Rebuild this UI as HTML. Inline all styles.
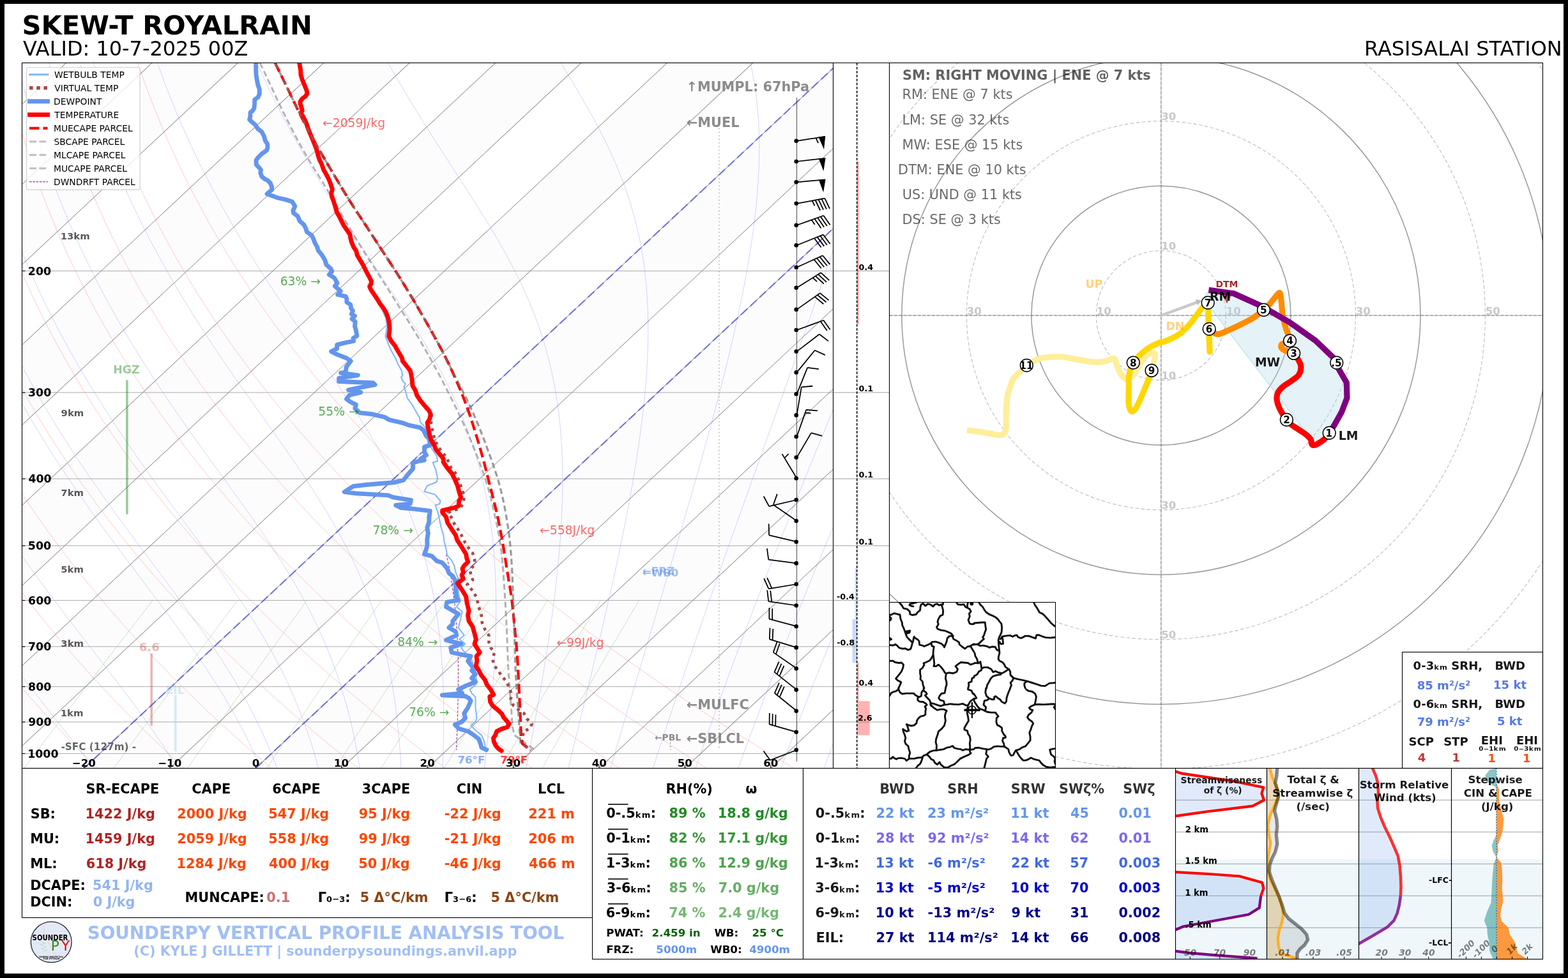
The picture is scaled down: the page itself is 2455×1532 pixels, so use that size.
<!DOCTYPE html>
<html><head><meta charset="utf-8"><title>SKEW-T ROYALRAIN</title>
<style>html,body{margin:0;padding:0;background:#fff;}svg{display:block;font-family:'DejaVu Sans','Liberation Sans',sans-serif;}</style></head>
<body><svg width="2455" height="1532" viewBox="0 0 2455 1532">
<rect x="0" y="0" width="2455" height="1532" fill="#fff"/>
<defs><clipPath id="skc"><rect x="34.5" y="98.5" width="1270.0" height="1105.0"/></clipPath></defs>
<g clip-path="url(#skc)">
<path d="M-943.7,1203.5 L238.1,98.5 L372.5,98.5 L-809.3,1203.5 Z" fill="#808080" stroke="none" stroke-width="1" fill-opacity="0.025"/>
<path d="M-674.9,1203.5 L506.9,98.5 L641.3,98.5 L-540.5,1203.5 Z" fill="#808080" stroke="none" stroke-width="1" fill-opacity="0.025"/>
<path d="M-406.1,1203.5 L775.7,98.5 L910.1,98.5 L-271.7,1203.5 Z" fill="#808080" stroke="none" stroke-width="1" fill-opacity="0.025"/>
<path d="M-137.3,1203.5 L1044.5,98.5 L1178.9,98.5 L-2.9,1203.5 Z" fill="#808080" stroke="none" stroke-width="1" fill-opacity="0.025"/>
<path d="M131.5,1203.5 L1313.3,98.5 L1447.7,98.5 L265.9,1203.5 Z" fill="#808080" stroke="none" stroke-width="1" fill-opacity="0.025"/>
<path d="M400.3,1203.5 L1582.1,98.5 L1716.5,98.5 L534.7,1203.5 Z" fill="#808080" stroke="none" stroke-width="1" fill-opacity="0.025"/>
<path d="M669.1,1203.5 L1850.9,98.5 L1985.3,98.5 L803.5,1203.5 Z" fill="#808080" stroke="none" stroke-width="1" fill-opacity="0.025"/>
<path d="M937.9,1203.5 L2119.7,98.5 L2254.1,98.5 L1072.3,1203.5 Z" fill="#808080" stroke="none" stroke-width="1" fill-opacity="0.025"/>
<path d="M239.0,940.5 L225.7,957.8 L212.8,974.5 L200.3,990.6 L188.3,1006.1 L176.7,1021.2 L165.5,1035.8 L154.6,1050.0 L144.0,1063.7 L133.8,1077.1 L123.9,1090.1 L114.2,1102.7 L104.8,1115.0 L95.6,1127.0 L86.7,1138.7 L78.0,1150.1 L69.5,1161.3 L61.3,1172.1 L53.2,1182.8 L45.3,1193.2 L37.6,1203.4" fill="none" stroke="#008000" stroke-width="0.6" stroke-opacity="0.35"/>
<path d="M371.8,940.5 L358.9,957.8 L346.4,974.5 L334.5,990.6 L322.9,1006.1 L311.7,1021.2 L300.9,1035.8 L290.5,1050.0 L280.3,1063.7 L270.5,1077.1 L260.9,1090.1 L251.6,1102.7 L242.6,1115.0 L233.8,1127.0 L225.2,1138.7 L216.9,1150.1 L208.7,1161.3 L200.8,1172.1 L193.0,1182.8 L185.5,1193.2 L178.1,1203.4" fill="none" stroke="#008000" stroke-width="0.6" stroke-opacity="0.35"/>
<path d="M480.6,940.5 L468.1,957.8 L456.1,974.5 L444.5,990.6 L433.4,1006.1 L422.6,1021.2 L412.1,1035.8 L402.0,1050.0 L392.2,1063.7 L382.7,1077.1 L373.5,1090.1 L364.5,1102.7 L355.8,1115.0 L347.3,1127.0 L339.0,1138.7 L331.0,1150.1 L323.1,1161.3 L315.5,1172.1 L308.0,1182.8 L300.7,1193.2 L293.5,1203.4" fill="none" stroke="#008000" stroke-width="0.6" stroke-opacity="0.35"/>
<path d="M597.4,940.5 L585.4,957.8 L573.9,974.5 L562.7,990.6 L552.0,1006.1 L541.6,1021.2 L531.6,1035.8 L521.9,1050.0 L512.4,1063.7 L503.3,1077.1 L494.4,1090.1 L485.8,1102.7 L477.5,1115.0 L469.3,1127.0 L461.4,1138.7 L453.7,1150.1 L446.1,1161.3 L438.8,1172.1 L431.6,1182.8 L424.6,1193.2 L417.8,1203.4" fill="none" stroke="#008000" stroke-width="0.6" stroke-opacity="0.35"/>
<path d="M698.1,940.5 L686.5,957.8 L675.3,974.5 L664.6,990.6 L654.2,1006.1 L644.2,1021.2 L634.5,1035.8 L625.2,1050.0 L616.1,1063.7 L607.3,1077.1 L598.7,1090.1 L590.5,1102.7 L582.4,1115.0 L574.6,1127.0 L566.9,1138.7 L559.5,1150.1 L552.3,1161.3 L545.2,1172.1 L538.3,1182.8 L531.6,1193.2 L525.0,1203.4" fill="none" stroke="#008000" stroke-width="0.6" stroke-opacity="0.35"/>
<path d="M765.2,940.5 L753.9,957.8 L743.1,974.5 L732.6,990.6 L722.5,1006.1 L712.7,1021.2 L703.3,1035.8 L694.2,1050.0 L685.3,1063.7 L676.8,1077.1 L668.5,1090.1 L660.4,1102.7 L652.5,1115.0 L644.9,1127.0 L637.5,1138.7 L630.3,1150.1 L623.2,1161.3 L616.4,1172.1 L609.7,1182.8 L603.1,1193.2 L596.8,1203.4" fill="none" stroke="#008000" stroke-width="0.6" stroke-opacity="0.35"/>
<path d="M857.4,940.5 L846.5,957.8 L836.0,974.5 L825.9,990.6 L816.2,1006.1 L806.8,1021.2 L797.7,1035.8 L788.9,1050.0 L780.4,1063.7 L772.2,1077.1 L764.2,1090.1 L756.4,1102.7 L748.9,1115.0 L741.6,1127.0 L734.4,1138.7 L727.5,1150.1 L720.7,1161.3 L714.1,1172.1 L707.7,1182.8 L701.5,1193.2 L695.3,1203.4" fill="none" stroke="#008000" stroke-width="0.6" stroke-opacity="0.35"/>
<path d="M940.2,940.5 L929.6,957.8 L919.5,974.5 L909.8,990.6 L900.4,1006.1 L891.3,1021.2 L882.5,1035.8 L874.1,1050.0 L865.9,1063.7 L857.9,1077.1 L850.2,1090.1 L842.8,1102.7 L835.5,1115.0 L828.4,1127.0 L821.6,1138.7 L814.9,1150.1 L808.4,1161.3 L802.1,1172.1 L795.9,1182.8 L789.9,1193.2 L784.0,1203.4" fill="none" stroke="#008000" stroke-width="0.6" stroke-opacity="0.35"/>
<path d="M1000.6,940.5 L990.3,957.8 L980.5,974.5 L971.0,990.6 L961.8,1006.1 L953.0,1021.2 L944.5,1035.8 L936.2,1050.0 L928.3,1063.7 L920.5,1077.1 L913.1,1090.1 L905.8,1102.7 L898.7,1115.0 L891.9,1127.0 L885.2,1138.7 L878.8,1150.1 L872.4,1161.3 L866.3,1172.1 L860.3,1182.8 L854.5,1193.2 L848.8,1203.4" fill="none" stroke="#008000" stroke-width="0.6" stroke-opacity="0.35"/>
<path d="M-480.2,98.8 L-482.5,126.4 L-484.3,154.0 L-485.7,181.6 L-486.5,209.3 L-486.9,236.9 L-486.8,264.5 L-486.2,292.1 L-485.1,319.7 L-483.5,347.3 L-481.3,374.9 L-478.6,402.6 L-475.3,430.2 L-471.5,457.8 L-467.2,485.4 L-462.2,513.0 L-456.7,540.6 L-450.6,568.2 L-443.8,595.9 L-436.5,623.5 L-428.5,651.1 L-419.9,678.7 L-410.7,706.3 L-400.8,733.9 L-390.2,761.5 L-379.0,789.1 L-367.0,816.8 L-354.4,844.4 L-341.0,872.0 L-326.9,899.6 L-312.1,927.2 L-296.6,954.8 L-280.2,982.4 L-263.1,1010.1 L-245.2,1037.7 L-226.5,1065.3 L-207.0,1092.9 L-186.6,1120.5 L-165.4,1148.1 L-143.4,1175.7 L-120.4,1203.4" fill="none" stroke="#ff0000" stroke-width="0.7" stroke-opacity="0.3"/>
<path d="M-410.6,98.8 L-411.7,126.4 L-412.3,154.0 L-412.5,181.6 L-412.1,209.3 L-411.2,236.9 L-409.8,264.5 L-407.9,292.1 L-405.5,319.7 L-402.5,347.3 L-398.9,374.9 L-394.8,402.6 L-390.2,430.2 L-384.9,457.8 L-379.1,485.4 L-372.7,513.0 L-365.6,540.6 L-357.9,568.2 L-349.6,595.9 L-340.7,623.5 L-331.1,651.1 L-320.9,678.7 L-310.0,706.3 L-298.3,733.9 L-286.0,761.5 L-273.0,789.1 L-259.3,816.8 L-244.8,844.4 L-229.6,872.0 L-213.6,899.6 L-196.9,927.2 L-179.4,954.8 L-161.1,982.4 L-141.9,1010.1 L-122.0,1037.7 L-101.2,1065.3 L-79.5,1092.9 L-57.0,1120.5 L-33.6,1148.1 L-9.3,1175.7 L15.9,1203.4" fill="none" stroke="#ff0000" stroke-width="0.7" stroke-opacity="0.3"/>
<path d="M-341.0,98.8 L-340.9,126.4 L-340.3,154.0 L-339.2,181.6 L-337.6,209.3 L-335.5,236.9 L-332.8,264.5 L-329.6,292.1 L-325.8,319.7 L-321.5,347.3 L-316.6,374.9 L-311.1,402.6 L-305.0,430.2 L-298.3,457.8 L-291.0,485.4 L-283.1,513.0 L-274.5,540.6 L-265.3,568.2 L-255.5,595.9 L-244.9,623.5 L-233.7,651.1 L-221.8,678.7 L-209.2,706.3 L-195.9,733.9 L-181.9,761.5 L-167.1,789.1 L-151.6,816.8 L-135.3,844.4 L-118.2,872.0 L-100.4,899.6 L-81.7,927.2 L-62.2,954.8 L-41.9,982.4 L-20.8,1010.1 L1.2,1037.7 L24.1,1065.3 L47.9,1092.9 L72.6,1120.5 L98.2,1148.1 L124.7,1175.7 L152.2,1203.4" fill="none" stroke="#ff0000" stroke-width="0.7" stroke-opacity="0.3"/>
<path d="M-271.4,98.8 L-270.1,126.4 L-268.3,154.0 L-266.0,181.6 L-263.2,209.3 L-259.8,236.9 L-255.8,264.5 L-251.3,292.1 L-246.2,319.7 L-240.5,347.3 L-234.2,374.9 L-227.4,402.6 L-219.9,430.2 L-211.7,457.8 L-203.0,485.4 L-193.5,513.0 L-183.5,540.6 L-172.7,568.2 L-161.3,595.9 L-149.2,623.5 L-136.3,651.1 L-122.8,678.7 L-108.5,706.3 L-93.5,733.9 L-77.7,761.5 L-61.2,789.1 L-43.8,816.8 L-25.7,844.4 L-6.8,872.0 L12.9,899.6 L33.5,927.2 L55.0,954.8 L77.2,982.4 L100.4,1010.1 L124.5,1037.7 L149.4,1065.3 L175.3,1092.9 L202.2,1120.5 L229.9,1148.1 L258.7,1175.7 L288.4,1203.4" fill="none" stroke="#ff0000" stroke-width="0.7" stroke-opacity="0.3"/>
<path d="M-201.8,98.8 L-199.3,126.4 L-196.4,154.0 L-192.8,181.6 L-188.7,209.3 L-184.1,236.9 L-178.8,264.5 L-173.0,292.1 L-166.6,319.7 L-159.6,347.3 L-151.9,374.9 L-143.6,402.6 L-134.7,430.2 L-125.1,457.8 L-114.9,485.4 L-104.0,513.0 L-92.4,540.6 L-80.1,568.2 L-67.1,595.9 L-53.4,623.5 L-38.9,651.1 L-23.7,678.7 L-7.8,706.3 L9.0,733.9 L26.5,761.5 L44.8,789.1 L63.9,816.8 L83.8,844.4 L104.6,872.0 L126.2,899.6 L148.7,927.2 L172.1,954.8 L196.4,982.4 L221.6,1010.1 L247.7,1037.7 L274.7,1065.3 L302.8,1092.9 L331.7,1120.5 L361.7,1148.1 L392.7,1175.7 L424.7,1203.4" fill="none" stroke="#ff0000" stroke-width="0.7" stroke-opacity="0.3"/>
<path d="M-132.1,98.8 L-128.5,126.4 L-124.4,154.0 L-119.6,181.6 L-114.3,209.3 L-108.4,236.9 L-101.8,264.5 L-94.7,292.1 L-87.0,319.7 L-78.6,347.3 L-69.6,374.9 L-59.9,402.6 L-49.5,430.2 L-38.5,457.8 L-26.8,485.4 L-14.4,513.0 L-1.3,540.6 L12.5,568.2 L27.1,595.9 L42.4,623.5 L58.5,651.1 L75.3,678.7 L93.0,706.3 L111.4,733.9 L130.6,761.5 L150.7,789.1 L171.6,816.8 L193.4,844.4 L216.0,872.0 L239.5,899.6 L264.0,927.2 L289.3,954.8 L315.5,982.4 L342.7,1010.1 L370.9,1037.7 L400.1,1065.3 L430.2,1092.9 L461.3,1120.5 L493.5,1148.1 L526.7,1175.7 L561.0,1203.4" fill="none" stroke="#ff0000" stroke-width="0.7" stroke-opacity="0.3"/>
<path d="M-62.5,98.8 L-57.7,126.4 L-52.4,154.0 L-46.4,181.6 L-39.8,209.3 L-32.7,236.9 L-24.8,264.5 L-16.4,292.1 L-7.3,319.7 L2.4,347.3 L12.8,374.9 L23.9,402.6 L35.6,430.2 L48.1,457.8 L61.2,485.4 L75.1,513.0 L89.8,540.6 L105.1,568.2 L121.3,595.9 L138.2,623.5 L155.9,651.1 L174.4,678.7 L193.7,706.3 L213.8,733.9 L234.8,761.5 L256.7,789.1 L279.4,816.8 L302.9,844.4 L327.4,872.0 L352.8,899.6 L379.2,927.2 L406.5,954.8 L434.7,982.4 L463.9,1010.1 L494.1,1037.7 L525.4,1065.3 L557.6,1092.9 L590.9,1120.5 L625.3,1148.1 L660.7,1175.7 L697.3,1203.4" fill="none" stroke="#ff0000" stroke-width="0.7" stroke-opacity="0.3"/>
<path d="M7.1,98.8 L13.1,126.4 L19.6,154.0 L26.8,181.6 L34.6,209.3 L43.1,236.9 L52.1,264.5 L61.9,292.1 L72.3,319.7 L83.4,347.3 L95.1,374.9 L107.6,402.6 L120.8,430.2 L134.7,457.8 L149.3,485.4 L164.7,513.0 L180.8,540.6 L197.8,568.2 L215.5,595.9 L234.0,623.5 L253.3,651.1 L273.4,678.7 L294.4,706.3 L316.3,733.9 L339.0,761.5 L362.6,789.1 L387.1,816.8 L412.5,844.4 L438.8,872.0 L466.1,899.6 L494.4,927.2 L523.6,954.8 L553.9,982.4 L585.1,1010.1 L617.4,1037.7 L650.7,1065.3 L685.1,1092.9 L720.5,1120.5 L757.1,1148.1 L794.8,1175.7 L833.6,1203.4" fill="none" stroke="#ff0000" stroke-width="0.7" stroke-opacity="0.3"/>
<path d="M76.7,98.8 L83.8,126.4 L91.6,154.0 L100.0,181.6 L109.1,209.3 L118.8,236.9 L129.1,264.5 L140.2,292.1 L151.9,319.7 L164.3,347.3 L177.5,374.9 L191.3,402.6 L205.9,430.2 L221.3,457.8 L237.4,485.4 L254.3,513.0 L271.9,540.6 L290.4,568.2 L309.7,595.9 L329.8,623.5 L350.7,651.1 L372.5,678.7 L395.2,706.3 L418.7,733.9 L443.2,761.5 L468.5,789.1 L494.8,816.8 L522.1,844.4 L550.3,872.0 L579.4,899.6 L609.6,927.2 L640.8,954.8 L673.0,982.4 L706.3,1010.1 L740.6,1037.7 L776.0,1065.3 L812.5,1092.9 L850.1,1120.5 L888.9,1148.1 L928.8,1175.7 L969.9,1203.4" fill="none" stroke="#ff0000" stroke-width="0.7" stroke-opacity="0.3"/>
<path d="M146.3,98.8 L154.6,126.4 L163.6,154.0 L173.2,181.6 L183.5,209.3 L194.5,236.9 L206.1,264.5 L218.5,292.1 L231.5,319.7 L245.3,347.3 L259.8,374.9 L275.1,402.6 L291.1,430.2 L307.9,457.8 L325.4,485.4 L343.8,513.0 L363.0,540.6 L383.0,568.2 L403.8,595.9 L425.5,623.5 L448.1,651.1 L471.5,678.7 L495.9,706.3 L521.1,733.9 L547.3,761.5 L574.5,789.1 L602.5,816.8 L631.6,844.4 L661.7,872.0 L692.7,899.6 L724.8,927.2 L758.0,954.8 L792.2,982.4 L827.4,1010.1 L863.8,1037.7 L901.3,1065.3 L939.9,1092.9 L979.7,1120.5 L1020.7,1148.1 L1062.8,1175.7 L1106.2,1203.4" fill="none" stroke="#ff0000" stroke-width="0.7" stroke-opacity="0.3"/>
<path d="M215.9,98.8 L225.4,126.4 L235.6,154.0 L246.4,181.6 L258.0,209.3 L270.2,236.9 L283.1,264.5 L296.8,292.1 L311.2,319.7 L326.3,347.3 L342.2,374.9 L358.8,402.6 L376.2,430.2 L394.5,457.8 L413.5,485.4 L433.4,513.0 L454.1,540.6 L475.6,568.2 L498.0,595.9 L521.3,623.5 L545.5,651.1 L570.6,678.7 L596.6,706.3 L623.6,733.9 L651.5,761.5 L680.4,789.1 L710.3,816.8 L741.2,844.4 L773.1,872.0 L806.0,899.6 L840.0,927.2 L875.1,954.8 L911.3,982.4 L948.6,1010.1 L987.0,1037.7 L1026.6,1065.3 L1067.4,1092.9 L1109.3,1120.5 L1152.4,1148.1 L1196.8,1175.7 L1242.4,1203.4" fill="none" stroke="#ff0000" stroke-width="0.7" stroke-opacity="0.3"/>
<path d="M-478.6,98.8 L-482.0,143.6 L-484.1,184.4 L-485.0,222.0 L-485.1,256.9 L-484.5,289.3 L-483.2,319.6 L-481.5,348.1 L-479.4,374.9 L-476.9,400.3 L-474.1,424.4 L-471.0,447.3 L-467.8,469.2 L-464.3,490.1 L-460.7,510.1 L-456.9,529.2 L-453.0,547.7 L-449.1,565.4 L-445.0,582.5 L-440.8,598.9 L-436.6,614.9 L-432.3,630.3 L-428.0,645.2 L-423.6,659.6 L-419.2,673.7 L-414.8,687.3 L-410.3,700.5 L-405.8,713.4 L-401.3,725.9 L-396.8,738.1 L-392.3,750.0 L-387.8,761.6 L-383.2,772.9 L-378.7,784.0 L-374.1,794.8 L-369.6,805.3 L-365.0,815.7 L-360.5,825.8 L-355.9,835.7 L-351.4,845.3 L-346.9,854.8 L-342.3,864.1 L-337.8,873.3 L-333.3,882.2 L-328.8,891.0 L-324.4,899.6 L-319.9,908.1 L-315.4,916.4 L-311.0,924.6 L-306.5,932.6 L-302.1,940.5 L-297.7,948.2 L-293.3,955.9 L-289.0,963.4 L-284.6,970.8 L-280.3,978.1 L-275.9,985.3 L-271.6,992.3 L-267.3,999.3 L-263.0,1006.1 L-258.8,1012.9 L-254.5,1019.6 L-250.3,1026.1 L-246.1,1032.6 L-241.9,1039.0 L-237.7,1045.3 L-233.6,1051.5 L-229.4,1057.7 L-225.3,1063.7 L-221.2,1069.7 L-217.1,1075.6 L-213.0,1081.5 L-209.0,1087.2 L-205.0,1092.9 L-201.0,1098.5 L-197.0,1104.1 L-193.0,1109.6 L-189.0,1115.0 L-185.1,1120.4 L-181.2,1125.7 L-177.3,1130.9 L-173.4,1136.1 L-169.6,1141.3 L-165.8,1146.3 L-161.9,1151.4 L-158.2,1156.3 L-154.4,1161.3 L-150.6,1166.1 L-146.9,1170.9 L-143.2,1175.7 L-139.5,1180.4 L-135.9,1185.1 L-132.2,1189.7 L-128.6,1194.3 L-125.0,1198.9 L-121.4,1203.4" fill="none" stroke="#0000ff" stroke-width="0.7" stroke-opacity="0.25"/>
<path d="M-406.1,98.8 L-407.5,143.6 L-407.7,184.4 L-406.9,222.0 L-405.3,256.9 L-403.0,289.3 L-400.3,319.6 L-397.1,348.1 L-393.6,374.9 L-389.7,400.3 L-385.7,424.4 L-381.4,447.3 L-376.9,469.2 L-372.3,490.1 L-367.5,510.1 L-362.7,529.2 L-357.8,547.7 L-352.7,565.4 L-347.7,582.5 L-342.5,598.9 L-337.4,614.9 L-332.1,630.3 L-326.9,645.2 L-321.6,659.6 L-316.4,673.7 L-311.1,687.3 L-305.8,700.5 L-300.5,713.4 L-295.2,725.9 L-289.8,738.1 L-284.5,750.0 L-279.2,761.6 L-274.0,772.9 L-268.7,784.0 L-263.4,794.8 L-258.1,805.3 L-252.9,815.7 L-247.7,825.8 L-242.5,835.7 L-237.3,845.3 L-232.1,854.8 L-226.9,864.1 L-221.8,873.3 L-216.6,882.2 L-211.5,891.0 L-206.5,899.6 L-201.4,908.1 L-196.4,916.4 L-191.3,924.6 L-186.4,932.6 L-181.4,940.5 L-176.4,948.2 L-171.5,955.9 L-166.6,963.4 L-161.7,970.8 L-156.9,978.1 L-152.1,985.3 L-147.3,992.3 L-142.5,999.3 L-137.8,1006.1 L-133.0,1012.9 L-128.4,1019.6 L-123.7,1026.1 L-119.1,1032.6 L-114.4,1039.0 L-109.9,1045.3 L-105.3,1051.5 L-100.8,1057.7 L-96.3,1063.7 L-91.8,1069.7 L-87.4,1075.6 L-83.0,1081.5 L-78.6,1087.2 L-74.2,1092.9 L-69.9,1098.5 L-65.6,1104.1 L-61.4,1109.6 L-57.1,1115.0 L-52.9,1120.4 L-48.8,1125.7 L-44.7,1130.9 L-40.5,1136.1 L-36.5,1141.3 L-32.4,1146.3 L-28.4,1151.4 L-24.5,1156.3 L-20.5,1161.3 L-16.6,1166.1 L-12.8,1170.9 L-8.9,1175.7 L-5.1,1180.4 L-1.3,1185.1 L2.4,1189.7 L6.1,1194.3 L9.8,1198.9 L13.4,1203.4" fill="none" stroke="#0000ff" stroke-width="0.7" stroke-opacity="0.25"/>
<path d="M-329.4,98.8 L-328.7,143.6 L-326.9,184.4 L-324.3,222.0 L-320.9,256.9 L-317.0,289.3 L-312.6,319.6 L-307.9,348.1 L-302.9,374.9 L-297.7,400.3 L-292.2,424.4 L-286.6,447.3 L-280.9,469.2 L-275.1,490.1 L-269.1,510.1 L-263.1,529.2 L-257.1,547.7 L-251.0,565.4 L-244.8,582.5 L-238.7,598.9 L-232.5,614.9 L-226.3,630.3 L-220.1,645.2 L-213.9,659.6 L-207.7,673.7 L-201.5,687.3 L-195.3,700.5 L-189.1,713.4 L-183.0,725.9 L-176.8,738.1 L-170.7,750.0 L-164.6,761.6 L-158.5,772.9 L-152.5,784.0 L-146.5,794.8 L-140.5,805.3 L-134.5,815.7 L-128.6,825.8 L-122.7,835.7 L-116.8,845.3 L-111.0,854.8 L-105.1,864.1 L-99.4,873.3 L-93.6,882.2 L-87.9,891.0 L-82.2,899.6 L-76.6,908.1 L-71.0,916.4 L-65.4,924.6 L-59.9,932.6 L-54.4,940.5 L-48.9,948.2 L-43.5,955.9 L-38.1,963.4 L-32.8,970.8 L-27.5,978.1 L-22.2,985.3 L-17.0,992.3 L-11.8,999.3 L-6.7,1006.1 L-1.6,1012.9 L3.4,1019.6 L8.4,1026.1 L13.4,1032.6 L18.3,1039.0 L23.2,1045.3 L28.0,1051.5 L32.8,1057.7 L37.5,1063.7 L42.2,1069.7 L46.8,1075.6 L51.4,1081.5 L56.0,1087.2 L60.5,1092.9 L64.9,1098.5 L69.3,1104.1 L73.7,1109.6 L78.0,1115.0 L82.2,1120.4 L86.4,1125.7 L90.6,1130.9 L94.7,1136.1 L98.7,1141.3 L102.7,1146.3 L106.6,1151.4 L110.5,1156.3 L114.4,1161.3 L118.2,1166.1 L121.9,1170.9 L125.6,1175.7 L129.3,1180.4 L132.9,1185.1 L136.4,1189.7 L139.9,1194.3 L143.4,1198.9 L146.8,1203.4" fill="none" stroke="#0000ff" stroke-width="0.7" stroke-opacity="0.25"/>
<path d="M-244.1,98.8 L-241.1,143.6 L-237.0,184.4 L-232.3,222.0 L-227.0,256.9 L-221.2,289.3 L-215.1,319.6 L-208.6,348.1 L-202.0,374.9 L-195.2,400.3 L-188.2,424.4 L-181.2,447.3 L-174.0,469.2 L-166.8,490.1 L-159.6,510.1 L-152.3,529.2 L-145.0,547.7 L-137.7,565.4 L-130.3,582.5 L-123.0,598.9 L-115.7,614.9 L-108.4,630.3 L-101.2,645.2 L-93.9,659.6 L-86.7,673.7 L-79.5,687.3 L-72.4,700.5 L-65.2,713.4 L-58.2,725.9 L-51.1,738.1 L-44.1,750.0 L-37.2,761.6 L-30.3,772.9 L-23.4,784.0 L-16.6,794.8 L-9.8,805.3 L-3.1,815.7 L3.6,825.8 L10.2,835.7 L16.7,845.3 L23.3,854.8 L29.7,864.1 L36.1,873.3 L42.5,882.2 L48.7,891.0 L55.0,899.6 L61.1,908.1 L67.2,916.4 L73.3,924.6 L79.2,932.6 L85.2,940.5 L91.0,948.2 L96.8,955.9 L102.5,963.4 L108.2,970.8 L113.7,978.1 L119.3,985.3 L124.7,992.3 L130.1,999.3 L135.4,1006.1 L140.6,1012.9 L145.8,1019.6 L150.8,1026.1 L155.9,1032.6 L160.8,1039.0 L165.7,1045.3 L170.4,1051.5 L175.2,1057.7 L179.8,1063.7 L184.4,1069.7 L188.9,1075.6 L193.3,1081.5 L197.6,1087.2 L201.9,1092.9 L206.1,1098.5 L210.2,1104.1 L214.3,1109.6 L218.2,1115.0 L222.1,1120.4 L226.0,1125.7 L229.7,1130.9 L233.4,1136.1 L237.1,1141.3 L240.6,1146.3 L244.1,1151.4 L247.5,1156.3 L250.9,1161.3 L254.2,1166.1 L257.4,1170.9 L260.6,1175.7 L263.7,1180.4 L266.7,1185.1 L269.7,1189.7 L272.6,1194.3 L275.5,1198.9 L278.3,1203.4" fill="none" stroke="#0000ff" stroke-width="0.7" stroke-opacity="0.25"/>
<path d="M-141.4,98.8 L-135.6,143.6 L-128.9,184.4 L-121.6,222.0 L-113.9,256.9 L-105.9,289.3 L-97.6,319.6 L-89.2,348.1 L-80.6,374.9 L-71.9,400.3 L-63.1,424.4 L-54.3,447.3 L-45.4,469.2 L-36.6,490.1 L-27.7,510.1 L-18.9,529.2 L-10.1,547.7 L-1.4,565.4 L7.4,582.5 L16.1,598.9 L24.7,614.9 L33.3,630.3 L41.8,645.2 L50.2,659.6 L58.6,673.7 L67.0,687.3 L75.2,700.5 L83.4,713.4 L91.5,725.9 L99.5,738.1 L107.5,750.0 L115.3,761.6 L123.1,772.9 L130.8,784.0 L138.4,794.8 L145.9,805.3 L153.4,815.7 L160.7,825.8 L167.9,835.7 L175.1,845.3 L182.1,854.8 L189.0,864.1 L195.8,873.3 L202.5,882.2 L209.1,891.0 L215.6,899.6 L222.0,908.1 L228.3,916.4 L234.5,924.6 L240.5,932.6 L246.4,940.5 L252.3,948.2 L257.9,955.9 L263.5,963.4 L269.0,970.8 L274.3,978.1 L279.6,985.3 L284.7,992.3 L289.7,999.3 L294.6,1006.1 L299.4,1012.9 L304.0,1019.6 L308.6,1026.1 L313.0,1032.6 L317.4,1039.0 L321.6,1045.3 L325.7,1051.5 L329.7,1057.7 L333.6,1063.7 L337.5,1069.7 L341.2,1075.6 L344.8,1081.5 L348.3,1087.2 L351.8,1092.9 L355.1,1098.5 L358.4,1104.1 L361.6,1109.6 L364.6,1115.0 L367.7,1120.4 L370.6,1125.7 L373.4,1130.9 L376.2,1136.1 L378.9,1141.3 L381.5,1146.3 L384.1,1151.4 L386.6,1156.3 L389.0,1161.3 L391.4,1166.1 L393.7,1170.9 L395.9,1175.7 L398.1,1180.4 L400.2,1185.1 L402.3,1189.7 L404.3,1194.3 L406.2,1198.9 L408.1,1203.4" fill="none" stroke="#0000ff" stroke-width="0.7" stroke-opacity="0.25"/>
<path d="M-117.6,98.8 L-111.1,143.6 L-103.8,184.4 L-95.9,222.0 L-87.7,256.9 L-79.1,289.3 L-70.4,319.6 L-61.4,348.1 L-52.4,374.9 L-43.2,400.3 L-34.0,424.4 L-24.8,447.3 L-15.6,469.2 L-6.3,490.1 L2.9,510.1 L12.0,529.2 L21.2,547.7 L30.3,565.4 L39.3,582.5 L48.3,598.9 L57.2,614.9 L66.1,630.3 L74.9,645.2 L83.6,659.6 L92.3,673.7 L100.9,687.3 L109.3,700.5 L117.7,713.4 L126.1,725.9 L134.3,738.1 L142.4,750.0 L150.5,761.6 L158.4,772.9 L166.3,784.0 L174.0,794.8 L181.6,805.3 L189.2,815.7 L196.6,825.8 L203.9,835.7 L211.1,845.3 L218.1,854.8 L225.1,864.1 L231.9,873.3 L238.6,882.2 L245.2,891.0 L251.7,899.6 L258.0,908.1 L264.2,916.4 L270.3,924.6 L276.3,932.6 L282.1,940.5 L287.8,948.2 L293.3,955.9 L298.8,963.4 L304.1,970.8 L309.3,978.1 L314.3,985.3 L319.3,992.3 L324.1,999.3 L328.8,1006.1 L333.3,1012.9 L337.8,1019.6 L342.1,1026.1 L346.3,1032.6 L350.4,1039.0 L354.4,1045.3 L358.3,1051.5 L362.1,1057.7 L365.8,1063.7 L369.3,1069.7 L372.8,1075.6 L376.2,1081.5 L379.5,1087.2 L382.7,1092.9 L385.8,1098.5 L388.8,1104.1 L391.7,1109.6 L394.5,1115.0 L397.3,1120.4 L400.0,1125.7 L402.6,1130.9 L405.1,1136.1 L407.6,1141.3 L410.0,1146.3 L412.3,1151.4 L414.6,1156.3 L416.8,1161.3 L418.9,1166.1 L421.0,1170.9 L423.0,1175.7 L425.0,1180.4 L426.9,1185.1 L428.7,1189.7 L430.5,1194.3 L432.3,1198.9 L434.0,1203.4" fill="none" stroke="#0000ff" stroke-width="0.7" stroke-opacity="0.25"/>
<path d="M-51.1,98.8 L-42.7,143.6 L-33.7,184.4 L-24.3,222.0 L-14.5,256.9 L-4.5,289.3 L5.7,319.6 L15.9,348.1 L26.3,374.9 L36.6,400.3 L47.0,424.4 L57.3,447.3 L67.7,469.2 L77.9,490.1 L88.2,510.1 L98.3,529.2 L108.4,547.7 L118.4,565.4 L128.3,582.5 L138.1,598.9 L147.9,614.9 L157.5,630.3 L167.0,645.2 L176.4,659.6 L185.7,673.7 L194.9,687.3 L204.0,700.5 L212.9,713.4 L221.7,725.9 L230.4,738.1 L238.9,750.0 L247.3,761.6 L255.6,772.9 L263.6,784.0 L271.6,794.8 L279.4,805.3 L287.0,815.7 L294.5,825.8 L301.8,835.7 L308.9,845.3 L315.8,854.8 L322.6,864.1 L329.3,873.3 L335.7,882.2 L342.0,891.0 L348.1,899.6 L354.1,908.1 L359.9,916.4 L365.5,924.6 L371.0,932.6 L376.3,940.5 L381.4,948.2 L386.4,955.9 L391.2,963.4 L395.9,970.8 L400.4,978.1 L404.8,985.3 L409.0,992.3 L413.1,999.3 L417.1,1006.1 L421.0,1012.9 L424.7,1019.6 L428.3,1026.1 L431.7,1032.6 L435.1,1039.0 L438.4,1045.3 L441.5,1051.5 L444.5,1057.7 L447.5,1063.7 L450.3,1069.7 L453.0,1075.6 L455.7,1081.5 L458.2,1087.2 L460.7,1092.9 L463.1,1098.5 L465.4,1104.1 L467.6,1109.6 L469.8,1115.0 L471.9,1120.4 L473.9,1125.7 L475.8,1130.9 L477.7,1136.1 L479.6,1141.3 L481.3,1146.3 L483.0,1151.4 L484.7,1156.3 L486.3,1161.3 L487.8,1166.1 L489.3,1170.9 L490.8,1175.7 L492.2,1180.4 L493.5,1185.1 L494.8,1189.7 L496.1,1194.3 L497.3,1198.9 L498.5,1203.4" fill="none" stroke="#0000ff" stroke-width="0.7" stroke-opacity="0.25"/>
<path d="M28.1,98.8 L38.7,143.6 L49.7,184.4 L61.1,222.0 L72.7,256.9 L84.5,289.3 L96.3,319.6 L108.1,348.1 L120.0,374.9 L131.8,400.3 L143.5,424.4 L155.2,447.3 L166.8,469.2 L178.3,490.1 L189.7,510.1 L200.9,529.2 L212.1,547.7 L223.1,565.4 L234.0,582.5 L244.7,598.9 L255.2,614.9 L265.6,630.3 L275.8,645.2 L285.9,659.6 L295.8,673.7 L305.4,687.3 L314.9,700.5 L324.2,713.4 L333.2,725.9 L342.1,738.1 L350.7,750.0 L359.1,761.6 L367.3,772.9 L375.3,784.0 L383.0,794.8 L390.5,805.3 L397.7,815.7 L404.8,825.8 L411.6,835.7 L418.1,845.3 L424.5,854.8 L430.6,864.1 L436.5,873.3 L442.2,882.2 L447.6,891.0 L452.9,899.6 L458.0,908.1 L462.8,916.4 L467.5,924.6 L472.0,932.6 L476.3,940.5 L480.5,948.2 L484.5,955.9 L488.3,963.4 L492.0,970.8 L495.5,978.1 L498.9,985.3 L502.1,992.3 L505.2,999.3 L508.2,1006.1 L511.0,1012.9 L513.8,1019.6 L516.4,1026.1 L519.0,1032.6 L521.4,1039.0 L523.7,1045.3 L525.9,1051.5 L528.1,1057.7 L530.1,1063.7 L532.1,1069.7 L534.0,1075.6 L535.8,1081.5 L537.5,1087.2 L539.2,1092.9 L540.8,1098.5 L542.4,1104.1 L543.8,1109.6 L545.3,1115.0 L546.6,1120.4 L547.9,1125.7 L549.2,1130.9 L550.4,1136.1 L551.6,1141.3 L552.7,1146.3 L553.8,1151.4 L554.8,1156.3 L555.8,1161.3 L556.7,1166.1 L557.6,1170.9 L558.5,1175.7 L559.4,1180.4 L560.2,1185.1 L561.0,1189.7 L561.7,1194.3 L562.4,1198.9 L563.1,1203.4" fill="none" stroke="#0000ff" stroke-width="0.7" stroke-opacity="0.25"/>
<path d="M125.0,98.8 L138.2,143.6 L151.8,184.4 L165.5,222.0 L179.3,256.9 L193.2,289.3 L207.0,319.6 L220.8,348.1 L234.4,374.9 L248.0,400.3 L261.3,424.4 L274.6,447.3 L287.6,469.2 L300.5,490.1 L313.2,510.1 L325.6,529.2 L337.8,547.7 L349.8,565.4 L361.5,582.5 L373.0,598.9 L384.2,614.9 L395.0,630.3 L405.6,645.2 L415.9,659.6 L425.8,673.7 L435.5,687.3 L444.8,700.5 L453.7,713.4 L462.4,725.9 L470.7,738.1 L478.6,750.0 L486.3,761.6 L493.6,772.9 L500.5,784.0 L507.2,794.8 L513.6,805.3 L519.6,815.7 L525.4,825.8 L530.9,835.7 L536.2,845.3 L541.1,854.8 L545.9,864.1 L550.4,873.3 L554.6,882.2 L558.7,891.0 L562.5,899.6 L566.2,908.1 L569.6,916.4 L572.9,924.6 L576.0,932.6 L579.0,940.5 L581.8,948.2 L584.4,955.9 L587.0,963.4 L589.4,970.8 L591.6,978.1 L593.8,985.3 L595.8,992.3 L597.8,999.3 L599.6,1006.1 L601.4,1012.9 L603.0,1019.6 L604.6,1026.1 L606.1,1032.6 L607.5,1039.0 L608.8,1045.3 L610.1,1051.5 L611.3,1057.7 L612.4,1063.7 L613.5,1069.7 L614.6,1075.6 L615.5,1081.5 L616.5,1087.2 L617.3,1092.9 L618.2,1098.5 L618.9,1104.1 L619.7,1109.6 L620.4,1115.0 L621.0,1120.4 L621.7,1125.7 L622.3,1130.9 L622.8,1136.1 L623.3,1141.3 L623.8,1146.3 L624.3,1151.4 L624.7,1156.3 L625.2,1161.3 L625.5,1166.1 L625.9,1170.9 L626.2,1175.7 L626.6,1180.4 L626.9,1185.1 L627.1,1189.7 L627.4,1194.3 L627.6,1198.9 L627.9,1203.4" fill="none" stroke="#0000ff" stroke-width="0.7" stroke-opacity="0.25"/>
<path d="M246.4,98.8 L263.0,143.6 L279.6,184.4 L296.3,222.0 L312.9,256.9 L329.4,289.3 L345.6,319.6 L361.7,348.1 L377.4,374.9 L392.9,400.3 L408.1,424.4 L423.0,447.3 L437.5,469.2 L451.5,490.1 L465.2,510.1 L478.4,529.2 L491.2,547.7 L503.5,565.4 L515.3,582.5 L526.6,598.9 L537.3,614.9 L547.6,630.3 L557.3,645.2 L566.5,659.6 L575.2,673.7 L583.4,687.3 L591.1,700.5 L598.3,713.4 L605.2,725.9 L611.5,738.1 L617.5,750.0 L623.1,761.6 L628.3,772.9 L633.2,784.0 L637.8,794.8 L642.0,805.3 L646.0,815.7 L649.7,825.8 L653.2,835.7 L656.4,845.3 L659.4,854.8 L662.2,864.1 L664.8,873.3 L667.2,882.2 L669.5,891.0 L671.6,899.6 L673.5,908.1 L675.3,916.4 L677.0,924.6 L678.6,932.6 L680.1,940.5 L681.4,948.2 L682.7,955.9 L683.8,963.4 L684.9,970.8 L685.9,978.1 L686.8,985.3 L687.7,992.3 L688.5,999.3 L689.2,1006.1 L689.9,1012.9 L690.5,1019.6 L691.0,1026.1 L691.5,1032.6 L692.0,1039.0 L692.4,1045.3 L692.8,1051.5 L693.1,1057.7 L693.4,1063.7 L693.6,1069.7 L693.9,1075.6 L694.1,1081.5 L694.2,1087.2 L694.4,1092.9 L694.5,1098.5 L694.6,1104.1 L694.7,1109.6 L694.7,1115.0 L694.7,1120.4 L694.7,1125.7 L694.7,1130.9 L694.7,1136.1 L694.6,1141.3 L694.6,1146.3 L694.5,1151.4 L694.4,1156.3 L694.3,1161.3 L694.2,1166.1 L694.1,1170.9 L693.9,1175.7 L693.8,1180.4 L693.6,1185.1 L693.4,1189.7 L693.2,1194.3 L693.1,1198.9 L692.9,1203.4" fill="none" stroke="#0000ff" stroke-width="0.7" stroke-opacity="0.25"/>
<path d="M402.4,98.8 L423.2,143.6 L443.8,184.4 L464.1,222.0 L484.0,256.9 L503.5,289.3 L522.4,319.6 L540.7,348.1 L558.4,374.9 L575.4,400.3 L591.6,424.4 L607.0,447.3 L621.5,469.2 L635.2,490.1 L648.0,510.1 L659.9,529.2 L670.9,547.7 L681.1,565.4 L690.5,582.5 L699.0,598.9 L706.9,614.9 L714.1,630.3 L720.6,645.2 L726.5,659.6 L731.9,673.7 L736.8,687.3 L741.3,700.5 L745.3,713.4 L749.0,725.9 L752.2,738.1 L755.2,750.0 L757.9,761.6 L760.3,772.9 L762.5,784.0 L764.4,794.8 L766.1,805.3 L767.7,815.7 L769.1,825.8 L770.3,835.7 L771.4,845.3 L772.3,854.8 L773.2,864.1 L773.9,873.3 L774.5,882.2 L775.0,891.0 L775.5,899.6 L775.8,908.1 L776.1,916.4 L776.3,924.6 L776.5,932.6 L776.6,940.5 L776.7,948.2 L776.7,955.9 L776.6,963.4 L776.5,970.8 L776.4,978.1 L776.2,985.3 L776.1,992.3 L775.8,999.3 L775.6,1006.1 L775.3,1012.9 L775.0,1019.6 L774.7,1026.1 L774.3,1032.6 L774.0,1039.0 L773.6,1045.3 L773.2,1051.5 L772.8,1057.7 L772.3,1063.7 L771.9,1069.7 L771.4,1075.6 L771.0,1081.5 L770.5,1087.2 L770.0,1092.9 L769.5,1098.5 L769.0,1104.1 L768.5,1109.6 L768.0,1115.0 L767.5,1120.4 L767.0,1125.7 L766.4,1130.9 L765.9,1136.1 L765.4,1141.3 L764.8,1146.3 L764.3,1151.4 L763.7,1156.3 L763.2,1161.3 L762.6,1166.1 L762.1,1170.9 L761.5,1175.7 L761.0,1180.4 L760.4,1185.1 L759.8,1189.7 L759.3,1194.3 L758.7,1198.9 L758.2,1203.4" fill="none" stroke="#0000ff" stroke-width="0.7" stroke-opacity="0.25"/>
<path d="M607.6,98.8 L633.6,143.6 L658.5,184.4 L682.3,222.0 L704.8,256.9 L725.8,289.3 L745.2,319.6 L762.9,348.1 L779.0,374.9 L793.3,400.3 L806.0,424.4 L817.3,447.3 L827.1,469.2 L835.6,490.1 L843.1,510.1 L849.5,529.2 L855.0,547.7 L859.7,565.4 L863.8,582.5 L867.2,598.9 L870.1,614.9 L872.5,630.3 L874.6,645.2 L876.2,659.6 L877.6,673.7 L878.7,687.3 L879.5,700.5 L880.1,713.4 L880.5,725.9 L880.7,738.1 L880.8,750.0 L880.8,761.6 L880.6,772.9 L880.4,784.0 L880.0,794.8 L879.6,805.3 L879.1,815.7 L878.5,825.8 L877.9,835.7 L877.2,845.3 L876.4,854.8 L875.7,864.1 L874.8,873.3 L874.0,882.2 L873.1,891.0 L872.2,899.6 L871.3,908.1 L870.4,916.4 L869.4,924.6 L868.5,932.6 L867.5,940.5 L866.5,948.2 L865.5,955.9 L864.5,963.4 L863.5,970.8 L862.5,978.1 L861.4,985.3 L860.4,992.3 L859.4,999.3 L858.4,1006.1 L857.3,1012.9 L856.3,1019.6 L855.3,1026.1 L854.2,1032.6 L853.2,1039.0 L852.2,1045.3 L851.2,1051.5 L850.2,1057.7 L849.2,1063.7 L848.1,1069.7 L847.1,1075.6 L846.1,1081.5 L845.1,1087.2 L844.2,1092.9 L843.2,1098.5 L842.2,1104.1 L841.2,1109.6 L840.2,1115.0 L839.3,1120.4 L838.3,1125.7 L837.4,1130.9 L836.4,1136.1 L835.5,1141.3 L834.5,1146.3 L833.6,1151.4 L832.7,1156.3 L831.8,1161.3 L830.9,1166.1 L830.0,1170.9 L829.1,1175.7 L828.2,1180.4 L827.3,1185.1 L826.4,1189.7 L825.5,1194.3 L824.6,1198.9 L823.8,1203.4" fill="none" stroke="#0000ff" stroke-width="0.7" stroke-opacity="0.25"/>
<path d="M878.3,98.8 L905.4,143.6 L928.7,184.4 L948.3,222.0 L964.3,256.9 L977.2,289.3 L987.4,319.6 L995.4,348.1 L1001.5,374.9 L1006.2,400.3 L1009.5,424.4 L1011.9,447.3 L1013.5,469.2 L1014.4,490.1 L1014.8,510.1 L1014.7,529.2 L1014.2,547.7 L1013.5,565.4 L1012.5,582.5 L1011.3,598.9 L1009.9,614.9 L1008.4,630.3 L1006.8,645.2 L1005.0,659.6 L1003.2,673.7 L1001.4,687.3 L999.5,700.5 L997.5,713.4 L995.6,725.9 L993.6,738.1 L991.6,750.0 L989.6,761.6 L987.5,772.9 L985.5,784.0 L983.5,794.8 L981.5,805.3 L979.5,815.7 L977.5,825.8 L975.5,835.7 L973.5,845.3 L971.6,854.8 L969.6,864.1 L967.7,873.3 L965.8,882.2 L963.9,891.0 L962.0,899.6 L960.2,908.1 L958.3,916.4 L956.5,924.6 L954.7,932.6 L952.9,940.5 L951.2,948.2 L949.4,955.9 L947.7,963.4 L946.0,970.8 L944.3,978.1 L942.6,985.3 L941.0,992.3 L939.3,999.3 L937.7,1006.1 L936.1,1012.9 L934.5,1019.6 L933.0,1026.1 L931.4,1032.6 L929.9,1039.0 L928.4,1045.3 L926.9,1051.5 L925.4,1057.7 L923.9,1063.7 L922.5,1069.7 L921.1,1075.6 L919.6,1081.5 L918.2,1087.2 L916.9,1092.9 L915.5,1098.5 L914.1,1104.1 L912.8,1109.6 L911.5,1115.0 L910.1,1120.4 L908.8,1125.7 L907.5,1130.9 L906.3,1136.1 L905.0,1141.3 L903.8,1146.3 L902.5,1151.4 L901.3,1156.3 L900.1,1161.3 L898.9,1166.1 L897.7,1170.9 L896.5,1175.7 L895.4,1180.4 L894.2,1185.1 L893.1,1189.7 L891.9,1194.3 L890.8,1198.9 L889.7,1203.4" fill="none" stroke="#0000ff" stroke-width="0.7" stroke-opacity="0.25"/>
<path d="M1175.4,98.8 L1183.3,143.6 L1187.4,184.4 L1188.9,222.0 L1188.5,256.9 L1186.8,289.3 L1184.3,319.6 L1181.1,348.1 L1177.4,374.9 L1173.5,400.3 L1169.4,424.4 L1165.1,447.3 L1160.8,469.2 L1156.4,490.1 L1152.0,510.1 L1147.7,529.2 L1143.4,547.7 L1139.1,565.4 L1134.9,582.5 L1130.7,598.9 L1126.6,614.9 L1122.6,630.3 L1118.7,645.2 L1114.8,659.6 L1111.0,673.7 L1107.3,687.3 L1103.6,700.5 L1100.0,713.4 L1096.5,725.9 L1093.1,738.1 L1089.7,750.0 L1086.4,761.6 L1083.1,772.9 L1079.9,784.0 L1076.8,794.8 L1073.7,805.3 L1070.7,815.7 L1067.8,825.8 L1064.9,835.7 L1062.0,845.3 L1059.2,854.8 L1056.5,864.1 L1053.8,873.3 L1051.1,882.2 L1048.5,891.0 L1045.9,899.6 L1043.4,908.1 L1040.9,916.4 L1038.5,924.6 L1036.1,932.6 L1033.8,940.5 L1031.4,948.2 L1029.1,955.9 L1026.9,963.4 L1024.7,970.8 L1022.5,978.1 L1020.4,985.3 L1018.3,992.3 L1016.2,999.3 L1014.1,1006.1 L1012.1,1012.9 L1010.1,1019.6 L1008.2,1026.1 L1006.2,1032.6 L1004.3,1039.0 L1002.4,1045.3 L1000.6,1051.5 L998.8,1057.7 L997.0,1063.7 L995.2,1069.7 L993.4,1075.6 L991.7,1081.5 L990.0,1087.2 L988.3,1092.9 L986.6,1098.5 L985.0,1104.1 L983.4,1109.6 L981.7,1115.0 L980.2,1120.4 L978.6,1125.7 L977.1,1130.9 L975.5,1136.1 L974.0,1141.3 L972.5,1146.3 L971.1,1151.4 L969.6,1156.3 L968.2,1161.3 L966.7,1166.1 L965.3,1170.9 L963.9,1175.7 L962.6,1180.4 L961.2,1185.1 L959.9,1189.7 L958.5,1194.3 L957.2,1198.9 L955.9,1203.4" fill="none" stroke="#0000ff" stroke-width="0.7" stroke-opacity="0.25"/>
<path d="M1389.8,98.8 L1379.1,143.6 L1368.4,184.4 L1357.8,222.0 L1347.5,256.9 L1337.6,289.3 L1328.1,319.6 L1318.9,348.1 L1310.1,374.9 L1301.6,400.3 L1293.4,424.4 L1285.6,447.3 L1278.1,469.2 L1270.8,490.1 L1263.8,510.1 L1257.1,529.2 L1250.6,547.7 L1244.3,565.4 L1238.3,582.5 L1232.4,598.9 L1226.7,614.9 L1221.2,630.3 L1215.9,645.2 L1210.7,659.6 L1205.7,673.7 L1200.8,687.3 L1196.1,700.5 L1191.5,713.4 L1187.0,725.9 L1182.6,738.1 L1178.3,750.0 L1174.2,761.6 L1170.1,772.9 L1166.2,784.0 L1162.3,794.8 L1158.6,805.3 L1154.9,815.7 L1151.3,825.8 L1147.8,835.7 L1144.3,845.3 L1141.0,854.8 L1137.7,864.1 L1134.5,873.3 L1131.3,882.2 L1128.2,891.0 L1125.2,899.6 L1122.2,908.1 L1119.3,916.4 L1116.4,924.6 L1113.6,932.6 L1110.8,940.5 L1108.1,948.2 L1105.5,955.9 L1102.9,963.4 L1100.3,970.8 L1097.8,978.1 L1095.3,985.3 L1092.9,992.3 L1090.5,999.3 L1088.1,1006.1 L1085.8,1012.9 L1083.5,1019.6 L1081.3,1026.1 L1079.0,1032.6 L1076.9,1039.0 L1074.7,1045.3 L1072.6,1051.5 L1070.5,1057.7 L1068.5,1063.7 L1066.5,1069.7 L1064.5,1075.6 L1062.5,1081.5 L1060.6,1087.2 L1058.7,1092.9 L1056.8,1098.5 L1054.9,1104.1 L1053.1,1109.6 L1051.3,1115.0 L1049.5,1120.4 L1047.7,1125.7 L1046.0,1130.9 L1044.3,1136.1 L1042.6,1141.3 L1040.9,1146.3 L1039.3,1151.4 L1037.6,1156.3 L1036.0,1161.3 L1034.4,1166.1 L1032.9,1170.9 L1031.3,1175.7 L1029.8,1180.4 L1028.2,1185.1 L1026.7,1189.7 L1025.3,1194.3 L1023.8,1198.9 L1022.4,1203.4" fill="none" stroke="#0000ff" stroke-width="0.7" stroke-opacity="0.25"/>
<path d="M1532.9,98.8 L1514.3,143.6 L1497.2,184.4 L1481.4,222.0 L1466.6,256.9 L1452.9,289.3 L1440.0,319.6 L1427.9,348.1 L1416.5,374.9 L1405.7,400.3 L1395.5,424.4 L1385.8,447.3 L1376.5,469.2 L1367.7,490.1 L1359.3,510.1 L1351.2,529.2 L1343.5,547.7 L1336.1,565.4 L1328.9,582.5 L1322.1,598.9 L1315.5,614.9 L1309.1,630.3 L1302.9,645.2 L1296.9,659.6 L1291.2,673.7 L1285.6,687.3 L1280.2,700.5 L1274.9,713.4 L1269.8,725.9 L1264.9,738.1 L1260.1,750.0 L1255.4,761.6 L1250.8,772.9 L1246.4,784.0 L1242.1,794.8 L1237.9,805.3 L1233.8,815.7 L1229.8,825.8 L1225.8,835.7 L1222.0,845.3 L1218.3,854.8 L1214.6,864.1 L1211.0,873.3 L1207.6,882.2 L1204.1,891.0 L1200.8,899.6 L1197.5,908.1 L1194.3,916.4 L1191.1,924.6 L1188.0,932.6 L1185.0,940.5 L1182.0,948.2 L1179.1,955.9 L1176.3,963.4 L1173.5,970.8 L1170.7,978.1 L1168.0,985.3 L1165.3,992.3 L1162.7,999.3 L1160.1,1006.1 L1157.6,1012.9 L1155.1,1019.6 L1152.7,1026.1 L1150.3,1032.6 L1147.9,1039.0 L1145.6,1045.3 L1143.3,1051.5 L1141.0,1057.7 L1138.8,1063.7 L1136.6,1069.7 L1134.4,1075.6 L1132.3,1081.5 L1130.2,1087.2 L1128.1,1092.9 L1126.1,1098.5 L1124.1,1104.1 L1122.1,1109.6 L1120.1,1115.0 L1118.2,1120.4 L1116.3,1125.7 L1114.4,1130.9 L1112.6,1136.1 L1110.8,1141.3 L1109.0,1146.3 L1107.2,1151.4 L1105.4,1156.3 L1103.7,1161.3 L1102.0,1166.1 L1100.3,1170.9 L1098.6,1175.7 L1097.0,1180.4 L1095.3,1185.1 L1093.7,1189.7 L1092.1,1194.3 L1090.6,1198.9 L1089.0,1203.4" fill="none" stroke="#0000ff" stroke-width="0.7" stroke-opacity="0.25"/>
<path d="M1641.0,98.8 L1619.0,143.6 L1599.0,184.4 L1580.7,222.0 L1563.8,256.9 L1548.2,289.3 L1533.7,319.6 L1520.1,348.1 L1507.3,374.9 L1495.3,400.3 L1484.0,424.4 L1473.2,447.3 L1463.1,469.2 L1453.4,490.1 L1444.1,510.1 L1435.3,529.2 L1426.9,547.7 L1418.8,565.4 L1411.0,582.5 L1403.6,598.9 L1396.4,614.9 L1389.5,630.3 L1382.8,645.2 L1376.4,659.6 L1370.2,673.7 L1364.2,687.3 L1358.4,700.5 L1352.7,713.4 L1347.3,725.9 L1342.0,738.1 L1336.8,750.0 L1331.8,761.6 L1326.9,772.9 L1322.2,784.0 L1317.6,794.8 L1313.1,805.3 L1308.7,815.7 L1304.4,825.8 L1300.2,835.7 L1296.2,845.3 L1292.2,854.8 L1288.3,864.1 L1284.5,873.3 L1280.8,882.2 L1277.2,891.0 L1273.6,899.6 L1270.1,908.1 L1266.7,916.4 L1263.4,924.6 L1260.1,932.6 L1256.9,940.5 L1253.8,948.2 L1250.7,955.9 L1247.6,963.4 L1244.7,970.8 L1241.8,978.1 L1238.9,985.3 L1236.1,992.3 L1233.3,999.3 L1230.6,1006.1 L1227.9,1012.9 L1225.3,1019.6 L1222.7,1026.1 L1220.2,1032.6 L1217.7,1039.0 L1215.2,1045.3 L1212.8,1051.5 L1210.4,1057.7 L1208.1,1063.7 L1205.8,1069.7 L1203.5,1075.6 L1201.3,1081.5 L1199.1,1087.2 L1196.9,1092.9 L1194.7,1098.5 L1192.6,1104.1 L1190.5,1109.6 L1188.5,1115.0 L1186.5,1120.4 L1184.5,1125.7 L1182.5,1130.9 L1180.6,1136.1 L1178.6,1141.3 L1176.8,1146.3 L1174.9,1151.4 L1173.0,1156.3 L1171.2,1161.3 L1169.4,1166.1 L1167.6,1170.9 L1165.9,1175.7 L1164.2,1180.4 L1162.5,1185.1 L1160.8,1189.7 L1159.1,1194.3 L1157.4,1198.9 L1155.8,1203.4" fill="none" stroke="#0000ff" stroke-width="0.7" stroke-opacity="0.25"/>
<path d="M1730.6,98.8 L1707.0,143.6 L1685.6,184.4 L1666.1,222.0 L1648.1,256.9 L1631.5,289.3 L1616.1,319.6 L1601.7,348.1 L1588.3,374.9 L1575.6,400.3 L1563.7,424.4 L1552.4,447.3 L1541.7,469.2 L1531.5,490.1 L1521.8,510.1 L1512.6,529.2 L1503.8,547.7 L1495.3,565.4 L1487.2,582.5 L1479.4,598.9 L1471.9,614.9 L1464.7,630.3 L1457.8,645.2 L1451.1,659.6 L1444.6,673.7 L1438.3,687.3 L1432.3,700.5 L1426.4,713.4 L1420.7,725.9 L1415.2,738.1 L1409.8,750.0 L1404.6,761.6 L1399.6,772.9 L1394.6,784.0 L1389.8,794.8 L1385.2,805.3 L1380.6,815.7 L1376.2,825.8 L1371.9,835.7 L1367.7,845.3 L1363.5,854.8 L1359.5,864.1 L1355.6,873.3 L1351.7,882.2 L1348.0,891.0 L1344.3,899.6 L1340.7,908.1 L1337.2,916.4 L1333.7,924.6 L1330.3,932.6 L1327.0,940.5 L1323.8,948.2 L1320.6,955.9 L1317.4,963.4 L1314.4,970.8 L1311.4,978.1 L1308.4,985.3 L1305.5,992.3 L1302.6,999.3 L1299.8,1006.1 L1297.1,1012.9 L1294.4,1019.6 L1291.7,1026.1 L1289.1,1032.6 L1286.5,1039.0 L1284.0,1045.3 L1281.5,1051.5 L1279.0,1057.7 L1276.6,1063.7 L1274.2,1069.7 L1271.9,1075.6 L1269.6,1081.5 L1267.3,1087.2 L1265.1,1092.9 L1262.9,1098.5 L1260.7,1104.1 L1258.5,1109.6 L1256.4,1115.0 L1254.3,1120.4 L1252.3,1125.7 L1250.2,1130.9 L1248.2,1136.1 L1246.3,1141.3 L1244.3,1146.3 L1242.4,1151.4 L1240.5,1156.3 L1238.6,1161.3 L1236.8,1166.1 L1234.9,1170.9 L1233.1,1175.7 L1231.4,1180.4 L1229.6,1185.1 L1227.9,1189.7 L1226.1,1194.3 L1224.5,1198.9 L1222.8,1203.4" fill="none" stroke="#0000ff" stroke-width="0.7" stroke-opacity="0.25"/>
<path d="M1809.2,98.8 L1784.8,143.6 L1762.8,184.4 L1742.6,222.0 L1724.2,256.9 L1707.1,289.3 L1691.3,319.6 L1676.5,348.1 L1662.7,374.9 L1649.7,400.3 L1637.4,424.4 L1625.8,447.3 L1614.9,469.2 L1604.5,490.1 L1594.5,510.1 L1585.1,529.2 L1576.0,547.7 L1567.4,565.4 L1559.1,582.5 L1551.1,598.9 L1543.5,614.9 L1536.1,630.3 L1529.0,645.2 L1522.2,659.6 L1515.5,673.7 L1509.2,687.3 L1503.0,700.5 L1497.0,713.4 L1491.2,725.9 L1485.5,738.1 L1480.1,750.0 L1474.8,761.6 L1469.6,772.9 L1464.6,784.0 L1459.7,794.8 L1455.0,805.3 L1450.3,815.7 L1445.8,825.8 L1441.4,835.7 L1437.1,845.3 L1432.9,854.8 L1428.8,864.1 L1424.8,873.3 L1420.9,882.2 L1417.1,891.0 L1413.3,899.6 L1409.7,908.1 L1406.1,916.4 L1402.5,924.6 L1399.1,932.6 L1395.7,940.5 L1392.4,948.2 L1389.2,955.9 L1386.0,963.4 L1382.9,970.8 L1379.8,978.1 L1376.8,985.3 L1373.8,992.3 L1370.9,999.3 L1368.1,1006.1 L1365.3,1012.9 L1362.5,1019.6 L1359.8,1026.1 L1357.2,1032.6 L1354.6,1039.0 L1352.0,1045.3 L1349.4,1051.5 L1346.9,1057.7 L1344.5,1063.7 L1342.1,1069.7 L1339.7,1075.6 L1337.3,1081.5 L1335.0,1087.2 L1332.8,1092.9 L1330.5,1098.5 L1328.3,1104.1 L1326.1,1109.6 L1324.0,1115.0 L1321.9,1120.4 L1319.8,1125.7 L1317.7,1130.9 L1315.7,1136.1 L1313.7,1141.3 L1311.7,1146.3 L1309.8,1151.4 L1307.8,1156.3 L1305.9,1161.3 L1304.1,1166.1 L1302.2,1170.9 L1300.4,1175.7 L1298.6,1180.4 L1296.8,1185.1 L1295.0,1189.7 L1293.3,1194.3 L1291.6,1198.9 L1289.9,1203.4" fill="none" stroke="#0000ff" stroke-width="0.7" stroke-opacity="0.25"/>
<path d="M1880.7,98.8 L1856.0,143.6 L1833.7,184.4 L1813.3,222.0 L1794.6,256.9 L1777.3,289.3 L1761.3,319.6 L1746.4,348.1 L1732.4,374.9 L1719.3,400.3 L1706.9,424.4 L1695.2,447.3 L1684.2,469.2 L1673.6,490.1 L1663.6,510.1 L1654.1,529.2 L1645.0,547.7 L1636.2,565.4 L1627.9,582.5 L1619.8,598.9 L1612.1,614.9 L1604.7,630.3 L1597.5,645.2 L1590.6,659.6 L1584.0,673.7 L1577.5,687.3 L1571.3,700.5 L1565.3,713.4 L1559.4,725.9 L1553.7,738.1 L1548.2,750.0 L1542.9,761.6 L1537.7,772.9 L1532.6,784.0 L1527.7,794.8 L1522.9,805.3 L1518.3,815.7 L1513.7,825.8 L1509.3,835.7 L1505.0,845.3 L1500.8,854.8 L1496.6,864.1 L1492.6,873.3 L1488.7,882.2 L1484.8,891.0 L1481.0,899.6 L1477.4,908.1 L1473.7,916.4 L1470.2,924.6 L1466.7,932.6 L1463.4,940.5 L1460.0,948.2 L1456.8,955.9 L1453.6,963.4 L1450.4,970.8 L1447.3,978.1 L1444.3,985.3 L1441.4,992.3 L1438.4,999.3 L1435.6,1006.1 L1432.8,1012.9 L1430.0,1019.6 L1427.3,1026.1 L1424.6,1032.6 L1422.0,1039.0 L1419.4,1045.3 L1416.8,1051.5 L1414.3,1057.7 L1411.9,1063.7 L1409.4,1069.7 L1407.0,1075.6 L1404.7,1081.5 L1402.4,1087.2 L1400.1,1092.9 L1397.8,1098.5 L1395.6,1104.1 L1393.4,1109.6 L1391.3,1115.0 L1389.2,1120.4 L1387.1,1125.7 L1385.0,1130.9 L1382.9,1136.1 L1380.9,1141.3 L1379.0,1146.3 L1377.0,1151.4 L1375.1,1156.3 L1373.2,1161.3 L1371.3,1166.1 L1369.4,1170.9 L1367.6,1175.7 L1365.8,1180.4 L1364.0,1185.1 L1362.2,1189.7 L1360.5,1194.3 L1358.7,1198.9 L1357.0,1203.4" fill="none" stroke="#0000ff" stroke-width="0.7" stroke-opacity="0.25"/>
<path d="M1947.4,98.8 L1922.6,143.6 L1900.2,184.4 L1879.8,222.0 L1861.1,256.9 L1843.8,289.3 L1827.8,319.6 L1812.8,348.1 L1798.8,374.9 L1785.7,400.3 L1773.3,424.4 L1761.6,447.3 L1750.6,469.2 L1740.0,490.1 L1730.0,510.1 L1720.5,529.2 L1711.4,547.7 L1702.7,565.4 L1694.3,582.5 L1686.3,598.9 L1678.6,614.9 L1671.1,630.3 L1664.0,645.2 L1657.1,659.6 L1650.4,673.7 L1644.0,687.3 L1637.8,700.5 L1631.8,713.4 L1625.9,725.9 L1620.3,738.1 L1614.8,750.0 L1609.4,761.6 L1604.2,772.9 L1599.2,784.0 L1594.3,794.8 L1589.5,805.3 L1584.9,815.7 L1580.3,825.8 L1575.9,835.7 L1571.6,845.3 L1567.4,854.8 L1563.3,864.1 L1559.3,873.3 L1555.3,882.2 L1551.5,891.0 L1547.7,899.6 L1544.1,908.1 L1540.5,916.4 L1536.9,924.6 L1533.5,932.6 L1530.1,940.5 L1526.8,948.2 L1523.5,955.9 L1520.4,963.4 L1517.2,970.8 L1514.2,978.1 L1511.2,985.3 L1508.2,992.3 L1505.3,999.3 L1502.4,1006.1 L1499.6,1012.9 L1496.9,1019.6 L1494.2,1026.1 L1491.5,1032.6 L1488.9,1039.0 L1486.3,1045.3 L1483.8,1051.5 L1481.3,1057.7 L1478.8,1063.7 L1476.4,1069.7 L1474.0,1075.6 L1471.7,1081.5 L1469.4,1087.2 L1467.1,1092.9 L1464.9,1098.5 L1462.7,1104.1 L1460.5,1109.6 L1458.3,1115.0 L1456.2,1120.4 L1454.1,1125.7 L1452.1,1130.9 L1450.1,1136.1 L1448.1,1141.3 L1446.1,1146.3 L1444.1,1151.4 L1442.2,1156.3 L1440.3,1161.3 L1438.4,1166.1 L1436.6,1170.9 L1434.8,1175.7 L1433.0,1180.4 L1431.2,1185.1 L1429.4,1189.7 L1427.7,1194.3 L1426.0,1198.9 L1424.3,1203.4" fill="none" stroke="#0000ff" stroke-width="0.7" stroke-opacity="0.25"/>
<path d="M2010.6,98.8 L1985.9,143.6 L1963.6,184.4 L1943.3,222.0 L1924.7,256.9 L1907.5,289.3 L1891.5,319.6 L1876.7,348.1 L1862.8,374.9 L1849.7,400.3 L1837.4,424.4 L1825.8,447.3 L1814.8,469.2 L1804.3,490.1 L1794.4,510.1 L1784.9,529.2 L1775.9,547.7 L1767.2,565.4 L1758.9,582.5 L1751.0,598.9 L1743.3,614.9 L1735.9,630.3 L1728.8,645.2 L1722.0,659.6 L1715.4,673.7 L1709.0,687.3 L1702.8,700.5 L1696.9,713.4 L1691.1,725.9 L1685.5,738.1 L1680.0,750.0 L1674.7,761.6 L1669.6,772.9 L1664.6,784.0 L1659.7,794.8 L1655.0,805.3 L1650.4,815.7 L1645.9,825.8 L1641.5,835.7 L1637.3,845.3 L1633.1,854.8 L1629.0,864.1 L1625.0,873.3 L1621.1,882.2 L1617.3,891.0 L1613.6,899.6 L1610.0,908.1 L1606.4,916.4 L1602.9,924.6 L1599.5,932.6 L1596.2,940.5 L1592.9,948.2 L1589.7,955.9 L1586.5,963.4 L1583.4,970.8 L1580.4,978.1 L1577.4,985.3 L1574.5,992.3 L1571.6,999.3 L1568.8,1006.1 L1566.0,1012.9 L1563.3,1019.6 L1560.6,1026.1 L1558.0,1032.6 L1555.4,1039.0 L1552.8,1045.3 L1550.3,1051.5 L1547.9,1057.7 L1545.5,1063.7 L1543.1,1069.7 L1540.7,1075.6 L1538.4,1081.5 L1536.1,1087.2 L1533.9,1092.9 L1531.7,1098.5 L1529.5,1104.1 L1527.3,1109.6 L1525.2,1115.0 L1523.1,1120.4 L1521.1,1125.7 L1519.0,1130.9 L1517.0,1136.1 L1515.1,1141.3 L1513.1,1146.3 L1511.2,1151.4 L1509.3,1156.3 L1507.4,1161.3 L1505.6,1166.1 L1503.7,1170.9 L1501.9,1175.7 L1500.2,1180.4 L1498.4,1185.1 L1496.7,1189.7 L1495.0,1194.3 L1493.3,1198.9 L1491.6,1203.4" fill="none" stroke="#0000ff" stroke-width="0.7" stroke-opacity="0.25"/>
<path d="M2071.1,98.8 L2046.7,143.6 L2024.6,184.4 L2004.5,222.0 L1986.1,256.9 L1969.1,289.3 L1953.3,319.6 L1938.6,348.1 L1924.8,374.9 L1911.9,400.3 L1899.7,424.4 L1888.2,447.3 L1877.4,469.2 L1867.0,490.1 L1857.2,510.1 L1847.8,529.2 L1838.9,547.7 L1830.3,565.4 L1822.1,582.5 L1814.3,598.9 L1806.7,614.9 L1799.4,630.3 L1792.4,645.2 L1785.7,659.6 L1779.2,673.7 L1772.9,687.3 L1766.8,700.5 L1760.9,713.4 L1755.2,725.9 L1749.6,738.1 L1744.3,750.0 L1739.1,761.6 L1734.0,772.9 L1729.1,784.0 L1724.3,794.8 L1719.6,805.3 L1715.1,815.7 L1710.6,825.8 L1706.3,835.7 L1702.1,845.3 L1698.0,854.8 L1694.0,864.1 L1690.1,873.3 L1686.2,882.2 L1682.5,891.0 L1678.8,899.6 L1675.3,908.1 L1671.8,916.4 L1668.3,924.6 L1665.0,932.6 L1661.7,940.5 L1658.4,948.2 L1655.3,955.9 L1652.2,963.4 L1649.1,970.8 L1646.1,978.1 L1643.2,985.3 L1640.3,992.3 L1637.5,999.3 L1634.7,1006.1 L1632.0,1012.9 L1629.3,1019.6 L1626.7,1026.1 L1624.1,1032.6 L1621.6,1039.0 L1619.1,1045.3 L1616.6,1051.5 L1614.2,1057.7 L1611.8,1063.7 L1609.5,1069.7 L1607.2,1075.6 L1604.9,1081.5 L1602.6,1087.2 L1600.4,1092.9 L1598.3,1098.5 L1596.1,1104.1 L1594.0,1109.6 L1591.9,1115.0 L1589.9,1120.4 L1587.9,1125.7 L1585.9,1130.9 L1583.9,1136.1 L1582.0,1141.3 L1580.1,1146.3 L1578.2,1151.4 L1576.3,1156.3 L1574.5,1161.3 L1572.7,1166.1 L1570.9,1170.9 L1569.1,1175.7 L1567.4,1180.4 L1565.6,1185.1 L1563.9,1189.7 L1562.3,1194.3 L1560.6,1198.9 L1559.0,1203.4" fill="none" stroke="#0000ff" stroke-width="0.7" stroke-opacity="0.25"/>
<path d="M2129.7,98.8 L2105.6,143.6 L2083.8,184.4 L2064.0,222.0 L2045.8,256.9 L2029.0,289.3 L2013.4,319.6 L1998.9,348.1 L1985.3,374.9 L1972.6,400.3 L1960.6,424.4 L1949.3,447.3 L1938.6,469.2 L1928.4,490.1 L1918.7,510.1 L1909.5,529.2 L1900.7,547.7 L1892.3,565.4 L1884.2,582.5 L1876.5,598.9 L1869.1,614.9 L1861.9,630.3 L1855.0,645.2 L1848.4,659.6 L1842.0,673.7 L1835.8,687.3 L1829.8,700.5 L1824.0,713.4 L1818.4,725.9 L1813.0,738.1 L1807.7,750.0 L1802.6,761.6 L1797.6,772.9 L1792.8,784.0 L1788.1,794.8 L1783.5,805.3 L1779.0,815.7 L1774.7,825.8 L1770.5,835.7 L1766.3,845.3 L1762.3,854.8 L1758.4,864.1 L1754.5,873.3 L1750.8,882.2 L1747.1,891.0 L1743.5,899.6 L1740.0,908.1 L1736.6,916.4 L1733.2,924.6 L1729.9,932.6 L1726.7,940.5 L1723.5,948.2 L1720.5,955.9 L1717.4,963.4 L1714.4,970.8 L1711.5,978.1 L1708.6,985.3 L1705.8,992.3 L1703.1,999.3 L1700.4,1006.1 L1697.7,1012.9 L1695.1,1019.6 L1692.5,1026.1 L1690.0,1032.6 L1687.5,1039.0 L1685.0,1045.3 L1682.6,1051.5 L1680.3,1057.7 L1677.9,1063.7 L1675.6,1069.7 L1673.4,1075.6 L1671.2,1081.5 L1669.0,1087.2 L1666.8,1092.9 L1664.7,1098.5 L1662.6,1104.1 L1660.6,1109.6 L1658.5,1115.0 L1656.5,1120.4 L1654.6,1125.7 L1652.6,1130.9 L1650.7,1136.1 L1648.8,1141.3 L1646.9,1146.3 L1645.1,1151.4 L1643.3,1156.3 L1641.5,1161.3 L1639.7,1166.1 L1638.0,1170.9 L1636.3,1175.7 L1634.6,1180.4 L1632.9,1185.1 L1631.2,1189.7 L1629.6,1194.3 L1628.0,1198.9 L1626.4,1203.4" fill="none" stroke="#0000ff" stroke-width="0.7" stroke-opacity="0.25"/>
<path d="M2186.8,98.8 L2163.0,143.6 L2141.6,184.4 L2122.0,222.0 L2104.1,256.9 L2087.6,289.3 L2072.3,319.6 L2058.0,348.1 L2044.7,374.9 L2032.2,400.3 L2020.4,424.4 L2009.3,447.3 L1998.8,469.2 L1988.8,490.1 L1979.3,510.1 L1970.2,529.2 L1961.6,547.7 L1953.3,565.4 L1945.4,582.5 L1937.9,598.9 L1930.6,614.9 L1923.6,630.3 L1916.8,645.2 L1910.3,659.6 L1904.0,673.7 L1898.0,687.3 L1892.1,700.5 L1886.5,713.4 L1881.0,725.9 L1875.6,738.1 L1870.5,750.0 L1865.5,761.6 L1860.6,772.9 L1855.9,784.0 L1851.3,794.8 L1846.8,805.3 L1842.5,815.7 L1838.2,825.8 L1834.1,835.7 L1830.0,845.3 L1826.1,854.8 L1822.3,864.1 L1818.5,873.3 L1814.9,882.2 L1811.3,891.0 L1807.8,899.6 L1804.4,908.1 L1801.0,916.4 L1797.7,924.6 L1794.5,932.6 L1791.4,940.5 L1788.3,948.2 L1785.3,955.9 L1782.3,963.4 L1779.4,970.8 L1776.6,978.1 L1773.8,985.3 L1771.0,992.3 L1768.3,999.3 L1765.7,1006.1 L1763.1,1012.9 L1760.6,1019.6 L1758.0,1026.1 L1755.6,1032.6 L1753.2,1039.0 L1750.8,1045.3 L1748.4,1051.5 L1746.1,1057.7 L1743.9,1063.7 L1741.7,1069.7 L1739.5,1075.6 L1737.3,1081.5 L1735.2,1087.2 L1733.1,1092.9 L1731.0,1098.5 L1729.0,1104.1 L1727.0,1109.6 L1725.0,1115.0 L1723.1,1120.4 L1721.2,1125.7 L1719.3,1130.9 L1717.4,1136.1 L1715.6,1141.3 L1713.8,1146.3 L1712.0,1151.4 L1710.2,1156.3 L1708.5,1161.3 L1706.8,1166.1 L1705.1,1170.9 L1703.4,1175.7 L1701.8,1180.4 L1700.1,1185.1 L1698.5,1189.7 L1696.9,1194.3 L1695.4,1198.9 L1693.8,1203.4" fill="none" stroke="#0000ff" stroke-width="0.7" stroke-opacity="0.25"/>
<path d="M2242.6,98.8 L2219.2,143.6 L2198.2,184.4 L2179.0,222.0 L2161.4,256.9 L2145.2,289.3 L2130.1,319.6 L2116.2,348.1 L2103.1,374.9 L2090.8,400.3 L2079.3,424.4 L2068.4,447.3 L2058.1,469.2 L2048.3,490.1 L2039.0,510.1 L2030.2,529.2 L2021.7,547.7 L2013.6,565.4 L2005.9,582.5 L1998.5,598.9 L1991.4,614.9 L1984.5,630.3 L1977.9,645.2 L1971.6,659.6 L1965.5,673.7 L1959.5,687.3 L1953.8,700.5 L1948.3,713.4 L1942.9,725.9 L1937.7,738.1 L1932.7,750.0 L1927.8,761.6 L1923.1,772.9 L1918.5,784.0 L1914.0,794.8 L1909.7,805.3 L1905.4,815.7 L1901.3,825.8 L1897.2,835.7 L1893.3,845.3 L1889.5,854.8 L1885.8,864.1 L1882.1,873.3 L1878.5,882.2 L1875.1,891.0 L1871.7,899.6 L1868.3,908.1 L1865.1,916.4 L1861.9,924.6 L1858.8,932.6 L1855.7,940.5 L1852.7,948.2 L1849.8,955.9 L1846.9,963.4 L1844.1,970.8 L1841.3,978.1 L1838.6,985.3 L1836.0,992.3 L1833.4,999.3 L1830.8,1006.1 L1828.3,1012.9 L1825.8,1019.6 L1823.4,1026.1 L1821.0,1032.6 L1818.7,1039.0 L1816.4,1045.3 L1814.1,1051.5 L1811.9,1057.7 L1809.7,1063.7 L1807.5,1069.7 L1805.4,1075.6 L1803.3,1081.5 L1801.2,1087.2 L1799.2,1092.9 L1797.2,1098.5 L1795.3,1104.1 L1793.3,1109.6 L1791.4,1115.0 L1789.5,1120.4 L1787.7,1125.7 L1785.9,1130.9 L1784.1,1136.1 L1782.3,1141.3 L1780.6,1146.3 L1778.8,1151.4 L1777.1,1156.3 L1775.4,1161.3 L1773.8,1166.1 L1772.2,1170.9 L1770.6,1175.7 L1769.0,1180.4 L1767.4,1185.1 L1765.8,1189.7 L1764.3,1194.3 L1762.8,1198.9 L1761.3,1203.4" fill="none" stroke="#0000ff" stroke-width="0.7" stroke-opacity="0.25"/>
<path d="M2297.4,98.8 L2274.5,143.6 L2253.8,184.4 L2235.0,222.0 L2217.8,256.9 L2201.9,289.3 L2187.2,319.6 L2173.5,348.1 L2160.7,374.9 L2148.7,400.3 L2137.4,424.4 L2126.8,447.3 L2116.7,469.2 L2107.1,490.1 L2098.1,510.1 L2089.4,529.2 L2081.2,547.7 L2073.3,565.4 L2065.8,582.5 L2058.5,598.9 L2051.6,614.9 L2044.9,630.3 L2038.5,645.2 L2032.3,659.6 L2026.3,673.7 L2020.6,687.3 L2015.0,700.5 L2009.6,713.4 L2004.4,725.9 L1999.4,738.1 L1994.5,750.0 L1989.7,761.6 L1985.1,772.9 L1980.7,784.0 L1976.3,794.8 L1972.1,805.3 L1968.0,815.7 L1964.0,825.8 L1960.0,835.7 L1956.2,845.3 L1952.5,854.8 L1948.9,864.1 L1945.4,873.3 L1941.9,882.2 L1938.5,891.0 L1935.2,899.6 L1932.0,908.1 L1928.9,916.4 L1925.8,924.6 L1922.8,932.6 L1919.8,940.5 L1916.9,948.2 L1914.1,955.9 L1911.3,963.4 L1908.6,970.8 L1905.9,978.1 L1903.3,985.3 L1900.7,992.3 L1898.2,999.3 L1895.7,1006.1 L1893.3,1012.9 L1890.9,1019.6 L1888.6,1026.1 L1886.3,1032.6 L1884.0,1039.0 L1881.8,1045.3 L1879.6,1051.5 L1877.4,1057.7 L1875.3,1063.7 L1873.2,1069.7 L1871.2,1075.6 L1869.2,1081.5 L1867.2,1087.2 L1865.3,1092.9 L1863.3,1098.5 L1861.4,1104.1 L1859.6,1109.6 L1857.7,1115.0 L1855.9,1120.4 L1854.2,1125.7 L1852.4,1130.9 L1850.7,1136.1 L1849.0,1141.3 L1847.3,1146.3 L1845.6,1151.4 L1844.0,1156.3 L1842.4,1161.3 L1840.8,1166.1 L1839.2,1170.9 L1837.7,1175.7 L1836.2,1180.4 L1834.7,1185.1 L1833.2,1189.7 L1831.7,1194.3 L1830.3,1198.9 L1828.8,1203.4" fill="none" stroke="#0000ff" stroke-width="0.7" stroke-opacity="0.25"/>
<path d="M2351.4,98.8 L2328.9,143.6 L2308.7,184.4 L2290.3,222.0 L2273.4,256.9 L2257.9,289.3 L2243.5,319.6 L2230.1,348.1 L2217.6,374.9 L2205.9,400.3 L2194.9,424.4 L2184.5,447.3 L2174.7,469.2 L2165.4,490.1 L2156.6,510.1 L2148.1,529.2 L2140.1,547.7 L2132.4,565.4 L2125.1,582.5 L2118.1,598.9 L2111.3,614.9 L2104.8,630.3 L2098.6,645.2 L2092.6,659.6 L2086.8,673.7 L2081.2,687.3 L2075.8,700.5 L2070.6,713.4 L2065.5,725.9 L2060.6,738.1 L2055.9,750.0 L2051.3,761.6 L2046.8,772.9 L2042.5,784.0 L2038.3,794.8 L2034.2,805.3 L2030.2,815.7 L2026.3,825.8 L2022.5,835.7 L2018.8,845.3 L2015.3,854.8 L2011.8,864.1 L2008.3,873.3 L2005.0,882.2 L2001.7,891.0 L1998.6,899.6 L1995.4,908.1 L1992.4,916.4 L1989.4,924.6 L1986.5,932.6 L1983.7,940.5 L1980.9,948.2 L1978.1,955.9 L1975.5,963.4 L1972.8,970.8 L1970.3,978.1 L1967.7,985.3 L1965.3,992.3 L1962.8,999.3 L1960.5,1006.1 L1958.1,1012.9 L1955.8,1019.6 L1953.6,1026.1 L1951.4,1032.6 L1949.2,1039.0 L1947.1,1045.3 L1945.0,1051.5 L1942.9,1057.7 L1940.9,1063.7 L1938.9,1069.7 L1936.9,1075.6 L1935.0,1081.5 L1933.1,1087.2 L1931.2,1092.9 L1929.4,1098.5 L1927.6,1104.1 L1925.8,1109.6 L1924.0,1115.0 L1922.3,1120.4 L1920.6,1125.7 L1918.9,1130.9 L1917.2,1136.1 L1915.6,1141.3 L1914.0,1146.3 L1912.4,1151.4 L1910.9,1156.3 L1909.3,1161.3 L1907.8,1166.1 L1906.3,1170.9 L1904.8,1175.7 L1903.4,1180.4 L1901.9,1185.1 L1900.5,1189.7 L1899.1,1194.3 L1897.7,1198.9 L1896.4,1203.4" fill="none" stroke="#0000ff" stroke-width="0.7" stroke-opacity="0.25"/>
<line x1="-1346.90" y1="1203.50" x2="-165.10" y2="98.50" stroke="#808080" stroke-width="1.05" stroke-opacity="0.75"/>
<line x1="-1212.50" y1="1203.50" x2="-30.70" y2="98.50" stroke="#808080" stroke-width="1.05" stroke-opacity="0.75"/>
<line x1="-1078.10" y1="1203.50" x2="103.70" y2="98.50" stroke="#808080" stroke-width="1.05" stroke-opacity="0.75"/>
<line x1="-943.70" y1="1203.50" x2="238.10" y2="98.50" stroke="#808080" stroke-width="1.05" stroke-opacity="0.75"/>
<line x1="-809.30" y1="1203.50" x2="372.50" y2="98.50" stroke="#808080" stroke-width="1.05" stroke-opacity="0.75"/>
<line x1="-674.90" y1="1203.50" x2="506.90" y2="98.50" stroke="#808080" stroke-width="1.05" stroke-opacity="0.75"/>
<line x1="-540.50" y1="1203.50" x2="641.30" y2="98.50" stroke="#808080" stroke-width="1.05" stroke-opacity="0.75"/>
<line x1="-406.10" y1="1203.50" x2="775.70" y2="98.50" stroke="#808080" stroke-width="1.05" stroke-opacity="0.75"/>
<line x1="-271.70" y1="1203.50" x2="910.10" y2="98.50" stroke="#808080" stroke-width="1.05" stroke-opacity="0.75"/>
<line x1="-137.30" y1="1203.50" x2="1044.50" y2="98.50" stroke="#808080" stroke-width="1.05" stroke-opacity="0.75"/>
<line x1="-2.90" y1="1203.50" x2="1178.90" y2="98.50" stroke="#808080" stroke-width="1.05" stroke-opacity="0.75"/>
<line x1="131.50" y1="1203.50" x2="1313.30" y2="98.50" stroke="#808080" stroke-width="1.05" stroke-opacity="0.75"/>
<line x1="265.90" y1="1203.50" x2="1447.70" y2="98.50" stroke="#808080" stroke-width="1.05" stroke-opacity="0.75"/>
<line x1="400.30" y1="1203.50" x2="1582.10" y2="98.50" stroke="#808080" stroke-width="1.05" stroke-opacity="0.75"/>
<line x1="534.70" y1="1203.50" x2="1716.50" y2="98.50" stroke="#808080" stroke-width="1.05" stroke-opacity="0.75"/>
<line x1="669.10" y1="1203.50" x2="1850.90" y2="98.50" stroke="#808080" stroke-width="1.05" stroke-opacity="0.75"/>
<line x1="803.50" y1="1203.50" x2="1985.30" y2="98.50" stroke="#808080" stroke-width="1.05" stroke-opacity="0.75"/>
<line x1="937.90" y1="1203.50" x2="2119.70" y2="98.50" stroke="#808080" stroke-width="1.05" stroke-opacity="0.75"/>
<line x1="1072.30" y1="1203.50" x2="2254.10" y2="98.50" stroke="#808080" stroke-width="1.05" stroke-opacity="0.75"/>
<line x1="1206.70" y1="1203.50" x2="2388.50" y2="98.50" stroke="#808080" stroke-width="1.05" stroke-opacity="0.75"/>
<line x1="1341.10" y1="1203.50" x2="2522.90" y2="98.50" stroke="#808080" stroke-width="1.05" stroke-opacity="0.75"/>
<line x1="34.50" y1="424.41" x2="1304.50" y2="424.41" stroke="#808080" stroke-width="1.0" stroke-opacity="0.65"/>
<line x1="34.50" y1="614.87" x2="1304.50" y2="614.87" stroke="#808080" stroke-width="1.0" stroke-opacity="0.65"/>
<line x1="34.50" y1="750.01" x2="1304.50" y2="750.01" stroke="#808080" stroke-width="1.0" stroke-opacity="0.65"/>
<line x1="34.50" y1="854.83" x2="1304.50" y2="854.83" stroke="#808080" stroke-width="1.0" stroke-opacity="0.65"/>
<line x1="34.50" y1="940.48" x2="1304.50" y2="940.48" stroke="#808080" stroke-width="1.0" stroke-opacity="0.65"/>
<line x1="34.50" y1="1012.89" x2="1304.50" y2="1012.89" stroke="#808080" stroke-width="1.0" stroke-opacity="0.65"/>
<line x1="34.50" y1="1075.62" x2="1304.50" y2="1075.62" stroke="#808080" stroke-width="1.0" stroke-opacity="0.65"/>
<line x1="34.50" y1="1130.95" x2="1304.50" y2="1130.95" stroke="#808080" stroke-width="1.0" stroke-opacity="0.65"/>
<line x1="34.50" y1="1180.44" x2="1304.50" y2="1180.44" stroke="#808080" stroke-width="1.0" stroke-opacity="0.65"/>
<line x1="400.30" y1="1203.50" x2="1582.10" y2="98.50" stroke="#0000ff" stroke-width="2.3" stroke-opacity="0.4" stroke-dasharray="14 6"/>
<line x1="131.50" y1="1203.50" x2="1313.30" y2="98.50" stroke="#0000ff" stroke-width="2.3" stroke-opacity="0.4" stroke-dasharray="14 6"/>
</g>
<g clip-path="url(#skc)" fill="none" stroke-linejoin="round">
<line x1="1125.90" y1="200.80" x2="1125.90" y2="1174.00" stroke="#a0a0a0" stroke-width="1.6" stroke-dasharray="1.6 4" stroke-opacity="0.8"/>
<line x1="1049.70" y1="1163.00" x2="1049.70" y2="1175.00" stroke="#808080" stroke-width="1.6" stroke-dasharray="1.6 4" stroke-opacity="0.9"/>
<path d="M698.6,868.2 L704.5,893.5 L711.8,944.6 L715.5,989.3 L717.4,1033.9 L717.4,1078.6 L716.4,1129.3 L715.2,1159.0 L714.5,1174.7" stroke="#800080" stroke-width="1" stroke-dasharray="4 2" stroke-opacity="0.85"/>
<path d="M592.0,471.1 L597.9,484.5 L603.9,497.9 L606.1,511.3 L603.5,526.8 L608.0,538.7 L612.4,549.1 L618.4,559.5 L622.9,569.9 L628.8,580.4 L630.3,587.8 L628.1,590.8 L630.3,596.7 L634.8,601.2 L632.5,605.7 L635.5,614.6 L637.7,623.5 L645.2,633.9 L651.1,644.3 L657.1,654.8 L657.8,660.7 L666.0,669.6 L669.0,678.6 L674.9,700.9 L683.9,714.3 L685.2,722.3 L677.7,724.6 L682.2,735.7 L685.2,749.1 L683.7,755.1 L668.8,761.0 L664.3,769.9 L680.7,774.4 L689.6,784.8 L688.2,789.3 L681.5,791.5 L685.2,801.2 L688.2,814.6 L691.1,828.0 L694.1,836.9 L695.6,848.8 L698.6,860.7 L700.1,869.6 L707.5,878.6 L711.2,886.0 L713.5,896.4 L716.4,903.9 L717.9,908.3 L717.7,929.8 L720.7,941.7 L714.8,950.6 L723.7,958.0 L720.7,971.4 L717.7,983.3 L726.7,995.2 L719.2,1001.2 L728.2,1008.6 L722.2,1014.6 L725.2,1019.0 L738.6,1033.9 L746.0,1063.7 L744.5,1072.6 L735.6,1080.1 L738.6,1086.0 L744.5,1092.0 L744.5,1108.3 L746.5,1124.8 L745.0,1129.3 L737.6,1136.7 L745.0,1144.2 L753.9,1151.6 L758.4,1162.0 L759.9,1171.0 L765.8,1173.9" stroke="#7db4ff" stroke-width="2.1" stroke-opacity="0.95"/>
<path d="M407.0,98.7 L410.9,106.7 L414.8,114.7 L418.6,122.7 L422.3,130.7 L426.0,138.7 L429.7,146.7 L433.4,154.7 L437.2,162.7 L441.1,170.7 L445.0,178.7 L449.0,186.7 L453.0,194.7 L457.1,202.7 L461.3,210.7 L465.6,218.7 L469.9,226.7 L474.4,234.7 L478.9,242.7 L483.7,250.7 L488.5,258.7 L493.4,266.7 L498.5,274.7 L503.5,282.7 L508.4,290.7 L513.3,298.7 L518.0,306.7 L522.7,314.7 L527.2,322.7 L531.8,330.7 L536.4,338.7 L541.1,346.7 L545.8,354.7 L550.6,362.7 L555.4,370.7 L560.3,378.7 L565.3,386.7 L570.3,394.7 L575.4,402.7 L580.6,410.7 L585.8,418.7 L591.0,426.7 L596.1,434.7 L601.2,442.7 L606.3,450.7 L611.3,458.7 L616.3,466.7 L621.3,474.7 L626.4,482.7 L631.4,490.7 L636.5,498.7 L641.5,506.7 L646.4,514.7 L651.3,522.7 L656.1,530.7 L660.7,538.7 L665.3,546.7 L669.9,554.7 L674.4,562.7 L678.8,570.7 L683.2,578.7 L687.5,586.7 L691.7,594.7 L695.8,602.7 L699.8,610.7 L703.9,618.7 L707.9,626.7 L711.9,634.7 L715.8,642.7 L719.6,650.7 L723.4,658.7 L727.0,666.7 L730.6,674.7 L734.1,682.7 L737.4,690.7 L740.7,698.7 L743.9,706.7 L747.0,714.7 L750.1,722.7 L753.1,730.7 L756.0,738.7 L758.7,746.7 L761.3,754.7 L763.8,762.7 L766.1,770.7 L768.2,778.7 L770.1,786.7 L771.9,794.7 L773.7,802.7 L775.4,810.7 L777.2,818.7 L778.9,826.7 L780.5,834.7 L782.0,842.7 L783.3,850.7 L784.4,858.7 L785.3,866.7 L786.2,874.7 L786.9,882.7 L787.5,890.7 L788.1,898.7 L788.7,906.7 L789.3,914.7 L789.8,922.7 L790.3,930.7 L790.8,938.7 L791.3,946.7 L791.8,954.7 L792.2,962.7 L792.7,970.7 L793.0,978.7 L793.4,986.7 L793.7,994.7 L794.0,1002.7 L794.3,1010.7 L794.6,1018.7 L794.9,1026.7 L795.3,1034.7 L795.6,1042.7 L796.1,1050.7 L796.6,1058.7 L797.2,1066.7 L797.7,1074.7 L798.4,1082.7 L799.0,1090.7 L799.6,1098.7 L800.2,1106.7 L800.8,1114.7 L801.3,1122.7 L801.9,1130.7 L802.4,1138.7 L805.3,1151.6 L837.3,1174.7" stroke="#808080" stroke-width="3.0" stroke-dasharray="9 5" stroke-opacity="0.6"/>
<path d="M675.7,648.8 L674.9,663.7 L677.9,678.6 L680.9,689.0 L685.4,699.4 L692.8,708.3 L699.5,717.3 L706.0,732.7 L714.9,743.2 L720.9,759.5 L726.8,777.4 L725.4,789.3 L719.4,796.7 L701.5,802.7 L707.5,811.6 L712.0,822.0 L719.4,832.4 L723.9,841.4 L728.3,850.3 L734.3,859.2 L740.2,866.7 L743.2,877.1 L741.7,886.0 L735.8,892.0 L737.3,900.9 L740.2,908.3 L731.3,915.8 L740.1,925.3 L746.8,937.2 L749.0,949.1 L753.5,962.5 L754.9,975.9 L759.4,986.3 L765.4,995.2 L765.4,1005.7 L768.3,1014.6 L774.3,1022.0 L771.3,1031.0 L772.8,1041.4 L778.8,1048.8 L784.7,1057.7 L792.1,1066.7 L798.1,1078.6 L801.1,1089.0 L799.6,1094.9 L804.0,1105.4 L811.5,1111.3 L820.4,1117.3 L825.4,1126.3 L832.8,1133.8 L829.8,1141.2 L819.4,1145.7 L818.7,1153.1 L816.4,1159.0 L819.4,1166.5 L828.3,1172.4 L831.3,1175.4" stroke="#a54b4b" stroke-width="4.6" stroke-dasharray="4.6 6.5"/>
<path d="M400.7,98.7 L400.7,109.9 L401.0,117.3 L402.5,126.2 L404.0,133.7 L406.2,139.6 L406.2,147.1 L404.0,152.3 L398.8,156.0 L398.5,162.7 L398.0,169.4 L395.1,173.9 L392.1,176.1 L391.8,182.8 L390.6,187.3 L395.1,191.7 L399.5,195.4 L404.0,202.1 L409.9,206.6 L413.7,214.0 L415.1,220.0 L418.9,226.0 L418.9,231.9 L417.4,235.6 L409.9,240.8 L404.0,246.8 L401.0,251.2 L401.3,257.9 L405.5,262.4 L408.5,266.1 L407.7,270.6 L409.9,276.5 L414.4,280.3 L418.9,282.5 L423.3,287.0 L425.6,292.9 L425.6,297.4 L421.1,301.1 L418.1,303.8 L424.8,306.3 L435.2,310.0 L447.1,312.6 L457.6,316.0 L461.8,323.1 L458.8,329.8 L459.5,333.5 L466.2,338.7 L469.2,346.1 L475.9,352.1 L478.9,358.0 L480.4,363.2 L487.8,368.5 L490.8,374.4 L493.0,380.4 L496.7,387.1 L498.2,392.3 L504.2,399.7 L508.6,407.1 L510.9,414.6 L517.6,420.5 L519.8,425.0 L515.3,430.2 L523.5,435.4 L526.5,440.6 L528.0,443.6 L524.3,448.1 L531.0,454.0 L533.2,456.2 L528.7,461.5 L541.4,464.4 L542.9,468.2 L542.9,473.4 L548.8,477.1 L549.6,483.0 L552.5,486.8 L550.3,492.0 L555.5,494.9 L551.0,499.4 L556.2,503.9 L555.5,511.3 L557.0,515.8 L558.9,526.0 L552.9,529.8 L553.7,534.2 L539.5,537.2 L527.6,540.2 L527.6,546.1 L518.7,550.6 L529.1,555.8 L542.5,561.0 L549.2,565.5 L542.5,574.4 L541.0,583.3 L533.6,584.1 L560.4,587.8 L530.6,592.3 L530.6,597.5 L584.2,599.7 L587.1,602.7 L563.3,607.1 L545.5,610.9 L564.8,614.6 L547.0,619.0 L542.5,625.0 L548.5,629.5 L557.4,633.9 L555.9,639.9 L563.3,646.6 L582.7,648.8 L602.0,653.3 L609.5,657.7 L631.8,662.9 L639.2,665.9 L657.1,669.6 L663.0,674.1 L667.5,683.0 L672.0,687.5 L673.5,697.2 L664.5,700.1 L664.5,708.3 L667.5,712.8 L658.6,718.8 L664.3,720.8 L655.4,722.3 L646.5,725.3 L646.5,734.2 L637.6,744.6 L631.6,752.1 L616.7,755.8 L597.4,757.3 L572.1,759.5 L552.7,761.8 L539.3,770.7 L557.2,772.9 L582.5,774.4 L607.8,775.9 L615.2,778.9 L628.6,781.1 L643.5,783.3 L642.0,789.3 L619.7,791.5 L627.1,795.2 L643.5,796.7 L673.3,800.4 L671.8,810.1 L671.8,817.6 L668.8,826.5 L670.3,835.4 L668.8,844.3 L668.8,854.8 L667.3,860.7 L664.3,868.2 L676.2,871.1 L683.7,878.6 L692.6,881.5 L700.1,890.5 L703.0,897.9 L709.0,902.4 L713.5,911.3 L713.3,925.3 L714.8,937.2 L717.7,940.2 L699.9,943.2 L698.4,950.6 L708.8,956.5 L717.7,961.8 L708.8,972.9 L708.8,977.4 L702.9,983.3 L713.3,989.3 L714.8,995.2 L698.4,1002.7 L722.2,1008.6 L705.8,1014.6 L707.3,1022.0 L720.7,1025.0 L737.1,1028.0 L732.6,1035.4 L737.1,1041.4 L743.0,1048.8 L738.6,1050.3 L744.5,1056.2 L738.6,1062.2 L744.5,1068.2 L729.6,1074.1 L717.7,1080.1 L723.7,1086.0 L692.4,1089.0 L728.2,1090.5 L734.1,1093.5 L737.1,1097.9 L732.6,1108.3 L726.7,1117.3 L728.6,1124.8 L722.7,1130.8 L712.3,1135.2 L718.2,1141.2 L733.1,1145.7 L742.0,1151.6 L749.5,1157.6 L752.4,1165.0 L753.9,1171.0 L761.4,1174.7" stroke="#6495ed" stroke-width="6.9" stroke-linecap="round"/>
<path d="M468.7,98.7 L470.7,109.9 L471.0,117.3 L473.2,124.8 L476.9,133.7 L479.9,141.1 L481.1,146.3 L478.4,150.8 L473.2,154.5 L470.2,159.0 L470.2,162.7 L472.4,169.4 L473.2,173.9 L471.0,176.8 L474.7,182.8 L479.1,191.7 L482.1,200.7 L485.1,208.1 L488.8,217.0 L492.5,226.0 L495.5,233.4 L497.7,242.3 L500.0,249.8 L503.7,257.2 L506.7,266.1 L511.1,273.6 L514.9,281.0 L517.8,288.5 L520.4,296.6 L518.6,303.3 L520.1,309.3 L522.3,315.2 L525.0,323.8 L527.2,332.0 L531.7,340.2 L535.4,347.6 L538.4,353.6 L543.6,361.0 L548.1,367.7 L548.8,372.9 L550.3,378.9 L553.3,386.3 L557.7,393.0 L559.2,399.7 L563.7,407.1 L568.2,414.6 L571.1,420.5 L574.9,428.0 L578.6,434.7 L581.5,440.6 L580.8,445.1 L578.6,448.8 L580.8,454.0 L585.3,460.7 L590.5,468.2 L594.9,475.6 L600.1,482.3 L604.6,489.7 L607.6,497.9 L609.5,506.8 L610.1,515.8 L608.7,526.8 L612.4,534.2 L618.4,541.7 L624.3,552.1 L629.6,561.0 L630.3,565.5 L636.2,572.9 L642.2,580.4 L643.7,586.3 L645.2,595.2 L645.9,604.2 L650.4,611.6 L652.6,619.0 L658.6,628.0 L666.0,636.9 L672.0,643.6 L674.2,648.8 L672.7,656.2 L669.0,662.2 L670.5,671.1 L672.7,681.5 L674.9,689.0 L679.4,696.4 L682.4,703.9 L688.3,711.3 L694.3,718.8 L694.1,723.8 L700.1,732.7 L707.5,741.7 L712.0,750.6 L716.4,761.0 L718.7,769.9 L721.6,778.9 L718.7,784.8 L717.9,792.3 L712.0,795.2 L701.5,797.5 L692.6,799.7 L692.6,802.7 L698.6,810.1 L700.8,819.0 L707.5,829.5 L713.5,838.4 L715.7,845.8 L722.4,856.2 L729.8,868.2 L730.6,874.1 L732.8,880.1 L726.8,886.0 L723.9,890.5 L725.4,896.4 L723.1,900.9 L725.4,906.8 L716.4,913.5 L722.2,922.3 L729.6,934.2 L731.1,944.6 L734.1,956.5 L732.6,964.0 L734.1,972.9 L740.1,981.8 L743.0,992.3 L745.3,1001.2 L743.0,1008.6 L747.5,1016.1 L751.2,1022.0 L746.0,1028.0 L746.8,1035.4 L745.3,1042.9 L750.5,1051.8 L753.5,1057.7 L759.4,1065.2 L762.4,1072.6 L768.3,1080.1 L772.8,1088.2 L766.8,1091.2 L767.6,1099.4 L771.3,1105.4 L780.2,1112.8 L786.2,1118.8 L788.2,1123.3 L797.1,1133.8 L794.1,1139.0 L785.2,1141.9 L777.7,1145.7 L775.5,1151.6 L772.5,1156.1 L773.3,1162.0 L776.2,1168.0 L780.7,1173.2 L785.2,1176.2" stroke="#ff0000" stroke-width="6.9" stroke-linecap="round"/>
<path d="M430.8,98.7 L434.7,106.7 L438.6,114.7 L442.5,122.7 L446.4,130.7 L450.3,138.7 L454.1,146.7 L458.0,154.7 L461.8,162.7 L465.7,170.7 L469.7,178.7 L473.7,186.7 L477.8,194.7 L482.0,202.7 L486.3,210.7 L490.7,218.7 L495.2,226.7 L499.8,234.7 L504.5,242.7 L509.2,250.7 L513.9,258.7 L518.6,266.7 L523.4,274.7 L528.1,282.7 L532.9,290.7 L537.7,298.7 L542.6,306.7 L547.6,314.7 L552.7,322.7 L557.9,330.7 L563.2,338.7 L568.5,346.7 L573.8,354.7 L579.0,362.7 L584.1,370.7 L589.3,378.7 L594.5,386.7 L599.7,394.7 L605.0,402.7 L610.3,410.7 L615.5,418.7 L620.6,426.7 L625.7,434.7 L630.7,442.7 L635.6,450.7 L640.5,458.7 L645.3,466.7 L650.1,474.7 L654.8,482.7 L659.4,490.7 L664.0,498.7 L668.6,506.7 L673.1,514.7 L677.6,522.7 L682.1,530.7 L686.5,538.7 L690.8,546.7 L695.0,554.7 L699.0,562.7 L702.9,570.7 L706.6,578.7 L710.3,586.7 L713.8,594.7 L717.3,602.7 L720.7,610.7 L724.0,618.7 L727.1,626.7 L730.1,634.7 L733.0,642.7 L735.8,650.7 L738.4,658.7 L740.9,666.7 L743.4,674.7 L745.9,682.7 L748.3,690.7 L750.7,698.7 L753.0,706.7 L755.2,714.7 L757.4,722.7 L759.5,730.7 L761.6,738.7 L763.6,746.7 L765.6,754.7 L767.6,762.7 L769.7,770.7 L771.7,778.7 L773.7,786.7 L775.7,794.7 L777.6,802.7 L779.4,810.7 L781.1,818.7 L782.7,826.7 L784.2,834.7 L785.7,842.7 L787.1,850.7 L788.4,858.7 L789.7,866.7 L791.0,874.7 L792.3,882.7 L793.5,890.7 L794.8,898.7 L796.1,906.7 L797.5,914.7 L798.8,922.7 L800.1,930.7 L801.2,938.7 L802.2,946.7 L803.0,954.7 L803.8,962.7 L804.6,970.7 L805.3,978.7 L806.1,986.7 L806.9,994.7 L807.7,1002.7 L808.5,1010.7 L809.1,1018.7 L809.8,1026.7 L810.3,1034.7 L810.8,1042.7 L811.2,1050.7 L811.6,1058.7 L812.0,1066.7 L812.4,1074.7 L812.8,1082.7 L813.2,1090.7 L813.6,1098.7 L814.0,1106.7 L814.3,1114.7 L814.7,1122.7 L815.0,1130.7 L815.3,1138.7 L815.7,1146.7 L815.7,1159.0 L817.9,1165.0 L825.4,1171.0 L831.3,1174.7" stroke="#ff0000" stroke-width="4.2" stroke-dasharray="15.4 6.7"/>
<path d="M430.8,98.7 L434.7,106.7 L438.6,114.7 L442.5,122.7 L446.4,130.7 L450.3,138.7 L454.1,146.7 L458.0,154.7 L461.8,162.7 L465.7,170.7 L469.7,178.7 L473.7,186.7 L477.8,194.7 L482.0,202.7 L486.3,210.7 L490.7,218.7 L495.2,226.7 L499.8,234.7 L504.5,242.7 L509.2,250.7 L513.9,258.7 L518.6,266.7 L523.4,274.7 L528.1,282.7 L532.9,290.7 L537.7,298.7 L542.6,306.7 L547.6,314.7 L552.7,322.7 L557.9,330.7 L563.2,338.7 L568.5,346.7 L573.8,354.7 L579.0,362.7 L584.1,370.7 L589.3,378.7 L594.5,386.7 L599.7,394.7 L605.0,402.7 L610.3,410.7 L615.5,418.7 L620.6,426.7 L625.7,434.7 L630.7,442.7 L635.6,450.7 L640.5,458.7 L645.3,466.7 L650.1,474.7 L654.8,482.7 L659.4,490.7 L664.0,498.7 L668.5,506.7 L673.0,514.7 L677.5,522.7 L681.9,530.7 L686.3,538.7 L690.6,546.7 L694.8,554.7 L698.9,562.7 L703.0,570.7 L707.1,578.7 L711.1,586.7 L715.2,594.7 L719.3,602.7 L723.4,610.7 L727.4,618.7 L731.4,626.7 L735.2,634.7 L738.9,642.7 L742.4,650.7 L745.8,658.7 L749.2,666.7 L752.4,674.7 L755.5,682.7 L758.6,690.7 L761.6,698.7 L764.5,706.7 L767.4,714.7 L770.3,722.7 L773.0,730.7 L775.7,738.7 L778.3,746.7 L780.7,754.7 L782.9,762.7 L784.9,770.7 L786.8,778.7 L788.5,786.7 L790.1,794.7 L791.6,802.7 L793.0,810.7 L794.3,818.7 L795.5,826.7 L796.7,834.7 L797.7,842.7 L798.6,850.7 L799.3,858.7 L800.0,866.7 L800.6,874.7 L801.1,882.7 L801.6,890.7 L802.0,898.7 L802.3,906.7 L802.5,914.7 L802.8,922.7 L803.1,930.7 L803.4,938.7 L803.7,946.7 L804.0,954.7 L804.3,962.7 L804.6,970.7 L804.9,978.7 L805.2,986.7 L805.5,994.7 L805.7,1002.7 L806.0,1010.7 L806.2,1018.7 L806.5,1026.7 L806.7,1034.7 L807.0,1042.7 L807.2,1050.7 L807.6,1058.7 L808.1,1066.7 L808.6,1074.7 L809.1,1082.7 L809.7,1090.7 L810.3,1098.7 L810.9,1106.7 L811.5,1114.7 L812.0,1122.7 L812.6,1130.7 L813.1,1138.7 L813.6,1146.7 L814.9,1163.5 L820.9,1168.0 L831.3,1174.7" stroke="#707070" stroke-width="3.2" stroke-dasharray="9 5" stroke-opacity="0.7"/>
</g>
<line x1="198.90" y1="595.40" x2="198.90" y2="805.50" stroke="#008000" stroke-width="3.6" stroke-opacity="0.4"/>
<text x="177.14" y="584.60" font-size="17.36" fill="#008000" font-weight="bold" fill-opacity="0.4">HGZ</text>
<line x1="237.20" y1="1023.50" x2="237.20" y2="1136.70" stroke="#b22222" stroke-width="3.6" stroke-opacity="0.32"/>
<text x="217.82" y="1019.70" font-size="18.06" fill="#b22222" font-weight="bold" fill-opacity="0.3">6.6</text>
<line x1="274.70" y1="1089.00" x2="274.70" y2="1176.90" stroke="#add8e6" stroke-width="3.6" stroke-opacity="0.5"/>
<text x="259.44" y="1086.70" font-size="17.36" fill="#add8e6" font-weight="bold" fill-opacity="0.5">EIL</text>
<text x="94.67" y="374.70" font-size="14.86" fill="#000" font-weight="bold" fill-opacity="0.66">13km</text>
<text x="95.56" y="652.10" font-size="14.86" fill="#000" font-weight="bold" fill-opacity="0.66">9km</text>
<text x="95.33" y="777.30" font-size="14.86" fill="#000" font-weight="bold" fill-opacity="0.66">7km</text>
<text x="95.19" y="896.90" font-size="14.86" fill="#000" font-weight="bold" fill-opacity="0.66">5km</text>
<text x="95.33" y="1012.50" font-size="14.86" fill="#000" font-weight="bold" fill-opacity="0.66">3km</text>
<text x="94.67" y="1122.20" font-size="14.86" fill="#000" font-weight="bold" fill-opacity="0.66">1km</text>
<text x="95.54" y="1175.40" font-size="15.28" fill="#000" font-weight="bold" fill-opacity="0.6">-SFC (127m) -</text>
<text x="438.68" y="446.60" font-size="18.75" fill="#008000" fill-opacity="0.65">63% →</text>
<text x="498.29" y="650.70" font-size="18.75" fill="#008000" fill-opacity="0.65">55% →</text>
<text x="583.50" y="837.00" font-size="18.75" fill="#008000" fill-opacity="0.65">78% →</text>
<text x="622.18" y="1011.90" font-size="18.75" fill="#008000" fill-opacity="0.65">84% →</text>
<text x="640.20" y="1121.60" font-size="18.75" fill="#008000" fill-opacity="0.65">76% →</text>
<text x="505.06" y="199.20" font-size="18.75" fill="#ff0000" fill-opacity="0.6">←2059J/kg</text>
<text x="845.06" y="837.40" font-size="18.75" fill="#ff0000" fill-opacity="0.6">←558J/kg</text>
<text x="871.26" y="1012.50" font-size="18.75" fill="#ff0000" fill-opacity="0.6">←99J/kg</text>
<text x="1074.54" y="142.60" font-size="20.83" fill="#808080" font-weight="bold" fill-opacity="0.9">↑MUMPL: 67hPa</text>
<text x="1074.86" y="198.70" font-size="20.83" fill="#808080" font-weight="bold" fill-opacity="0.9">←MUEL</text>
<text x="1074.86" y="1110.80" font-size="20.83" fill="#808080" font-weight="bold" fill-opacity="0.9">←MULFC</text>
<text x="1074.86" y="1163.80" font-size="20.83" fill="#808080" font-weight="bold" fill-opacity="0.9">←SBLCL</text>
<text x="1024.88" y="1160.30" font-size="13.89" fill="#808080" font-weight="bold" fill-opacity="0.9">←PBL</text>
<text x="1005.85" y="900.40" font-size="16.67" fill="#6495ed" font-weight="bold" fill-opacity="0.6">←FRZ</text>
<text x="1005.85" y="902.50" font-size="16.67" fill="#6495ed" font-weight="bold" fill-opacity="0.6">←WB0</text>
<text x="716.42" y="1195.50" font-size="16.67" fill="#6495ed" font-weight="bold" fill-opacity="0.75">76°F</text>
<text x="783.32" y="1195.50" font-size="16.67" fill="#ff0000" font-weight="bold" fill-opacity="0.75">79°F</text>
<line x1="34.50" y1="424.41" x2="39.40" y2="424.41" stroke="#000" stroke-width="1.1"/>
<text x="43.80" y="430.61" font-size="17.36" fill="#000" font-weight="bold">200</text>
<line x1="34.50" y1="614.87" x2="39.40" y2="614.87" stroke="#000" stroke-width="1.1"/>
<text x="43.97" y="621.07" font-size="17.36" fill="#000" font-weight="bold">300</text>
<line x1="34.50" y1="750.01" x2="39.40" y2="750.01" stroke="#000" stroke-width="1.1"/>
<text x="44.41" y="756.21" font-size="17.36" fill="#000" font-weight="bold">400</text>
<line x1="34.50" y1="854.83" x2="39.40" y2="854.83" stroke="#000" stroke-width="1.1"/>
<text x="43.80" y="861.03" font-size="17.36" fill="#000" font-weight="bold">500</text>
<line x1="34.50" y1="940.48" x2="39.40" y2="940.48" stroke="#000" stroke-width="1.1"/>
<text x="44.06" y="946.68" font-size="17.36" fill="#000" font-weight="bold">600</text>
<line x1="34.50" y1="1012.89" x2="39.40" y2="1012.89" stroke="#000" stroke-width="1.1"/>
<text x="43.97" y="1019.09" font-size="17.36" fill="#000" font-weight="bold">700</text>
<line x1="34.50" y1="1075.62" x2="39.40" y2="1075.62" stroke="#000" stroke-width="1.1"/>
<text x="44.06" y="1081.82" font-size="17.36" fill="#000" font-weight="bold">800</text>
<line x1="34.50" y1="1130.95" x2="39.40" y2="1130.95" stroke="#000" stroke-width="1.1"/>
<text x="44.23" y="1137.15" font-size="17.36" fill="#000" font-weight="bold">900</text>
<line x1="34.50" y1="1180.44" x2="39.40" y2="1180.44" stroke="#000" stroke-width="1.1"/>
<text x="43.19" y="1186.64" font-size="17.36" fill="#000" font-weight="bold">1000</text>
<line x1="131.50" y1="1203.50" x2="131.50" y2="1198.60" stroke="#000" stroke-width="1.1"/>
<text x="112.73" y="1200.60" font-size="16.67" fill="#000" font-weight="bold">−20</text>
<line x1="265.90" y1="1203.50" x2="265.90" y2="1198.60" stroke="#000" stroke-width="1.1"/>
<text x="247.13" y="1200.60" font-size="16.67" fill="#000" font-weight="bold">−10</text>
<line x1="400.30" y1="1203.50" x2="400.30" y2="1198.60" stroke="#000" stroke-width="1.1"/>
<text x="394.81" y="1200.60" font-size="16.67" fill="#000" font-weight="bold">0</text>
<line x1="534.70" y1="1203.50" x2="534.70" y2="1198.60" stroke="#000" stroke-width="1.1"/>
<text x="522.87" y="1200.60" font-size="16.67" fill="#000" font-weight="bold">10</text>
<line x1="669.10" y1="1203.50" x2="669.10" y2="1198.60" stroke="#000" stroke-width="1.1"/>
<text x="657.56" y="1200.60" font-size="16.67" fill="#000" font-weight="bold">20</text>
<line x1="803.50" y1="1203.50" x2="803.50" y2="1198.60" stroke="#000" stroke-width="1.1"/>
<text x="792.04" y="1200.60" font-size="16.67" fill="#000" font-weight="bold">30</text>
<line x1="937.90" y1="1203.50" x2="937.90" y2="1198.60" stroke="#000" stroke-width="1.1"/>
<text x="926.65" y="1200.60" font-size="16.67" fill="#000" font-weight="bold">40</text>
<line x1="1072.30" y1="1203.50" x2="1072.30" y2="1198.60" stroke="#000" stroke-width="1.1"/>
<text x="1060.76" y="1200.60" font-size="16.67" fill="#000" font-weight="bold">50</text>
<line x1="1206.70" y1="1203.50" x2="1206.70" y2="1198.60" stroke="#000" stroke-width="1.1"/>
<text x="1195.28" y="1200.60" font-size="16.67" fill="#000" font-weight="bold">60</text>
<rect x="41.5" y="105.6" width="177.6" height="191.6" rx="3" ry="3" fill="#fff" fill-opacity="0.8" stroke="#ccc" stroke-opacity="0.8" stroke-width="1.4"/>
<text x="84.88" y="121.80" font-size="13.89" fill="#000">WETBULB TEMP</text>
<line x1="45.10" y1="116.80" x2="76.30" y2="116.80" stroke="#7db4ff" stroke-width="3"/>
<text x="85.23" y="142.80" font-size="13.89" fill="#000">VIRTUAL TEMP</text>
<line x1="46.00" y1="137.80" x2="76.30" y2="137.80" stroke="#a54b4b" stroke-width="5.6" stroke-dasharray="5.6 5.6"/>
<text x="83.98" y="163.80" font-size="13.89" fill="#000">DEWPOINT</text>
<line x1="43.10" y1="158.80" x2="78.00" y2="158.80" stroke="#6495ed" stroke-width="7"/>
<text x="85.37" y="184.80" font-size="13.89" fill="#000">TEMPERATURE</text>
<line x1="43.10" y1="179.80" x2="78.00" y2="179.80" stroke="#ff0000" stroke-width="7"/>
<text x="83.98" y="205.80" font-size="13.89" fill="#000">MUECAPE PARCEL</text>
<line x1="46.00" y1="200.80" x2="74.50" y2="200.80" stroke="#ff0000" stroke-width="4.2" stroke-dasharray="15.5 6"/>
<text x="84.40" y="226.80" font-size="13.89" fill="#000">SBCAPE PARCEL</text>
<line x1="46.00" y1="221.80" x2="72.00" y2="221.80" stroke="#808080" stroke-width="3" stroke-dasharray="11 4.5" stroke-opacity="0.5"/>
<text x="83.98" y="247.80" font-size="13.89" fill="#000">MLCAPE PARCEL</text>
<line x1="46.00" y1="242.80" x2="72.00" y2="242.80" stroke="#808080" stroke-width="3" stroke-dasharray="11 4.5" stroke-opacity="0.5"/>
<text x="83.98" y="268.80" font-size="13.89" fill="#000">MUCAPE PARCEL</text>
<line x1="46.00" y1="263.80" x2="72.00" y2="263.80" stroke="#808080" stroke-width="3" stroke-dasharray="11 4.5" stroke-opacity="0.5"/>
<text x="83.98" y="289.80" font-size="13.89" fill="#000">DWNDRFT PARCEL</text>
<line x1="46.00" y1="284.80" x2="75.00" y2="284.80" stroke="#800080" stroke-width="1" stroke-dasharray="3.7 1.6"/>
<rect x="34.50" y="98.50" width="1270.00" height="1105.00" fill="none" stroke="#000" stroke-width="1.1"/>
<text x="34.38" y="53.80" font-size="41.67" fill="#000" font-weight="bold">SKEW-T ROYALRAIN</text>
<text x="36.04" y="86.80" font-size="31.94" fill="#000">VALID: 10-7-2025 00Z</text>
<text x="2136.04" y="86.80" font-size="31.94" fill="#000">RASISALAI STATION</text>
<line x1="1247.50" y1="152.90" x2="1247.50" y2="1192.90" stroke="#222" stroke-width="0.8"/>
<g clip-path="url(#skc)">
<path d="M1247.5,220.8 L1291.6,213.9 M1277.5,216.1 L1281.1,224.2" fill="none" stroke="#000" stroke-width="1.75" stroke-linecap="butt" stroke-linejoin="miter"/><path d="M1291.6,213.9 L1289.7,231.6 L1282.5,215.3 Z" fill="#000" stroke="#000" stroke-width="1.2" stroke-linejoin="miter"/>
<circle cx="1246.7" cy="220.8" r="3.3" fill="#000"/>
<path d="M1247.5,253.0 L1291.8,248.0" fill="none" stroke="#000" stroke-width="1.75" stroke-linecap="butt" stroke-linejoin="miter"/><path d="M1291.8,248.0 L1289.2,265.6 L1282.7,249.1 Z" fill="#000" stroke="#000" stroke-width="1.2" stroke-linejoin="miter"/>
<circle cx="1246.7" cy="253.0" r="3.3" fill="#000"/>
<path d="M1247.5,285.3 L1291.9,281.3" fill="none" stroke="#000" stroke-width="1.75" stroke-linecap="butt" stroke-linejoin="miter"/><path d="M1291.9,281.3 L1288.9,298.9 L1282.8,282.2 Z" fill="#000" stroke="#000" stroke-width="1.2" stroke-linejoin="miter"/>
<circle cx="1246.7" cy="285.3" r="3.3" fill="#000"/>
<path d="M1247.5,318.8 L1291.4,310.7 M1291.4,310.7 L1299.0,326.8 M1286.4,311.7 L1294.1,327.7 M1281.5,312.6 L1289.2,328.6 M1276.6,313.5 L1284.2,329.5 M1271.7,314.4 L1275.5,322.4" fill="none" stroke="#000" stroke-width="1.75" stroke-linecap="butt" stroke-linejoin="miter"/>
<circle cx="1246.7" cy="318.8" r="3.3" fill="#000"/>
<path d="M1247.5,352.7 L1289.5,337.7 M1289.5,337.7 L1299.6,352.3 M1284.8,339.4 L1294.9,354.0 M1280.1,341.0 L1290.2,355.7 M1275.4,342.7 L1285.5,357.4 M1270.7,344.4 L1275.7,351.7" fill="none" stroke="#000" stroke-width="1.75" stroke-linecap="butt" stroke-linejoin="miter"/>
<circle cx="1246.7" cy="352.7" r="3.3" fill="#000"/>
<path d="M1247.5,384.2 L1288.9,367.6 M1288.9,367.6 L1299.6,381.9 M1284.3,369.5 L1294.9,383.8 M1279.6,371.4 L1290.3,385.6 M1275.0,373.2 L1285.6,387.5" fill="none" stroke="#000" stroke-width="1.75" stroke-linecap="butt" stroke-linejoin="miter"/>
<circle cx="1246.7" cy="384.2" r="3.3" fill="#000"/>
<path d="M1247.5,418.7 L1288.1,400.3 M1288.1,400.3 L1299.4,414.1 M1283.6,402.4 L1294.9,416.2 M1279.0,404.5 L1290.3,418.2 M1274.5,406.5 L1285.7,420.3" fill="none" stroke="#000" stroke-width="1.75" stroke-linecap="butt" stroke-linejoin="miter"/>
<circle cx="1246.7" cy="418.7" r="3.3" fill="#000"/>
<path d="M1247.5,450.8 L1285.3,427.1 M1285.3,427.1 L1298.3,439.2 M1281.0,429.8 L1294.1,441.9 M1276.8,432.4 L1289.8,444.5 M1272.6,435.1 L1279.1,441.1" fill="none" stroke="#000" stroke-width="1.75" stroke-linecap="butt" stroke-linejoin="miter"/>
<circle cx="1246.7" cy="450.8" r="3.3" fill="#000"/>
<path d="M1247.5,484.9 L1283.9,459.1 M1283.9,459.1 L1297.6,470.4 M1279.8,462.0 L1293.5,473.3 M1275.7,464.9 L1289.4,476.2" fill="none" stroke="#000" stroke-width="1.75" stroke-linecap="butt" stroke-linejoin="miter"/>
<circle cx="1246.7" cy="484.9" r="3.3" fill="#000"/>
<path d="M1247.5,517.0 L1289.4,501.7 M1289.4,501.7 L1299.6,516.2 M1284.7,503.4 L1294.9,518.0" fill="none" stroke="#000" stroke-width="1.75" stroke-linecap="butt" stroke-linejoin="miter"/>
<circle cx="1246.7" cy="517.0" r="3.3" fill="#000"/>
<path d="M1247.5,550.6 L1282.9,523.5 M1282.9,523.5 L1297.0,534.4" fill="none" stroke="#000" stroke-width="1.75" stroke-linecap="butt" stroke-linejoin="miter"/>
<circle cx="1246.7" cy="550.6" r="3.3" fill="#000"/>
<path d="M1247.5,583.4 L1275.7,548.8 M1275.7,548.8 L1291.9,556.1" fill="none" stroke="#000" stroke-width="1.75" stroke-linecap="butt" stroke-linejoin="miter"/>
<circle cx="1246.7" cy="583.4" r="3.3" fill="#000"/>
<path d="M1247.5,617.3 L1264.2,575.9 M1264.2,575.9 L1281.9,578.1" fill="none" stroke="#000" stroke-width="1.75" stroke-linecap="butt" stroke-linejoin="miter"/>
<circle cx="1246.7" cy="617.3" r="3.3" fill="#000"/>
<path d="M1247.5,650.4 L1254.8,606.4 M1254.8,606.4 L1272.5,604.7" fill="none" stroke="#000" stroke-width="1.75" stroke-linecap="butt" stroke-linejoin="miter"/>
<circle cx="1246.7" cy="650.4" r="3.3" fill="#000"/>
<path d="M1247.5,684.0 L1262.3,641.9 M1262.3,641.9 L1280.1,643.3 M1260.7,646.6 L1269.5,647.3" fill="none" stroke="#000" stroke-width="1.75" stroke-linecap="butt" stroke-linejoin="miter"/>
<circle cx="1246.7" cy="684.0" r="3.3" fill="#000"/>
<path d="M1247.5,716.6 L1270.1,678.1 M1270.1,678.1 L1287.2,682.9" fill="none" stroke="#000" stroke-width="1.75" stroke-linecap="butt" stroke-linejoin="miter"/>
<circle cx="1246.7" cy="716.6" r="3.3" fill="#000"/>
<path d="M1247.5,749.3 L1224.5,711.1 M1228.3,717.5 L1234.5,711.1" fill="none" stroke="#000" stroke-width="1.75" stroke-linecap="butt" stroke-linejoin="miter"/>
<circle cx="1246.7" cy="749.3" r="3.3" fill="#000"/>
<path d="M1247.5,783.0 L1204.1,793.2 M1204.1,793.2 L1195.7,777.5" fill="none" stroke="#000" stroke-width="1.75" stroke-linecap="butt" stroke-linejoin="miter"/>
<circle cx="1246.7" cy="783.0" r="3.3" fill="#000"/>
<path d="M1247.5,816.0 L1210.8,790.7 M1210.8,790.7 L1216.8,773.9" fill="none" stroke="#000" stroke-width="1.75" stroke-linecap="butt" stroke-linejoin="miter"/>
<circle cx="1246.7" cy="816.0" r="3.3" fill="#000"/>
<path d="M1247.5,848.7 L1204.1,838.4 M1204.1,838.4 L1203.6,820.6" fill="none" stroke="#000" stroke-width="1.75" stroke-linecap="butt" stroke-linejoin="miter"/>
<circle cx="1246.7" cy="848.7" r="3.3" fill="#000"/>
<path d="M1247.5,882.4 L1203.3,876.7 M1203.3,876.7 L1200.9,859.1" fill="none" stroke="#000" stroke-width="1.75" stroke-linecap="butt" stroke-linejoin="miter"/>
<circle cx="1246.7" cy="882.4" r="3.3" fill="#000"/>
<path d="M1247.5,915.0 L1203.5,922.3 M1203.5,922.3 L1196.2,906.1 M1208.4,921.5 L1201.1,905.2" fill="none" stroke="#000" stroke-width="1.75" stroke-linecap="butt" stroke-linejoin="miter"/>
<circle cx="1246.7" cy="915.0" r="3.3" fill="#000"/>
<path d="M1247.5,948.5 L1203.3,942.2 M1203.3,942.2 L1201.2,924.5 M1208.3,942.9 L1206.2,925.2" fill="none" stroke="#000" stroke-width="1.75" stroke-linecap="butt" stroke-linejoin="miter"/>
<circle cx="1246.7" cy="948.5" r="3.3" fill="#000"/>
<path d="M1247.5,981.2 L1204.4,969.7 M1204.4,969.7 L1204.4,951.9 M1209.2,971.0 L1209.2,953.2" fill="none" stroke="#000" stroke-width="1.75" stroke-linecap="butt" stroke-linejoin="miter"/>
<circle cx="1246.7" cy="981.2" r="3.3" fill="#000"/>
<path d="M1247.5,1014.4 L1204.8,1001.4 M1204.8,1001.4 L1205.5,983.6 M1209.6,1002.8 L1210.3,985.0" fill="none" stroke="#000" stroke-width="1.75" stroke-linecap="butt" stroke-linejoin="miter"/>
<circle cx="1246.7" cy="1014.4" r="3.3" fill="#000"/>
<path d="M1247.5,1047.2 L1210.7,1021.9 M1210.7,1021.9 L1216.7,1005.2 M1214.9,1024.8 L1220.8,1008.0" fill="none" stroke="#000" stroke-width="1.75" stroke-linecap="butt" stroke-linejoin="miter"/>
<circle cx="1246.7" cy="1047.2" r="3.3" fill="#000"/>
<path d="M1247.5,1080.6 L1212.5,1052.9 M1212.5,1052.9 L1219.6,1036.6 M1216.5,1056.0 L1223.5,1039.7 M1220.4,1059.1 L1227.5,1042.8" fill="none" stroke="#000" stroke-width="1.75" stroke-linecap="butt" stroke-linejoin="miter"/>
<circle cx="1246.7" cy="1080.6" r="3.3" fill="#000"/>
<path d="M1247.5,1113.8 L1212.8,1085.8 M1212.8,1085.8 L1220.0,1069.5 M1216.7,1088.9 L1223.9,1072.7 M1220.6,1092.1 L1227.8,1075.8" fill="none" stroke="#000" stroke-width="1.75" stroke-linecap="butt" stroke-linejoin="miter"/>
<circle cx="1246.7" cy="1113.8" r="3.3" fill="#000"/>
<path d="M1247.5,1146.8 L1204.6,1134.7 M1204.6,1134.7 L1204.8,1116.9 M1209.4,1136.0 L1209.7,1118.2 M1214.2,1137.4 L1214.5,1119.6" fill="none" stroke="#000" stroke-width="1.75" stroke-linecap="butt" stroke-linejoin="miter"/>
<circle cx="1246.7" cy="1146.8" r="3.3" fill="#000"/>
<path d="M1247.5,1174.7 L1205.9,1190.8 M1205.9,1190.8 L1195.4,1176.4" fill="none" stroke="#000" stroke-width="1.75" stroke-linecap="butt" stroke-linejoin="miter"/>
<circle cx="1246.7" cy="1174.7" r="3.3" fill="#000"/>
</g>
<line x1="1304.50" y1="424.41" x2="1392.50" y2="424.41" stroke="#808080" stroke-width="1.0" stroke-opacity="0.75"/>
<line x1="1304.50" y1="614.87" x2="1392.50" y2="614.87" stroke="#808080" stroke-width="1.0" stroke-opacity="0.75"/>
<line x1="1304.50" y1="750.01" x2="1392.50" y2="750.01" stroke="#808080" stroke-width="1.0" stroke-opacity="0.75"/>
<line x1="1304.50" y1="854.83" x2="1392.50" y2="854.83" stroke="#808080" stroke-width="1.0" stroke-opacity="0.75"/>
<line x1="1304.50" y1="940.48" x2="1392.50" y2="940.48" stroke="#808080" stroke-width="1.0" stroke-opacity="0.75"/>
<line x1="1304.50" y1="1012.89" x2="1392.50" y2="1012.89" stroke="#808080" stroke-width="1.0" stroke-opacity="0.75"/>
<line x1="1304.50" y1="1075.62" x2="1392.50" y2="1075.62" stroke="#808080" stroke-width="1.0" stroke-opacity="0.75"/>
<line x1="1304.50" y1="1130.95" x2="1392.50" y2="1130.95" stroke="#808080" stroke-width="1.0" stroke-opacity="0.75"/>
<line x1="1304.50" y1="1180.44" x2="1392.50" y2="1180.44" stroke="#808080" stroke-width="1.0" stroke-opacity="0.75"/>
<rect x="1341.70" y="253.10" width="3.10" height="255.00" fill="#ff0000" stroke="none" stroke-width="1" fill-opacity="0.33" stroke="#808080" stroke-opacity="0.4" stroke-width="0.8"/>
<rect x="1341.70" y="671.60" width="0.80" height="218.40" fill="#ff0000" stroke="none" stroke-width="1" fill-opacity="0.25"/>
<rect x="1338.60" y="890.10" width="3.10" height="79.90" fill="#6495ed" stroke="none" stroke-width="1" fill-opacity="0.35" stroke="#808080" stroke-opacity="0.3" stroke-width="0.8"/>
<rect x="1334.50" y="970.00" width="7.20" height="68.30" fill="#6495ed" stroke="none" stroke-width="1" fill-opacity="0.35" stroke="#808080" stroke-opacity="0.3" stroke-width="0.8"/>
<rect x="1341.70" y="1038.30" width="3.10" height="60.00" fill="#ff0000" stroke="none" stroke-width="1" fill-opacity="0.3" stroke="#808080" stroke-opacity="0.3" stroke-width="0.8"/>
<rect x="1341.70" y="1098.30" width="20.00" height="53.30" fill="#ff0000" stroke="none" stroke-width="1" fill-opacity="0.3" stroke="#808080" stroke-opacity="0.35" stroke-width="0.8"/>
<line x1="1341.70" y1="98.50" x2="1341.70" y2="1203.50" stroke="#000" stroke-width="1.5" stroke-dasharray="4 2.2"/>
<text x="1344.62" y="422.61" font-size="12.78" fill="#000" font-weight="bold">0.4</text>
<text x="1344.62" y="613.07" font-size="12.78" fill="#000" font-weight="bold">0.1</text>
<text x="1344.62" y="748.21" font-size="12.78" fill="#000" font-weight="bold">0.1</text>
<text x="1344.62" y="853.03" font-size="12.78" fill="#000" font-weight="bold">0.1</text>
<text x="1344.62" y="1073.82" font-size="12.78" fill="#000" font-weight="bold">0.4</text>
<text x="1342.94" y="1129.15" font-size="12.78" fill="#000" font-weight="bold">2.6</text>
<text x="1310.05" y="938.98" font-size="12.78" fill="#000" font-weight="bold">-0.4</text>
<text x="1310.24" y="1011.39" font-size="12.78" fill="#000" font-weight="bold">-0.8</text>
<line x1="1304.50" y1="98.50" x2="1392.50" y2="98.50" stroke="#000" stroke-width="1.1"/>
<line x1="1304.50" y1="1203.50" x2="1392.50" y2="1203.50" stroke="#000" stroke-width="1.1"/>
<defs><clipPath id="hoc"><rect x="1392.5" y="98.5" width="1023.0" height="1105.0"/></clipPath></defs>
<g clip-path="url(#hoc)" fill="none">
<circle cx="1817.9" cy="494.2" r="101.5" stroke="#808080" stroke-opacity="0.5" stroke-width="1.15" stroke-dasharray="5.6 3.4"/>
<circle cx="1817.9" cy="494.2" r="203.0" stroke="#808080" stroke-opacity="0.8" stroke-width="1.5"/>
<circle cx="1817.9" cy="494.2" r="304.5" stroke="#808080" stroke-opacity="0.5" stroke-width="1.15" stroke-dasharray="5.6 3.4"/>
<circle cx="1817.9" cy="494.2" r="406.0" stroke="#808080" stroke-opacity="0.8" stroke-width="1.5"/>
<circle cx="1817.9" cy="494.2" r="507.5" stroke="#808080" stroke-opacity="0.5" stroke-width="1.15" stroke-dasharray="5.6 3.4"/>
<circle cx="1817.9" cy="494.2" r="609.0" stroke="#808080" stroke-opacity="0.8" stroke-width="1.5"/>
<circle cx="1817.9" cy="494.2" r="710.5" stroke="#808080" stroke-opacity="0.5" stroke-width="1.15" stroke-dasharray="5.6 3.4"/>
<circle cx="1817.9" cy="494.2" r="812.0" stroke="#808080" stroke-opacity="0.8" stroke-width="1.5"/>
<circle cx="1817.9" cy="494.2" r="913.5" stroke="#808080" stroke-opacity="0.5" stroke-width="1.15" stroke-dasharray="5.6 3.4"/>
<circle cx="1817.9" cy="494.2" r="1015.0" stroke="#808080" stroke-opacity="0.8" stroke-width="1.5"/>
<circle cx="1817.9" cy="494.2" r="1116.5" stroke="#808080" stroke-opacity="0.5" stroke-width="1.15" stroke-dasharray="5.6 3.4"/>
<circle cx="1817.9" cy="494.2" r="1218.0" stroke="#808080" stroke-opacity="0.8" stroke-width="1.5"/>
<circle cx="1817.9" cy="494.2" r="1319.5" stroke="#808080" stroke-opacity="0.5" stroke-width="1.15" stroke-dasharray="5.6 3.4"/>
<line x1="1392.50" y1="494.20" x2="2415.50" y2="494.20" stroke="#808080" stroke-width="1.7" stroke-opacity="0.3"/>
<line x1="1392.50" y1="494.20" x2="2415.50" y2="494.20" stroke="#606060" stroke-width="1.4" stroke-dasharray="5.14 2.22" stroke-opacity="0.5"/>
<line x1="1817.90" y1="98.50" x2="1817.90" y2="1203.50" stroke="#808080" stroke-width="1.7" stroke-opacity="0.3"/>
<line x1="1817.90" y1="98.50" x2="1817.90" y2="1203.50" stroke="#606060" stroke-width="1.4" stroke-dasharray="5.14 2.22" stroke-opacity="0.5"/>
<text x="1919.7" y="492.6" font-size="16.67" fill="#808080" font-weight="bold" fill-opacity="0.43">10</text>
<text x="1716.7" y="492.6" font-size="16.67" fill="#808080" font-weight="bold" fill-opacity="0.43">10</text>
<text x="1818.2" y="594.1" font-size="16.67" fill="#808080" font-weight="bold" fill-opacity="0.43">10</text>
<text x="1818.2" y="391.1" font-size="16.67" fill="#808080" font-weight="bold" fill-opacity="0.43">10</text>
<text x="2122.7" y="492.6" font-size="16.67" fill="#808080" font-weight="bold" fill-opacity="0.43">30</text>
<text x="1513.7" y="492.6" font-size="16.67" fill="#808080" font-weight="bold" fill-opacity="0.43">30</text>
<text x="1818.2" y="797.1" font-size="16.67" fill="#808080" font-weight="bold" fill-opacity="0.43">30</text>
<text x="1818.2" y="188.1" font-size="16.67" fill="#808080" font-weight="bold" fill-opacity="0.43">30</text>
<text x="2325.7" y="492.6" font-size="16.67" fill="#808080" font-weight="bold" fill-opacity="0.43">50</text>
<text x="1310.7" y="492.6" font-size="16.67" fill="#808080" font-weight="bold" fill-opacity="0.43">50</text>
<text x="1818.2" y="1000.1" font-size="16.67" fill="#808080" font-weight="bold" fill-opacity="0.43">50</text>
<text x="1818.2" y="-14.9" font-size="16.67" fill="#808080" font-weight="bold" fill-opacity="0.43">50</text>
<path d="M1884.0,468.0 L1892.5,454.4 L1931.6,459.7 L1975.2,479.5 L2018.9,504.7 L2059.9,533.8 L2090.3,562.9 L2087.9,562.5 L2098.4,582.3 L2108.4,599.5 L2109.0,623.3 L2100.4,645.8 L2089.2,665.7 L2081.2,678.2 L2073.3,688.2 L2062.7,695.4 L2056.1,697.4 L2053.5,694.8 L2052.1,688.2 L2046.8,680.2 Z" fill="#add8e6" fill-opacity="0.32" stroke="#add8e6" stroke-opacity="0.6" stroke-width="1.6" stroke-linejoin="round"/>
<path d="M1817.9,494.2 L1875.3,473.1" stroke="#c9c9c9" stroke-width="4.4"/>
<path d="M1881.3,470.9 l-9.5,-2.2 l3.5,9.5 Z" fill="#bdbdbd" stroke="none"/>
<path d="M1803.1,580.3 C1803.9,577.2 1807.2,566.1 1808.0,561.7 C1808.8,557.4 1809.1,555.4 1808.0,554.0 C1807.0,552.6 1804.4,552.3 1801.7,553.3 C1799.0,554.4 1795.1,556.6 1791.9,560.3 C1788.6,564.1 1784.9,571.3 1782.0,575.8 C1779.2,580.2 1777.8,584.0 1775.0,587.0 C1772.2,590.0 1768.2,593.8 1765.2,594.0 C1762.2,594.2 1759.4,591.4 1756.8,588.4 C1754.2,585.4 1751.6,580.0 1749.8,575.8 C1747.9,571.6 1747.0,565.5 1745.6,563.1 C1744.2,560.8 1743.5,561.4 1741.4,561.7 C1739.2,562.1 1736.4,564.3 1732.9,565.2 C1729.4,566.2 1725.2,567.2 1720.3,567.4 C1715.4,567.5 1709.8,566.8 1703.5,566.0 C1697.2,565.1 1689.4,563.6 1682.4,562.4 C1675.4,561.3 1669.6,559.3 1661.4,558.9 C1653.2,558.6 1640.3,559.3 1633.3,560.3 C1626.3,561.4 1623.6,563.3 1619.3,565.2 C1614.9,567.2 1610.9,569.6 1607.3,572.3 C1603.8,575.0 1601.6,578.0 1598.2,581.4 C1594.8,584.8 1589.8,588.4 1587.0,592.6 C1584.2,596.8 1582.9,602.4 1581.4,606.6 C1579.9,610.9 1578.8,613.2 1577.9,617.9 C1576.9,622.5 1576.2,628.6 1575.8,634.7 C1575.3,640.8 1575.2,648.3 1575.1,654.4 C1575.0,660.4 1575.7,667.0 1575.1,671.2 C1574.5,675.4 1573.6,677.9 1571.6,679.6 C1569.6,681.4 1566.9,681.8 1563.1,681.7 C1559.4,681.6 1554.5,679.8 1549.1,678.9 C1543.7,678.0 1536.7,676.9 1530.9,676.1 C1525.0,675.3 1516.8,674.3 1514.0,674.0" fill="none" stroke="#ffee99" stroke-width="9.2" stroke-linejoin="round" stroke-linecap="butt"/>
<path d="M1893.2,515.3 C1893.2,518.1 1893.3,526.5 1893.5,532.4 C1893.6,538.4 1894.2,551.0 1894.1,551.0 C1894.1,551.0 1893.6,541.0 1893.2,532.4 C1892.8,523.8 1892.2,509.1 1891.9,499.4 C1891.5,489.7 1893.0,476.9 1891.2,474.2 C1889.4,471.6 1884.9,479.3 1881.3,483.5 C1877.6,487.7 1873.6,494.1 1869.4,499.4 C1865.2,504.7 1860.6,510.8 1856.1,515.3 C1851.7,519.7 1848.4,522.5 1842.9,525.8 C1837.4,529.1 1827.6,533.3 1823.1,535.1 C1818.5,536.9 1820.5,534.4 1815.7,536.5 C1811.0,538.6 1801.6,542.4 1794.7,547.7 C1787.8,553.0 1778.8,561.5 1774.3,568.1 C1769.9,574.6 1769.2,580.6 1768.0,587.0 C1766.8,593.4 1767.5,600.6 1767.3,606.6 C1767.1,612.7 1766.9,618.3 1767.0,623.5 C1767.1,628.6 1767.1,634.0 1768.0,637.5 C1768.9,641.0 1770.6,644.1 1772.2,644.5 C1773.9,645.0 1775.7,643.4 1777.8,640.3 C1779.9,637.3 1782.3,631.9 1784.9,626.3 C1787.4,620.7 1790.7,612.7 1793.3,606.6 C1795.8,600.6 1798.7,594.2 1800.3,589.8 C1801.9,585.4 1802.6,581.9 1803.1,580.3" fill="none" stroke="#ffd700" stroke-width="9.2" stroke-linejoin="round" stroke-linecap="round"/>
<path d="M2025.5,553.6 C2022.6,552.5 2011.4,549.4 2008.3,547.0 C2005.2,544.6 2005.1,541.3 2007.0,539.1 C2008.8,536.9 2018.4,537.7 2019.5,533.8 C2020.6,529.8 2015.4,521.9 2013.6,515.3 C2011.7,508.6 2009.5,501.1 2008.3,494.1 C2007.1,487.0 2007.0,478.6 2006.3,472.9 C2005.6,467.2 2005.3,461.7 2004.3,459.7 C2003.3,457.7 2003.0,458.4 2000.3,461.0 C1997.7,463.7 1992.1,471.5 1988.4,475.6 C1984.8,479.6 1982.9,481.7 1978.5,485.5 C1974.1,489.2 1968.0,494.2 1962.0,498.1 C1955.9,501.9 1948.8,505.3 1942.1,508.6 C1935.5,511.9 1927.8,515.5 1922.3,517.9 C1916.8,520.3 1912.4,522.4 1909.1,523.2 C1905.8,524.0 1905.1,523.8 1902.4,522.5 C1899.8,521.2 1894.7,516.5 1893.2,515.3" fill="none" stroke="#ff8c00" stroke-width="9.2" stroke-linejoin="round" stroke-linecap="round"/>
<path d="M2081.2,678.2 C2079.9,679.9 2076.4,685.3 2073.3,688.2 C2070.2,691.0 2065.6,693.9 2062.7,695.4 C2059.9,697.0 2057.6,697.5 2056.1,697.4 C2054.6,697.3 2054.1,696.3 2053.5,694.8 C2052.8,693.2 2053.7,690.6 2052.1,688.2 C2050.6,685.7 2047.5,682.9 2044.2,680.2 C2040.9,677.6 2036.0,674.8 2032.3,672.3 C2028.5,669.8 2024.7,667.5 2021.7,665.0 C2018.7,662.5 2017.1,660.9 2014.4,657.5 C2011.8,654.1 2008.1,648.7 2005.8,644.5 C2003.5,640.4 2001.7,636.4 2000.5,632.6 C1999.4,628.9 1998.8,625.1 1999.0,622.0 C1999.1,618.9 1999.4,617.0 2001.2,614.1 C2003.0,611.2 2006.4,607.7 2009.8,604.8 C2013.2,602.0 2017.7,599.9 2021.7,596.9 C2025.7,593.9 2031.1,590.6 2033.6,587.0 C2036.2,583.3 2036.9,578.7 2036.9,575.1 C2036.9,571.4 2035.5,568.8 2033.6,565.1 C2031.7,561.5 2027.0,555.2 2025.7,553.2" fill="none" stroke="#ff0000" stroke-width="9.2" stroke-linejoin="round" stroke-linecap="round"/>
<path d="M1892.5,454.4 L1931.6,459.7 L1975.2,479.5 L2018.9,504.7 L2059.9,533.8 L2090.3,562.9 L2087.9,562.5 L2098.4,582.3 L2108.4,599.5 L2109.0,623.3 L2100.4,645.8 L2089.2,665.7 L2081.2,678.2" fill="none" stroke="#800080" stroke-width="9.2" stroke-linejoin="round" stroke-linecap="butt"/>
<path d="M1914.6,463.2 L1927.4,463.2 L1921,475.6 Z" fill="#a52a2a" fill-opacity="0.8"/>
<text x="1903.55" y="449.80" font-size="13.89" fill="#a52a2a" font-weight="bold">DTM</text>
<text x="1699.44" y="450.80" font-size="17.36" fill="#ffa500" font-weight="bold" fill-opacity="0.5">UP</text>
<text x="1825.44" y="516.80" font-size="17.36" fill="#ffa500" font-weight="bold" fill-opacity="0.5">DN</text>
<circle cx="2092.8" cy="568.2" r="9.9" fill="#fff" stroke="#000" stroke-width="1.5"/>
<text x="2084.32" y="573.80" font-size="15.28" fill="#000" font-weight="bold">.5</text>
<circle cx="2081.2" cy="678.2" r="9.9" fill="#fff" stroke="#000" stroke-width="1.5"/>
<text x="2075.55" y="683.80" font-size="15.28" fill="#000" font-weight="bold">1</text>
<circle cx="2014.4" cy="657.5" r="9.9" fill="#fff" stroke="#000" stroke-width="1.5"/>
<text x="2009.17" y="663.10" font-size="15.28" fill="#000" font-weight="bold">2</text>
<circle cx="2025.6" cy="553.4" r="9.9" fill="#fff" stroke="#000" stroke-width="1.5"/>
<text x="2020.37" y="559.00" font-size="15.28" fill="#000" font-weight="bold">3</text>
<circle cx="2019.5" cy="533.8" r="9.9" fill="#fff" stroke="#000" stroke-width="1.5"/>
<text x="2014.23" y="539.40" font-size="15.28" fill="#000" font-weight="bold">4</text>
<circle cx="1978.5" cy="485.5" r="9.9" fill="#fff" stroke="#000" stroke-width="1.5"/>
<text x="1973.11" y="491.10" font-size="15.28" fill="#000" font-weight="bold">5</text>
<circle cx="1893.2" cy="515.3" r="9.9" fill="#fff" stroke="#000" stroke-width="1.5"/>
<text x="1887.81" y="520.90" font-size="15.28" fill="#000" font-weight="bold">6</text>
<circle cx="1891.2" cy="474.2" r="9.9" fill="#fff" stroke="#000" stroke-width="1.5"/>
<text x="1885.97" y="479.80" font-size="15.28" fill="#000" font-weight="bold">7</text>
<circle cx="1774.3" cy="568.1" r="9.9" fill="#fff" stroke="#000" stroke-width="1.5"/>
<text x="1768.99" y="573.70" font-size="15.28" fill="#000" font-weight="bold">8</text>
<circle cx="1803.1" cy="580.4" r="9.9" fill="#fff" stroke="#000" stroke-width="1.5"/>
<text x="1797.87" y="586.00" font-size="15.28" fill="#000" font-weight="bold">9</text>
<circle cx="1607.3" cy="572.3" r="9.9" fill="#fff" stroke="#000" stroke-width="1.5"/>
<text x="1596.33" y="577.90" font-size="15.28" fill="#000" font-weight="bold">11</text>
<text x="1894.11" y="470.90" font-size="18.75" fill="#000" font-weight="bold" fill-opacity="0.9">RM</text>
<text x="1964.91" y="574.40" font-size="18.75" fill="#000" font-weight="bold" fill-opacity="0.9">MW</text>
<text x="2095.71" y="688.80" font-size="18.75" fill="#000" font-weight="bold" fill-opacity="0.9">LM</text>
</g>
<text x="1413.04" y="125.10" font-size="20.83" fill="#000" font-weight="bold" fill-opacity="0.62">SM: RIGHT MOVING | ENE @ 7 kts</text>
<text x="1412.52" y="154.80" font-size="20.83" fill="#000" fill-opacity="0.6">RM: ENE @ 7 kts</text>
<text x="1412.52" y="195.00" font-size="20.83" fill="#000" fill-opacity="0.6">LM: SE @ 32 kts</text>
<text x="1412.52" y="233.70" font-size="20.83" fill="#000" fill-opacity="0.6">MW: ESE @ 15 kts</text>
<text x="1406.12" y="272.70" font-size="20.83" fill="#000" fill-opacity="0.6">DTM: ENE @ 10 kts</text>
<text x="1412.73" y="312.00" font-size="20.83" fill="#000" fill-opacity="0.6">US: UND @ 11 kts</text>
<text x="1412.52" y="350.70" font-size="20.83" fill="#000" fill-opacity="0.6">DS: SE @ 3 kts</text>
<rect x="2195.50" y="1021.50" width="220.00" height="182.00" fill="#fff" stroke="#000" stroke-width="1.1"/>
<text x="2212.59" y="1048.80" font-size="18.06" fill="#000" font-weight="bold" fill-opacity="0.92">0-3ₖₘ SRH,</text>
<text x="2340.38" y="1048.80" font-size="18.06" fill="#000" font-weight="bold" fill-opacity="0.92">BWD</text>
<text x="2212.59" y="1109.10" font-size="18.06" fill="#000" font-weight="bold" fill-opacity="0.92">0-6ₖₘ SRH,</text>
<text x="2340.38" y="1109.10" font-size="18.06" fill="#000" font-weight="bold" fill-opacity="0.92">BWD</text>
<text x="2218.72" y="1080.00" font-size="18.06" fill="#4169e1" font-weight="bold" fill-opacity="0.9">85 m²/s²</text>
<text x="2338.01" y="1078.80" font-size="18.06" fill="#4169e1" font-weight="bold" fill-opacity="0.9">15 kt</text>
<text x="2218.63" y="1137.00" font-size="18.06" fill="#4169e1" font-weight="bold" fill-opacity="0.9">79 m²/s²</text>
<text x="2343.95" y="1135.80" font-size="18.06" fill="#4169e1" font-weight="bold" fill-opacity="0.9">5 kt</text>
<text x="2205.44" y="1168.20" font-size="18.06" fill="#000" font-weight="bold" fill-opacity="0.92">SCP</text>
<text x="2260.14" y="1168.20" font-size="18.06" fill="#000" font-weight="bold" fill-opacity="0.92">STP</text>
<text x="2318.78" y="1166.10" font-size="18.06" fill="#000" font-weight="bold" fill-opacity="0.92">EHI</text>
<text x="2373.88" y="1166.10" font-size="18.06" fill="#000" font-weight="bold" fill-opacity="0.92">EHI</text>
<text x="2315.18" y="1176.20" font-size="16.67" fill="#000" font-weight="bold" fill-opacity="0.92">₀₋₁ₖₘ</text>
<text x="2370.28" y="1176.20" font-size="16.67" fill="#000" font-weight="bold" fill-opacity="0.92">₀₋₃ₖₘ</text>
<text x="2219.67" y="1192.90" font-size="18.06" fill="#b22222" font-weight="bold" fill-opacity="0.9">4</text>
<text x="2273.62" y="1192.90" font-size="18.06" fill="#b22222" font-weight="bold" fill-opacity="0.9">1</text>
<text x="2329.22" y="1193.90" font-size="18.06" fill="#ff4500" font-weight="bold" fill-opacity="0.95">1</text>
<text x="2384.12" y="1193.90" font-size="18.06" fill="#ff4500" font-weight="bold" fill-opacity="0.95">1</text>
<rect x="1392.50" y="98.50" width="1023.00" height="1105.00" fill="none" stroke="#000" stroke-width="1.1"/>
<rect x="1392.50" y="943.50" width="260.00" height="260.00" fill="#fff" stroke="none" stroke-width="1"/>
<clipPath id="mpc"><rect x="1392.5" y="943.5" width="260.0" height="260.0"/></clipPath>
<g clip-path="url(#mpc)" fill="none" stroke="#111" stroke-width="2.9" stroke-linejoin="round" stroke-linecap="round">
<path d="M1408.1,943.7 L1411.9,948.2 L1414.6,952.8 L1420.2,954.2 L1424.4,957.9 L1424.8,962.1 L1428.5,963.5 L1434.1,962.5 L1436.9,958.8 L1440.6,956.1 L1441.0,951.0 L1442.4,946.8 L1445.2,945.4 L1448.9,949.1 L1452.6,945.9 L1456.3,946.8 L1460.9,950.0 L1463.7,946.8 L1467.4,945.9 L1470.2,948.2 L1473.9,946.8 L1476.2,947.3 L1476.7,943.7"/>
<path d="M1435.0,943.7 L1429.4,945.2 L1424.8,945.9 L1423.9,947.7 L1426.7,949.3 L1429.9,949.9"/>
<path d="M1473.9,947.3 L1475.3,951.0 L1476.7,956.5 L1476.2,963.0 L1472.0,964.9 L1469.3,969.5 L1467.9,974.1 L1469.3,977.8 L1466.5,982.4 L1467.9,985.2 L1473.0,987.1 L1479.4,988.0 L1485.0,990.3 L1489.6,992.6 L1492.4,996.3 L1491.5,997.3"/>
<path d="M1491.5,997.3 L1492.9,1001.0 L1498.0,1003.7 L1501.7,1006.5 L1502.1,1009.3 L1506.3,1013.0 L1510.9,1016.2 L1514.6,1013.0 L1519.3,1012.1 L1525.0,1021.3"/>
<path d="M1519.3,1012.1 L1523.9,1009.3 L1525.0,1008.8"/>
<path d="M1491.5,997.3 L1489.6,995.9 L1485.9,996.8 L1483.1,1000.0 L1482.2,1004.7 L1480.4,1009.3 L1478.5,1013.9 L1477.1,1011.1 L1473.9,1008.4 L1468.3,1006.1 L1464.6,1005.1 L1459.1,1005.6 L1458.1,1007.4"/>
<path d="M1458.1,1007.4 L1452.6,1010.2 L1447.0,1012.5 L1444.3,1011.1 L1439.6,1010.2 L1439.2,1004.7 L1436.9,1001.9 L1432.2,999.1 L1431.3,997.3 L1430.4,1000.0 L1429.4,1005.6 L1428.5,1006.5"/>
<path d="M1428.5,1006.5 L1423.9,1001.9 L1420.2,998.2 L1418.3,993.6 L1416.5,988.0 L1414.6,983.4 L1412.8,979.7 L1412.3,975.0 L1410.0,969.5 L1409.1,963.0 L1403.5,961.6 L1399.8,960.7 L1395.2,963.0 L1392.6,963.5"/>
<path d="M1392.6,965.8 L1395.2,968.6 L1394.3,971.3 L1392.6,972.3"/>
<path d="M1392.6,999.1 L1395.6,1001.4 L1392.6,1002.8"/>
<path d="M1428.5,1006.5 L1427.6,1011.1 L1425.7,1016.7 L1422.0,1018.1 L1417.4,1015.8 L1412.8,1016.2 L1408.1,1014.9 L1404.4,1011.1 L1402.1,1009.3 L1398.0,1011.1 L1392.6,1010.2"/>
<path d="M1458.1,1007.4 L1459.1,1012.1 L1462.3,1013.0 L1461.4,1018.6 L1460.9,1026.0 L1461.4,1026.9"/>
<path d="M1460.5,1026.9 L1458.1,1031.5 L1455.4,1034.8 L1449.8,1037.5 L1446.1,1038.9 L1447.0,1041.7 L1444.3,1046.3 L1440.6,1049.1 L1440.6,1054.7 L1441.5,1059.3 L1441.0,1063.9 L1444.3,1067.6 L1445.2,1073.2 L1447.0,1078.0"/>
<path d="M1461.4,1026.9 L1462.3,1034.3 L1462.8,1039.9 L1461.9,1043.6 L1465.6,1043.6 L1469.3,1041.2 L1473.0,1044.5 L1476.7,1049.1 L1479.4,1053.7 L1481.3,1055.1"/>
<path d="M1481.3,1055.1 L1485.9,1053.7 L1492.4,1054.7 L1498.0,1052.4 L1499.4,1048.2 L1496.1,1043.6 L1500.7,1039.9 L1504.4,1037.5 L1510.0,1038.0 L1515.6,1038.5 L1519.3,1041.2 L1525.0,1039.4"/>
<path d="M1481.3,1055.1 L1480.8,1059.3 L1480.4,1063.0 L1481.8,1067.6 L1482.2,1072.3 L1480.4,1078.0"/>
<path d="M1392.6,1035.2 L1398.0,1035.2 L1401.7,1037.5 L1407.2,1038.5 L1411.4,1038.0 L1414.6,1041.2 L1413.7,1046.3 L1411.4,1051.9 L1407.2,1057.4 L1402.6,1063.0 L1405.4,1065.8 L1410.9,1068.6 L1409.1,1073.2 L1406.8,1078.0"/>
<path d="M1497.5,943.7 L1499.8,946.8 L1504.4,947.3 L1509.1,946.8 L1511.9,951.0 L1514.6,951.9 L1518.3,954.2 L1520.2,957.9 L1517.4,961.1 L1518.3,965.8 L1516.0,971.3 L1518.3,976.9 L1522.0,977.8 L1525.0,977.4"/>
<path d="M1514.6,951.9 L1514.6,947.3 L1515.6,943.7"/>
<path d="M1525.0,1061.1 L1522.0,1062.5 L1521.1,1067.6 L1516.5,1069.5 L1516.9,1074.1 L1515.7,1078.0"/>
<path d="M1525.2,976.0 L1531.7,975.5 L1537.2,975.0 L1542.3,975.0 L1542.8,979.7 L1543.7,986.1 L1541.9,990.8 L1540.5,995.4 L1538.6,998.2 L1540.5,1001.0 L1537.2,1003.7 L1533.5,1007.4 L1530.7,1009.3"/>
<path d="M1532.6,943.7 L1534.9,947.3 L1538.1,950.0 L1540.9,954.7 L1543.7,958.8 L1548.3,962.1 L1553.9,964.4 L1558.5,966.7 L1562.2,969.9 L1565.0,973.6 L1567.8,976.9 L1568.7,982.4 L1568.2,989.9 L1566.4,994.5 L1564.5,998.2 L1563.1,1002.8 L1563.6,1008.4 L1564.1,1014.9 L1564.5,1018.6"/>
<path d="M1566.4,1001.0 L1569.2,997.3 L1570.1,1002.8 L1570.6,1008.4 L1566.9,1008.8 L1565.0,1005.6"/>
<path d="M1569.2,997.3 L1570.6,996.8 L1576.1,995.9 L1581.7,995.4 L1585.4,997.3 L1589.1,995.4 L1591.9,994.9 L1594.2,998.2 L1598.3,999.6 L1602.0,998.2 L1604.8,996.3 L1611.3,996.3 L1615.9,998.2 L1621.5,1000.0 L1622.9,994.9 L1626.1,994.5 L1631.7,996.8 L1637.2,998.6 L1644.6,999.1 L1652.7,998.2"/>
<path d="M1618.7,943.7 L1620.6,948.2 L1623.3,951.9 L1626.1,956.5 L1627.5,959.3 L1632.6,961.6 L1636.3,965.3 L1640.9,970.4 L1645.6,976.0 L1649.3,979.2 L1652.7,981.5"/>
<path d="M1524.3,1009.8 L1530.7,1009.3 L1534.4,1011.6 L1539.1,1011.1 L1545.6,1012.5 L1549.3,1014.4 L1553.0,1013.0 L1558.5,1013.5 L1560.4,1017.6 L1563.1,1019.0 L1564.5,1018.6"/>
<path d="M1526.1,1023.2 L1527.0,1027.8 L1529.8,1032.4 L1531.2,1038.9 L1531.7,1038.9"/>
<path d="M1526.1,1038.5 L1531.7,1038.9 L1534.9,1036.6 L1535.8,1040.8 L1536.8,1046.3 L1537.2,1046.8"/>
<path d="M1537.2,1046.8 L1540.9,1045.4 L1546.5,1045.4 L1552.0,1048.2 L1554.8,1052.8 L1558.5,1051.4 L1563.1,1053.3 L1568.7,1054.7 L1572.4,1052.8 L1578.9,1048.6 L1579.8,1048.6"/>
<path d="M1564.5,1018.6 L1565.0,1023.2 L1563.6,1027.8 L1563.1,1032.4 L1565.0,1035.2 L1569.6,1037.5 L1572.4,1040.8 L1574.3,1044.9 L1579.8,1048.6"/>
<path d="M1537.2,1046.8 L1536.3,1050.0 L1532.6,1051.9 L1529.8,1056.5 L1525.2,1059.3"/>
<path d="M1566.9,1055.6 L1566.9,1056.5 L1561.3,1057.4 L1554.8,1059.3 L1551.1,1063.0 L1548.3,1068.6 L1545.6,1073.2 L1544.6,1078.0"/>
<path d="M1579.8,1048.6 L1581.7,1051.9 L1582.1,1057.4 L1586.3,1061.6 L1586.8,1062.1"/>
<path d="M1586.8,1062.1 L1593.7,1063.9 L1601.1,1065.3 L1608.5,1067.2 L1615.9,1069.5 L1623.3,1071.8 L1629.8,1074.1 L1636.3,1074.6 L1642.8,1070.4 L1648.3,1069.9 L1652.7,1069.5"/>
<path d="M1586.8,1062.1 L1585.4,1065.8 L1582.1,1069.5 L1583.5,1073.2 L1581.7,1078.0"/>
<path d="M1607.6,1067.2 L1603.9,1070.4 L1603.9,1074.1 L1605.3,1078.0"/>
<path d="M1406.8,1078.2 L1406.8,1080.0"/>
<path d="M1392.6,1090.2 L1395.2,1085.6 L1398.9,1083.7 L1402.6,1082.8 L1406.8,1080.0 L1409.1,1084.7 L1412.8,1087.0 L1418.3,1086.1 L1424.8,1086.1 L1430.4,1086.1 L1433.1,1088.8 L1436.9,1091.1 L1438.7,1092.1 L1442.4,1090.2 L1442.9,1084.7 L1444.3,1082.4 L1446.1,1081.9"/>
<path d="M1446.1,1078.2 L1446.1,1081.9 L1449.8,1084.7 L1451.2,1087.0 L1448.4,1089.3 L1451.7,1093.0 L1455.4,1096.7 L1456.8,1100.4 L1457.2,1101.3"/>
<path d="M1436.9,1093.0 L1436.9,1096.7 L1439.6,1099.0 L1445.2,1099.5 L1449.8,1102.3 L1451.2,1104.1 L1448.0,1106.9 L1449.8,1109.7 L1448.9,1114.3 L1448.9,1119.4 L1446.1,1121.2 L1441.5,1122.2 L1437.8,1125.4 L1435.5,1129.1 L1435.0,1132.8 L1431.3,1136.1 L1426.7,1137.0 L1422.0,1135.6 L1419.3,1134.7 L1421.1,1138.4 L1422.0,1142.1 L1423.0,1144.4 L1419.3,1145.8 L1413.7,1142.1 L1414.6,1146.7 L1416.5,1151.3 L1417.9,1156.0 L1416.5,1160.6 L1417.9,1165.2 L1422.0,1168.9 L1423.0,1173.6 L1424.8,1179.1 L1423.4,1183.7 L1423.4,1188.4"/>
<path d="M1457.2,1101.3 L1461.9,1102.3 L1468.3,1104.6 L1473.0,1106.0 L1477.6,1104.1 L1483.1,1103.6 L1487.8,1102.7 L1493.3,1103.2 L1500.7,1103.6 L1507.2,1102.3 L1511.9,1104.6 L1515.6,1105.0 L1519.3,1098.6 L1525.0,1094.4"/>
<path d="M1457.2,1104.1 L1461.9,1108.7 L1467.4,1112.4 L1472.0,1111.1 L1477.6,1111.1 L1482.2,1113.4 L1480.4,1117.1 L1479.4,1121.7 L1480.4,1129.1 L1478.5,1136.5 L1474.8,1141.1 L1469.3,1145.8 L1467.9,1151.3 L1465.6,1157.8 L1465.1,1162.4 L1466.5,1168.0 L1466.0,1175.4"/>
<path d="M1457.2,1101.3 L1456.8,1103.6 L1458.1,1106.0"/>
<path d="M1480.4,1079.1 L1479.0,1085.6 L1473.9,1086.5 L1471.1,1090.2 L1469.7,1093.5 L1472.0,1096.7 L1477.6,1098.1 L1478.5,1102.3 L1477.6,1104.1"/>
<path d="M1515.6,1105.0 L1514.6,1110.6 L1514.2,1117.1 L1515.6,1122.6 L1516.5,1129.1 L1513.7,1133.7 L1510.0,1140.2 L1510.0,1143.0 L1514.6,1144.9 L1515.6,1149.5 L1518.3,1153.2 L1519.3,1158.7 L1518.3,1164.3 L1518.8,1169.9 L1518.3,1174.5 L1518.8,1178.2 L1520.2,1180.0 L1516.5,1182.4 L1510.0,1185.1 L1503.5,1188.4 L1498.9,1193.0 L1494.3,1197.2 L1488.7,1199.5 L1484.1,1202.3 L1478.5,1202.3"/>
<path d="M1466.0,1175.4 L1472.0,1174.5 L1477.6,1173.6 L1482.2,1171.2 L1486.9,1170.3 L1491.5,1168.5 L1494.3,1171.7 L1499.8,1173.1 L1504.4,1173.6 L1507.2,1175.4 L1511.9,1173.6 L1518.3,1174.5 L1525.0,1173.6"/>
<path d="M1466.0,1175.4 L1460.9,1175.9 L1456.3,1177.3 L1451.7,1181.0 L1451.2,1181.9 L1446.1,1183.7 L1443.3,1186.5 L1436.9,1187.0 L1431.3,1188.4 L1423.4,1188.4 L1419.3,1191.6 L1416.5,1188.4 L1410.9,1187.4 L1405.4,1187.9 L1403.5,1189.3 L1399.8,1187.4 L1398.0,1185.6 L1395.2,1188.4 L1392.6,1188.4"/>
<path d="M1451.2,1181.9 L1455.4,1185.6 L1458.1,1189.3 L1461.9,1191.1 L1463.7,1194.9 L1467.4,1197.6 L1471.1,1193.9 L1473.0,1197.6 L1477.6,1201.3 L1479.4,1203.4"/>
<path d="M1444.3,1187.4 L1442.4,1193.0 L1440.6,1196.7 L1436.9,1199.5 L1434.1,1203.4"/>
<path d="M1515.6,1080.0 L1521.1,1081.9 L1523.0,1086.5 L1525.0,1087.4"/>
<path d="M1524.3,1086.5 L1527.0,1090.2 L1528.9,1093.5 L1524.3,1095.3"/>
<path d="M1524.3,1095.8 L1527.0,1101.3 L1530.7,1106.9 L1534.4,1110.6 L1538.1,1111.5 L1541.9,1113.4"/>
<path d="M1543.7,1078.2 L1542.8,1084.7 L1544.6,1090.2 L1548.3,1093.9 L1553.9,1095.8 L1556.7,1095.3 L1556.7,1091.6 L1559.0,1090.7 L1562.2,1093.5 L1565.9,1095.8 L1568.7,1099.5 L1573.3,1101.8 L1575.6,1098.6 L1576.1,1093.0 L1578.9,1084.7 L1581.7,1078.2"/>
<path d="M1548.3,1094.9 L1545.6,1096.7 L1541.4,1097.6 L1540.0,1104.1 L1543.7,1107.8 L1542.8,1112.4 L1541.9,1113.4 L1545.6,1115.2 L1552.0,1116.1 L1558.5,1116.1 L1561.3,1119.9 L1563.1,1122.2 L1560.4,1124.5 L1559.9,1131.0 L1561.3,1135.6 L1565.0,1137.4 L1568.7,1140.2 L1568.7,1144.9 L1571.5,1150.4 L1574.3,1153.2 L1574.3,1155.5 L1570.6,1156.0 L1569.6,1160.6 L1571.5,1164.3 L1572.4,1168.9 L1572.4,1169.4"/>
<path d="M1572.4,1169.4 L1566.9,1169.4 L1561.3,1168.9 L1555.7,1169.9 L1552.0,1172.6 L1548.3,1174.0 L1544.6,1173.6 L1538.1,1172.6 L1531.7,1171.2 L1526.1,1171.7"/>
<path d="M1544.6,1173.6 L1544.6,1177.3 L1543.7,1181.0 L1547.4,1185.1 L1544.6,1188.4 L1542.8,1195.8 L1540.9,1203.4"/>
<path d="M1572.4,1169.4 L1576.1,1171.7 L1578.9,1173.6 L1579.8,1178.2 L1581.7,1181.9 L1583.5,1183.7 L1586.3,1182.8 L1589.1,1177.3 L1590.9,1175.4"/>
<path d="M1590.9,1175.4 L1596.5,1173.6 L1600.2,1170.8 L1605.7,1168.9 L1609.4,1164.3 L1613.1,1159.7 L1613.1,1154.1 L1611.8,1147.6 L1614.1,1142.1 L1615.9,1136.5 L1617.8,1133.7 L1615.5,1130.0 L1611.3,1127.3 L1608.5,1123.6 L1610.4,1119.9 L1615.0,1116.1 L1616.9,1112.4 L1613.1,1111.1 L1611.3,1108.7 L1615.0,1106.0 L1619.6,1104.1 L1620.1,1103.6"/>
<path d="M1620.1,1103.6 L1621.5,1097.6 L1622.4,1091.1 L1620.6,1086.5 L1615.9,1083.3 L1610.4,1082.4 L1606.7,1080.0"/>
<path d="M1620.1,1103.6 L1626.1,1103.2 L1633.5,1103.6 L1640.9,1103.2 L1648.3,1102.7 L1652.7,1103.2"/>
<path d="M1652.7,1105.0 L1650.2,1107.8 L1652.7,1111.5"/>
<path d="M1590.9,1175.4 L1592.8,1179.1 L1595.6,1183.7 L1598.3,1187.4 L1602.0,1191.1 L1605.7,1191.1 L1610.4,1189.3 L1614.1,1187.0 L1617.8,1188.8 L1622.4,1190.2 L1627.0,1191.1 L1629.8,1194.9 L1633.5,1198.6 L1638.1,1201.3 L1644.6,1202.3 L1652.7,1201.3"/>
<path d="M1652.7,1172.6 L1648.3,1173.1 L1643.7,1174.5 L1644.6,1178.2 L1645.6,1181.9 L1649.3,1184.7 L1652.0,1187.4 L1651.1,1193.0 L1652.7,1197.6"/>
<circle cx="1521.3" cy="945.6" r="1.6"/>
<path d="M1419.3,988.9 L1424.8,988.0 L1423.9,991.2 L1420.6,992.2 Z" fill="#111"/>
</g>
<circle cx="1521.9" cy="1112.3" r="6.3" fill="none" stroke="#000" stroke-width="1.6"/>
<line x1="1509.50" y1="1112.30" x2="1534.50" y2="1112.30" stroke="#000" stroke-width="3.6"/>
<line x1="1521.90" y1="1100.00" x2="1521.90" y2="1125.00" stroke="#000" stroke-width="2.2"/>
<rect x="1392.50" y="943.50" width="260.00" height="260.00" fill="none" stroke="#000" stroke-width="1.1"/>
<rect x="34.50" y="1203.50" width="893.00" height="234.00" fill="#fff" stroke="#000" stroke-width="1.1"/>
<text x="134.44" y="1242.70" font-size="20.83" fill="#000" font-weight="bold">SR-ECAPE</text>
<text x="300.26" y="1242.70" font-size="20.83" fill="#000" font-weight="bold">CAPE</text>
<text x="426.25" y="1242.70" font-size="20.83" fill="#000" font-weight="bold">6CAPE</text>
<text x="566.75" y="1242.70" font-size="20.83" fill="#000" font-weight="bold">3CAPE</text>
<text x="714.76" y="1242.70" font-size="20.83" fill="#000" font-weight="bold">CIN</text>
<text x="842.12" y="1242.70" font-size="20.83" fill="#000" font-weight="bold">LCL</text>
<text x="47.64" y="1281.70" font-size="20.83" fill="#000" font-weight="bold">SB:</text>
<text x="133.61" y="1281.70" font-size="20.83" fill="#b22222" font-weight="bold">1422 J/kg</text>
<text x="277.34" y="1281.70" font-size="20.83" fill="#ff4500" font-weight="bold">2000 J/kg</text>
<text x="420.34" y="1281.70" font-size="20.83" fill="#ff4500" font-weight="bold">547 J/kg</text>
<text x="561.86" y="1281.70" font-size="20.83" fill="#ff4500" font-weight="bold">95 J/kg</text>
<text x="695.76" y="1281.70" font-size="20.83" fill="#ff4500" font-weight="bold">-22 J/kg</text>
<text x="827.24" y="1281.70" font-size="20.83" fill="#ff4500" font-weight="bold">221 m</text>
<text x="47.23" y="1320.70" font-size="20.83" fill="#000" font-weight="bold">MU:</text>
<text x="133.61" y="1320.70" font-size="20.83" fill="#b22222" font-weight="bold">1459 J/kg</text>
<text x="277.34" y="1320.70" font-size="20.83" fill="#ff4500" font-weight="bold">2059 J/kg</text>
<text x="420.34" y="1320.70" font-size="20.83" fill="#ff4500" font-weight="bold">558 J/kg</text>
<text x="561.86" y="1320.70" font-size="20.83" fill="#ff4500" font-weight="bold">99 J/kg</text>
<text x="695.76" y="1320.70" font-size="20.83" fill="#ff4500" font-weight="bold">-21 J/kg</text>
<text x="827.24" y="1320.70" font-size="20.83" fill="#ff4500" font-weight="bold">206 m</text>
<text x="47.23" y="1359.70" font-size="20.83" fill="#000" font-weight="bold">ML:</text>
<text x="134.65" y="1359.70" font-size="20.83" fill="#b22222" font-weight="bold">618 J/kg</text>
<text x="276.61" y="1359.70" font-size="20.83" fill="#ff4500" font-weight="bold">1284 J/kg</text>
<text x="421.07" y="1359.70" font-size="20.83" fill="#ff4500" font-weight="bold">400 J/kg</text>
<text x="561.34" y="1359.70" font-size="20.83" fill="#ff4500" font-weight="bold">50 J/kg</text>
<text x="695.76" y="1359.70" font-size="20.83" fill="#ff4500" font-weight="bold">-46 J/kg</text>
<text x="827.97" y="1359.70" font-size="20.83" fill="#ff4500" font-weight="bold">466 m</text>
<text x="47.23" y="1393.70" font-size="20.83" fill="#000" font-weight="bold">DCAPE:</text>
<text x="145.04" y="1393.70" font-size="20.83" fill="#6495ed" font-weight="bold" fill-opacity="0.7">541 J/kg</text>
<text x="47.23" y="1419.70" font-size="20.83" fill="#000" font-weight="bold">DCIN:</text>
<text x="145.66" y="1419.70" font-size="20.83" fill="#6495ed" font-weight="bold" fill-opacity="0.7">0 J/kg</text>
<text x="289.62" y="1413.00" font-size="20.83" fill="#000" font-weight="bold">MUNCAPE:</text>
<text x="417.26" y="1413.00" font-size="20.83" fill="#b22222" font-weight="bold" fill-opacity="0.65">0.1</text>
<text x="497.82" y="1413.00" font-size="20.83" fill="#000" font-weight="bold">Γ₀₋₃:</text>
<text x="563.74" y="1413.00" font-size="20.83" fill="#8b4513" font-weight="bold">5 Δ°C/km</text>
<text x="695.83" y="1413.00" font-size="20.83" fill="#000" font-weight="bold">Γ₃₋₆:</text>
<text x="768.54" y="1413.00" font-size="20.83" fill="#8b4513" font-weight="bold">5 Δ°C/km</text>
<rect x="927.50" y="1203.50" width="330.00" height="299.00" fill="#fff" stroke="#000" stroke-width="1.1"/>
<text x="1042.53" y="1243.10" font-size="20.83" fill="#000" font-weight="bold">RH(%)</text>
<text x="1167.17" y="1243.10" font-size="20.83" fill="#000" font-weight="bold">ω</text>
<text x="949.16" y="1281.40" font-size="20.83" fill="#000" font-weight="bold">0-.5ₖₘ:</text>
<line x1="952.10" y1="1259.90" x2="983.50" y2="1259.90" stroke="#000" stroke-width="1.6"/>
<text x="1047.45" y="1281.40" font-size="20.83" fill="#228b22" font-weight="bold" fill-opacity="1.0">89 %</text>
<text x="1123.71" y="1281.40" font-size="20.83" fill="#228b22" font-weight="bold" fill-opacity="1.0">18.8 g/kg</text>
<text x="949.16" y="1320.40" font-size="20.83" fill="#000" font-weight="bold">0-1ₖₘ:</text>
<line x1="952.10" y1="1298.90" x2="983.50" y2="1298.90" stroke="#000" stroke-width="1.6"/>
<text x="1047.45" y="1320.40" font-size="20.83" fill="#228b22" font-weight="bold" fill-opacity="0.9">82 %</text>
<text x="1123.71" y="1320.40" font-size="20.83" fill="#228b22" font-weight="bold" fill-opacity="0.9">17.1 g/kg</text>
<text x="948.81" y="1359.40" font-size="20.83" fill="#000" font-weight="bold">1-3ₖₘ:</text>
<line x1="952.10" y1="1337.90" x2="983.50" y2="1337.90" stroke="#000" stroke-width="1.6"/>
<text x="1047.45" y="1359.40" font-size="20.83" fill="#228b22" font-weight="bold" fill-opacity="0.8">86 %</text>
<text x="1123.71" y="1359.40" font-size="20.83" fill="#228b22" font-weight="bold" fill-opacity="0.8">12.9 g/kg</text>
<text x="949.75" y="1398.40" font-size="20.83" fill="#000" font-weight="bold">3-6ₖₘ:</text>
<line x1="952.10" y1="1376.90" x2="983.50" y2="1376.90" stroke="#000" stroke-width="1.6"/>
<text x="1047.45" y="1398.40" font-size="20.83" fill="#228b22" font-weight="bold" fill-opacity="0.7">85 %</text>
<text x="1124.65" y="1398.40" font-size="20.83" fill="#228b22" font-weight="bold" fill-opacity="0.7">7.0 g/kg</text>
<text x="948.85" y="1437.40" font-size="20.83" fill="#000" font-weight="bold">6-9ₖₘ:</text>
<line x1="952.10" y1="1415.90" x2="983.50" y2="1415.90" stroke="#000" stroke-width="1.6"/>
<text x="1047.35" y="1437.40" font-size="20.83" fill="#228b22" font-weight="bold" fill-opacity="0.62">74 %</text>
<text x="1124.44" y="1437.40" font-size="20.83" fill="#228b22" font-weight="bold" fill-opacity="0.62">2.4 g/kg</text>
<text x="949.20" y="1466.50" font-size="16.67" fill="#000" font-weight="bold">PWAT:</text>
<text x="1020.55" y="1466.50" font-size="16.67" fill="#006400" font-weight="bold">2.459 in</text>
<text x="1118.38" y="1466.50" font-size="16.67" fill="#000" font-weight="bold">WB:</text>
<text x="1177.45" y="1466.50" font-size="16.67" fill="#006400" font-weight="bold">25 °C</text>
<text x="949.20" y="1492.80" font-size="16.67" fill="#000" font-weight="bold">FRZ:</text>
<text x="1027.35" y="1492.80" font-size="16.67" fill="#6495ed" font-weight="bold">5000m</text>
<text x="1112.28" y="1492.80" font-size="16.67" fill="#000" font-weight="bold">WB0:</text>
<text x="1173.13" y="1492.80" font-size="16.67" fill="#6495ed" font-weight="bold">4900m</text>
<rect x="1257.50" y="1203.50" width="583.00" height="299.00" fill="#fff" stroke="#000" stroke-width="1.1"/>
<text x="1377.33" y="1242.60" font-size="20.83" fill="#000" font-weight="bold" fill-opacity="0.8">BWD</text>
<text x="1483.24" y="1242.60" font-size="20.83" fill="#000" font-weight="bold" fill-opacity="0.8">SRH</text>
<text x="1582.74" y="1242.60" font-size="20.83" fill="#000" font-weight="bold" fill-opacity="0.8">SRW</text>
<text x="1658.04" y="1242.60" font-size="20.83" fill="#000" font-weight="bold" fill-opacity="0.8">SWζ%</text>
<text x="1758.24" y="1242.60" font-size="20.83" fill="#000" font-weight="bold" fill-opacity="0.8">SWζ</text>
<text x="1276.76" y="1281.40" font-size="20.83" fill="#000" font-weight="bold" fill-opacity="0.9">0-.5ₖₘ:</text>
<text x="1371.44" y="1281.40" font-size="20.83" fill="#6495ed" font-weight="bold">22 kt</text>
<text x="1452.04" y="1281.40" font-size="20.83" fill="#6495ed" font-weight="bold">23 m²/s²</text>
<text x="1582.31" y="1281.40" font-size="20.83" fill="#6495ed" font-weight="bold">11 kt</text>
<text x="1675.97" y="1281.40" font-size="20.83" fill="#6495ed" font-weight="bold">45</text>
<text x="1751.46" y="1281.40" font-size="20.83" fill="#6495ed" font-weight="bold">0.01</text>
<text x="1276.76" y="1320.40" font-size="20.83" fill="#000" font-weight="bold" fill-opacity="0.9">0-1ₖₘ:</text>
<text x="1371.44" y="1320.40" font-size="20.83" fill="#7b68ee" font-weight="bold">28 kt</text>
<text x="1452.56" y="1320.40" font-size="20.83" fill="#7b68ee" font-weight="bold">92 m²/s²</text>
<text x="1582.31" y="1320.40" font-size="20.83" fill="#7b68ee" font-weight="bold">14 kt</text>
<text x="1675.55" y="1320.40" font-size="20.83" fill="#7b68ee" font-weight="bold">62</text>
<text x="1751.46" y="1320.40" font-size="20.83" fill="#7b68ee" font-weight="bold">0.01</text>
<text x="1275.41" y="1359.40" font-size="20.83" fill="#000" font-weight="bold" fill-opacity="0.9">1-3ₖₘ:</text>
<text x="1370.71" y="1359.40" font-size="20.83" fill="#4169e1" font-weight="bold">13 kt</text>
<text x="1452.56" y="1359.40" font-size="20.83" fill="#4169e1" font-weight="bold">-6 m²/s²</text>
<text x="1583.04" y="1359.40" font-size="20.83" fill="#4169e1" font-weight="bold">22 kt</text>
<text x="1675.24" y="1359.40" font-size="20.83" fill="#4169e1" font-weight="bold">57</text>
<text x="1751.46" y="1359.40" font-size="20.83" fill="#4169e1" font-weight="bold">0.003</text>
<text x="1276.35" y="1398.40" font-size="20.83" fill="#000" font-weight="bold" fill-opacity="0.9">3-6ₖₘ:</text>
<text x="1370.71" y="1398.40" font-size="20.83" fill="#0000cd" font-weight="bold">13 kt</text>
<text x="1452.56" y="1398.40" font-size="20.83" fill="#0000cd" font-weight="bold">-5 m²/s²</text>
<text x="1582.31" y="1398.40" font-size="20.83" fill="#0000cd" font-weight="bold">10 kt</text>
<text x="1675.45" y="1398.40" font-size="20.83" fill="#0000cd" font-weight="bold">70</text>
<text x="1751.46" y="1398.40" font-size="20.83" fill="#0000cd" font-weight="bold">0.003</text>
<text x="1276.45" y="1437.40" font-size="20.83" fill="#000" font-weight="bold" fill-opacity="0.9">6-9ₖₘ:</text>
<text x="1370.71" y="1437.40" font-size="20.83" fill="#00008b" font-weight="bold">10 kt</text>
<text x="1452.56" y="1437.40" font-size="20.83" fill="#00008b" font-weight="bold">-13 m²/s²</text>
<text x="1583.56" y="1437.40" font-size="20.83" fill="#00008b" font-weight="bold">9 kt</text>
<text x="1675.45" y="1437.40" font-size="20.83" fill="#00008b" font-weight="bold">31</text>
<text x="1751.46" y="1437.40" font-size="20.83" fill="#00008b" font-weight="bold">0.002</text>
<text x="1277.42" y="1476.40" font-size="20.83" fill="#000" font-weight="bold" fill-opacity="0.9">EIL:</text>
<text x="1371.44" y="1476.40" font-size="20.83" fill="#000080" font-weight="bold">27 kt</text>
<text x="1452.11" y="1476.40" font-size="20.83" fill="#000080" font-weight="bold">114 m²/s²</text>
<text x="1582.31" y="1476.40" font-size="20.83" fill="#000080" font-weight="bold">14 kt</text>
<text x="1675.55" y="1476.40" font-size="20.83" fill="#000080" font-weight="bold">66</text>
<text x="1751.46" y="1476.40" font-size="20.83" fill="#000080" font-weight="bold">0.008</text>
<clipPath id="pc0"><rect x="1840.5" y="1203.5" width="143.0" height="299.0"/></clipPath>
<rect x="1840.50" y="1203.50" width="143.00" height="299.00" fill="#fff" stroke="none" stroke-width="1"/>
<rect x="1840.50" y="1346.00" width="143.00" height="156.50" fill="#add8e6" stroke="none" stroke-width="1" fill-opacity="0.2"/>
<clipPath id="pc1"><rect x="1983.5" y="1203.5" width="144.0" height="299.0"/></clipPath>
<rect x="1983.50" y="1203.50" width="144.00" height="299.00" fill="#fff" stroke="none" stroke-width="1"/>
<rect x="1983.50" y="1346.00" width="144.00" height="156.50" fill="#add8e6" stroke="none" stroke-width="1" fill-opacity="0.2"/>
<clipPath id="pc2"><rect x="2127.5" y="1203.5" width="145.0" height="299.0"/></clipPath>
<rect x="2127.50" y="1203.50" width="145.00" height="299.00" fill="#fff" stroke="none" stroke-width="1"/>
<rect x="2127.50" y="1346.00" width="145.00" height="156.50" fill="#add8e6" stroke="none" stroke-width="1" fill-opacity="0.2"/>
<clipPath id="pc3"><rect x="2272.5" y="1203.5" width="143.0" height="299.0"/></clipPath>
<rect x="2272.50" y="1203.50" width="143.00" height="299.00" fill="#fff" stroke="none" stroke-width="1"/>
<rect x="2272.50" y="1346.00" width="143.00" height="156.50" fill="#add8e6" stroke="none" stroke-width="1" fill-opacity="0.2"/>
<g clip-path="url(#pc0)">
<path d="M1968.5,1501.2 L1913.3,1497.1 L1863.3,1492.9 L1840.4,1489.8 L1834.2,1487.7 L1834.2,1507.5 L1968.5,1507.5 Z" fill="#6495ed" stroke="none" stroke-width="1" fill-opacity="0.2"/>
<path d="M1834.2,1457.9 L1840.4,1456.5 L1852.9,1451.2 L1892.5,1444.0 L1955.0,1432.5 L1971.7,1422.1 L1974.2,1403.3 L1978.3,1391.9 L1976.2,1382.5 L1940.4,1372.5 L1892.5,1369.0 L1840.4,1366.2 L1834.2,1365.8 Z" fill="#6495ed" stroke="none" stroke-width="1" fill-opacity="0.2"/>
<path d="M1834.2,1279.4 L1840.4,1278.3 L1892.5,1271.0 L1961.2,1262.7 L1979.0,1253.3 L1975.4,1242.9 L1978.3,1233.5 L1934.2,1224.2 L1892.5,1217.9 L1850.8,1211.7 L1840.4,1208.5 L1834.2,1206.5 Z" fill="#6495ed" stroke="none" stroke-width="1" fill-opacity="0.2"/>
</g>
<line x1="1840.50" y1="1253.30" x2="1983.50" y2="1253.30" stroke="#808080" stroke-width="1.1" stroke-opacity="0.75"/>
<line x1="1840.50" y1="1303.30" x2="1983.50" y2="1303.30" stroke="#808080" stroke-width="1.1" stroke-opacity="0.75"/>
<line x1="1840.50" y1="1353.30" x2="1983.50" y2="1353.30" stroke="#808080" stroke-width="1.1" stroke-opacity="0.75"/>
<line x1="1840.50" y1="1403.30" x2="1983.50" y2="1403.30" stroke="#808080" stroke-width="1.1" stroke-opacity="0.75"/>
<line x1="1840.50" y1="1453.30" x2="1983.50" y2="1453.30" stroke="#808080" stroke-width="1.1" stroke-opacity="0.75"/>
<line x1="1983.50" y1="1253.30" x2="2127.50" y2="1253.30" stroke="#808080" stroke-width="1.1" stroke-opacity="0.75"/>
<line x1="1983.50" y1="1303.30" x2="2127.50" y2="1303.30" stroke="#808080" stroke-width="1.1" stroke-opacity="0.75"/>
<line x1="1983.50" y1="1353.30" x2="2127.50" y2="1353.30" stroke="#808080" stroke-width="1.1" stroke-opacity="0.75"/>
<line x1="1983.50" y1="1403.30" x2="2127.50" y2="1403.30" stroke="#808080" stroke-width="1.1" stroke-opacity="0.75"/>
<line x1="1983.50" y1="1453.30" x2="2127.50" y2="1453.30" stroke="#808080" stroke-width="1.1" stroke-opacity="0.75"/>
<line x1="2127.50" y1="1253.30" x2="2272.50" y2="1253.30" stroke="#808080" stroke-width="1.1" stroke-opacity="0.75"/>
<line x1="2127.50" y1="1303.30" x2="2272.50" y2="1303.30" stroke="#808080" stroke-width="1.1" stroke-opacity="0.75"/>
<line x1="2127.50" y1="1353.30" x2="2272.50" y2="1353.30" stroke="#808080" stroke-width="1.1" stroke-opacity="0.75"/>
<line x1="2127.50" y1="1403.30" x2="2272.50" y2="1403.30" stroke="#808080" stroke-width="1.1" stroke-opacity="0.75"/>
<line x1="2127.50" y1="1453.30" x2="2272.50" y2="1453.30" stroke="#808080" stroke-width="1.1" stroke-opacity="0.75"/>
<line x1="2272.50" y1="1253.30" x2="2415.50" y2="1253.30" stroke="#808080" stroke-width="1.1" stroke-opacity="0.75"/>
<line x1="2272.50" y1="1303.30" x2="2415.50" y2="1303.30" stroke="#808080" stroke-width="1.1" stroke-opacity="0.75"/>
<line x1="2272.50" y1="1353.30" x2="2415.50" y2="1353.30" stroke="#808080" stroke-width="1.1" stroke-opacity="0.75"/>
<line x1="2272.50" y1="1403.30" x2="2415.50" y2="1403.30" stroke="#808080" stroke-width="1.1" stroke-opacity="0.75"/>
<line x1="2272.50" y1="1453.30" x2="2415.50" y2="1453.30" stroke="#808080" stroke-width="1.1" stroke-opacity="0.75"/>
<g clip-path="url(#pc0)" fill="none" stroke-linejoin="round">
<path d="M1968.5,1501.2 L1913.3,1497.1 L1863.3,1492.9 L1840.4,1489.8 L1834.2,1487.7" stroke="#800080" stroke-width="4.2"/>
<path d="M1834.2,1457.9 L1840.4,1456.5 L1852.9,1451.2 L1892.5,1444.0 L1955.0,1432.5 L1971.7,1422.1 L1974.2,1403.3 L1974.2,1403.3" stroke="#800080" stroke-width="4.2" stroke-opacity="1.0"/>
<path d="M1974.2,1403.3 L1978.3,1391.9 L1976.2,1382.5 L1940.4,1372.5 L1892.5,1369.0 L1840.4,1366.2 L1834.2,1365.8" stroke="#ff0000" stroke-width="4.2" stroke-opacity="1.0"/>
<path d="M1834.2,1279.4 L1840.4,1278.3 L1892.5,1271.0 L1961.2,1262.7 L1979.0,1253.3 L1975.4,1242.9 L1978.3,1233.5 L1934.2,1224.2 L1892.5,1217.9 L1850.8,1211.7 L1840.4,1208.5 L1834.2,1206.5" stroke="#ff0000" stroke-width="4.2"/>
</g>
<text x="1848.43" y="1226.70" font-size="13.89" fill="#000" font-weight="bold" fill-opacity="0.9">Streamwiseness</text>
<text x="1884.64" y="1242.90" font-size="13.89" fill="#000" font-weight="bold" fill-opacity="0.9">of ζ (%)</text>
<text x="1855.71" y="1303.75" font-size="13.19" fill="#000" font-weight="bold">2 km</text>
<text x="1855.25" y="1352.90" font-size="13.19" fill="#000" font-weight="bold">1.5 km</text>
<text x="1855.25" y="1402.90" font-size="13.19" fill="#000" font-weight="bold">1 km</text>
<text x="1855.38" y="1452.90" font-size="13.19" fill="#000" font-weight="bold">.5 km</text>
<text x="1853.78" y="1496.50" font-size="13.89" fill="#000" font-weight="bold" font-style="italic" fill-opacity="0.5">50</text>
<line x1="1863.30" y1="1502.50" x2="1863.30" y2="1498.50" stroke="#000" stroke-width="1"/>
<text x="1899.83" y="1496.50" font-size="13.89" fill="#000" font-weight="bold" font-style="italic" fill-opacity="0.5">70</text>
<line x1="1909.80" y1="1502.50" x2="1909.80" y2="1498.50" stroke="#000" stroke-width="1"/>
<text x="1946.77" y="1496.50" font-size="13.89" fill="#000" font-weight="bold" font-style="italic" fill-opacity="0.5">90</text>
<line x1="1956.50" y1="1502.50" x2="1956.50" y2="1498.50" stroke="#000" stroke-width="1"/>
<g clip-path="url(#pc1)" stroke-linejoin="round">
<path d="M1983.5,1203.5 L1999.8,1203.8 L1998.8,1215.8 L1996.7,1226.2 L1999.8,1236.7 L2001.9,1247.1 L1998.8,1257.5 L1995.6,1270.0 L1998.8,1282.5 L1999.8,1295.0 L1998.3,1307.5 L1999.8,1322.1 L1996.7,1334.6 L1991.5,1345.0 L1987.9,1355.4 L1987.3,1365.8 L1991.5,1378.3 L1997.7,1392.9 L2002.9,1405.4 L2008.1,1420.0 L2011.2,1430.4 L2017.5,1438.8 L2027.9,1447.1 L2038.3,1455.4 L2045.6,1463.8 L2047.7,1472.1 L2042.5,1480.4 L2035.2,1486.7 L2031.0,1492.9 L2031.0,1501.9 L1983.5,1502.5 Z" fill="#000" stroke="none" stroke-width="1" fill-opacity="0.09"/>
<path d="M1983.5,1203.5 L1988.3,1203.8 L1991.5,1215.8 L1996.7,1228.3 L2001.9,1240.8 L2000.8,1251.2 L1994.6,1263.8 L1988.3,1278.3 L1985.2,1292.9 L1986.7,1307.5 L1989.4,1320.0 L1987.3,1332.5 L1985.2,1345.0 L1985.2,1361.7 L1988.3,1376.2 L1996.7,1392.9 L2002.9,1405.4 L2007.1,1420.0 L2009.2,1432.5 L2007.1,1445.0 L2002.9,1457.5 L2000.8,1470.0 L2001.9,1482.5 L2005.0,1492.9 L2017.5,1497.1 L2030.0,1501.9 L1983.5,1502.5 Z" fill="#ffa500" stroke="none" stroke-width="1" fill-opacity="0.2"/>
<path d="M1988.3,1203.8 L1991.5,1215.8 L1996.7,1228.3 L2001.9,1240.8 L2000.8,1251.2 L1994.6,1263.8 L1988.3,1278.3 L1985.2,1292.9 L1986.7,1307.5 L1989.4,1320.0 L1987.3,1332.5 L1985.2,1345.0 L1985.2,1361.7 L1988.3,1376.2 L1996.7,1392.9 L2002.9,1405.4 L2007.1,1420.0 L2009.2,1432.5 L2007.1,1445.0 L2002.9,1457.5 L2000.8,1470.0 L2001.9,1482.5 L2005.0,1492.9 L2017.5,1497.1 L2030.0,1501.9" fill="none" stroke="#ffa500" stroke-width="4.4" stroke-opacity="0.8"/>
<path d="M1999.8,1203.8 L1998.8,1215.8 L1996.7,1226.2 L1999.8,1236.7 L2001.9,1247.1 L1998.8,1257.5 L1995.6,1270.0 L1998.8,1282.5 L1999.8,1295.0 L1998.3,1307.5 L1999.8,1322.1 L1996.7,1334.6 L1991.5,1345.0 L1987.9,1355.4 L1987.3,1365.8 L1991.5,1378.3 L1997.7,1392.9 L2002.9,1405.4 L2008.1,1420.0 L2011.2,1430.4 L2017.5,1438.8 L2027.9,1447.1 L2038.3,1455.4 L2045.6,1463.8 L2047.7,1472.1 L2042.5,1480.4 L2035.2,1486.7 L2031.0,1492.9 L2031.0,1501.9" fill="none" stroke="#000" stroke-width="5.4" stroke-opacity="0.45"/>
</g>
<text x="2015.40" y="1226.70" font-size="16.67" fill="#000" font-weight="bold" fill-opacity="0.9">Total ζ &amp;</text>
<text x="1992.33" y="1248.10" font-size="16.67" fill="#000" font-weight="bold" fill-opacity="0.9">Streamwise ζ</text>
<text x="2029.58" y="1269.00" font-size="16.67" fill="#000" font-weight="bold" fill-opacity="0.9">(/sec)</text>
<text x="1996.29" y="1496.50" font-size="13.89" fill="#000" font-weight="bold" font-style="italic" fill-opacity="0.5">.01</text>
<line x1="2008.10" y1="1502.50" x2="2008.10" y2="1498.50" stroke="#000" stroke-width="1"/>
<text x="2043.77" y="1496.50" font-size="13.89" fill="#000" font-weight="bold" font-style="italic" fill-opacity="0.5">.03</text>
<line x1="2056.00" y1="1502.50" x2="2056.00" y2="1498.50" stroke="#000" stroke-width="1"/>
<text x="2092.34" y="1496.50" font-size="13.89" fill="#000" font-weight="bold" font-style="italic" fill-opacity="0.5">.05</text>
<line x1="2104.60" y1="1502.50" x2="2104.60" y2="1498.50" stroke="#000" stroke-width="1"/>
<g clip-path="url(#pc2)" stroke-linejoin="round" fill="none">
<path d="M2122.5,1198.5 L2148.1,1201.2 L2149.2,1203.8 L2154.4,1215.8 L2157.1,1226.2 L2158.1,1240.8 L2156.5,1255.4 L2157.1,1265.8 L2161.7,1280.4 L2167.9,1295.0 L2176.2,1311.7 L2183.5,1328.3 L2188.8,1340.8 L2191.5,1355.4 L2192.9,1372.1 L2193.5,1388.8 L2192.9,1403.3 L2190.8,1417.9 L2187.7,1430.4 L2182.5,1441.9 L2172.1,1452.3 L2151.2,1464.8 L2127.7,1478.3 L2124.2,1480.4 L2122.5,1480.4 Z" fill="#6495ed" stroke="none" stroke-width="1" fill-opacity="0.2"/>
<path d="M2124.2,1480.4 L2127.7,1478.3 L2151.2,1464.8 L2172.1,1452.3 L2182.5,1441.9 L2187.7,1430.4 L2190.8,1417.9 L2192.9,1403.3 L2192.9,1403.3" stroke="#800080" stroke-width="4.6" stroke-opacity="0.8"/>
<path d="M2192.9,1403.3 L2193.5,1388.8 L2192.9,1372.1 L2191.5,1355.4 L2188.8,1340.8 L2183.5,1328.3 L2176.2,1311.7 L2167.9,1295.0 L2161.7,1280.4 L2157.1,1265.8 L2156.5,1255.4 L2158.1,1240.8 L2157.1,1226.2 L2154.4,1215.8 L2149.2,1203.8 L2148.1,1201.2" stroke="#ff0000" stroke-width="4.6" stroke-opacity="0.8"/>
</g>
<text x="2128.63" y="1234.60" font-size="16.67" fill="#000" font-weight="bold" fill-opacity="0.9">Storm Relative</text>
<text x="2150.88" y="1255.40" font-size="16.67" fill="#000" font-weight="bold" fill-opacity="0.9">Wind (kts)</text>
<text x="2153.62" y="1496.50" font-size="13.89" fill="#000" font-weight="bold" font-style="italic" fill-opacity="0.5">20</text>
<line x1="2163.10" y1="1502.50" x2="2163.10" y2="1498.50" stroke="#000" stroke-width="1"/>
<text x="2190.15" y="1496.50" font-size="13.89" fill="#000" font-weight="bold" font-style="italic" fill-opacity="0.5">30</text>
<line x1="2199.60" y1="1502.50" x2="2199.60" y2="1498.50" stroke="#000" stroke-width="1"/>
<text x="2227.28" y="1496.50" font-size="13.89" fill="#000" font-weight="bold" font-style="italic" fill-opacity="0.5">40</text>
<line x1="2236.70" y1="1502.50" x2="2236.70" y2="1498.50" stroke="#000" stroke-width="1"/>
<text x="2237.07" y="1383.10" font-size="12.50" fill="#000" font-weight="bold">-LFC-</text>
<text x="2237.07" y="1480.80" font-size="12.50" fill="#000" font-weight="bold">-LCL-</text>
<g clip-path="url(#pc3)">
<path d="M2342.9,1203.8 L2332.5,1205.4 L2325.2,1214.8 L2328.3,1224.2 L2338.8,1231.5 L2342.9,1233.5 Z" fill="#008080" stroke="none" stroke-width="1" fill-opacity="0.45"/>
<path d="M2342.9,1307.5 L2338.8,1315.8 L2335.6,1324.2 L2337.7,1334.6 L2342.9,1342.9 L2338.8,1353.3 L2336.7,1372.1 L2335.6,1392.9 L2334.6,1413.8 L2328.3,1428.3 L2323.8,1441.9 L2328.3,1453.3 L2328.8,1463.8 L2331.5,1476.2 L2332.5,1490.8 L2337.7,1501.9 L2342.9,1501.9 Z" fill="#008080" stroke="none" stroke-width="1" fill-opacity="0.45"/>
<path d="M2342.9,1226.2 L2347.1,1236.7 L2347.1,1253.3 L2350.2,1267.9 L2354.4,1282.5 L2353.3,1295.0 L2352.3,1303.3 L2348.1,1315.8 L2345.0,1324.2 L2346.0,1332.5 L2343.3,1342.9 L2350.2,1351.2 L2351.7,1361.7 L2352.3,1378.3 L2351.7,1392.9 L2352.9,1403.3 L2353.3,1412.7 L2350.2,1424.2 L2349.2,1434.6 L2351.2,1442.9 L2361.7,1453.3 L2363.8,1463.8 L2372.1,1476.2 L2376.2,1492.9 L2390.8,1501.9 L2342.9,1501.9 Z" fill="#ff7f0e" stroke="none" stroke-width="1" fill-opacity="0.8"/>
<line x1="2342.90" y1="1203.50" x2="2342.90" y2="1502.50" stroke="#1f77b4" stroke-width="1.6" stroke-dasharray="1.6 2.6"/>
</g>
<text x="2298.43" y="1226.70" font-size="16.67" fill="#000" font-weight="bold" fill-opacity="0.9">Stepwise</text>
<text x="2291.75" y="1248.10" font-size="16.67" fill="#000" font-weight="bold" fill-opacity="0.9">CIN &amp; CAPE</text>
<text x="2318.98" y="1269.00" font-size="16.67" fill="#000" font-weight="bold" fill-opacity="0.9">(J/kg)</text>
<line x1="2295.40" y1="1502.50" x2="2295.40" y2="1498.50" stroke="#000" stroke-width="1"/>
<text x="2294.9" y="1486.4" font-size="13.19" font-weight="bold" font-style="italic" fill="#000" fill-opacity="0.5" text-anchor="middle" transform="rotate(-45 2294.9 1486.4)" dy="0.36em">-200</text>
<line x1="2319.40" y1="1502.50" x2="2319.40" y2="1498.50" stroke="#000" stroke-width="1"/>
<text x="2318.9" y="1486.4" font-size="13.19" font-weight="bold" font-style="italic" fill="#000" fill-opacity="0.5" text-anchor="middle" transform="rotate(-45 2318.9 1486.4)" dy="0.36em">-100</text>
<line x1="2343.30" y1="1502.50" x2="2343.30" y2="1498.50" stroke="#000" stroke-width="1"/>
<text x="2339.8" y="1486.4" font-size="13.19" font-weight="bold" font-style="italic" fill="#000" fill-opacity="0.5" text-anchor="middle" transform="rotate(-45 2339.8 1486.4)" dy="0.36em">0</text>
<line x1="2367.50" y1="1502.50" x2="2367.50" y2="1498.50" stroke="#000" stroke-width="1"/>
<text x="2367.0" y="1486.4" font-size="13.19" font-weight="bold" font-style="italic" fill="#000" fill-opacity="0.5" text-anchor="middle" transform="rotate(-45 2367.0 1486.4)" dy="0.36em">1k</text>
<line x1="2391.50" y1="1502.50" x2="2391.50" y2="1498.50" stroke="#000" stroke-width="1"/>
<text x="2391.0" y="1486.4" font-size="13.19" font-weight="bold" font-style="italic" fill="#000" fill-opacity="0.5" text-anchor="middle" transform="rotate(-45 2391.0 1486.4)" dy="0.36em">2k</text>
<rect x="1840.50" y="1203.50" width="143.00" height="299.00" fill="none" stroke="#000" stroke-width="1.1"/>
<rect x="1983.50" y="1203.50" width="144.00" height="299.00" fill="none" stroke="#000" stroke-width="1.1"/>
<rect x="2127.50" y="1203.50" width="145.00" height="299.00" fill="none" stroke="#000" stroke-width="1.1"/>
<rect x="2272.50" y="1203.50" width="143.00" height="299.00" fill="none" stroke="#000" stroke-width="1.1"/>
<circle cx="80.2" cy="1475.8" r="31.9" fill="#e4e9f6" stroke="#1a2030" stroke-width="1.3"/>
<path d="M70,1448 q-3,6 -1.5,12 q2.5,8 6,14 q4,8 8,16 q3,6 8,9" fill="none" stroke="#f0a8a8" stroke-width="0.6" opacity="0.6"/>
<path d="M62,1474 l9,3 l-8,3 l10,3 l-9,3 l10,2.5 l-8,3" fill="none" stroke="#a5d6a7" stroke-width="0.8" opacity="0.7"/>
<path d="M51,1459 h58 M49,1478 h62 M53,1493 h54" fill="none" stroke="#c9d2ea" stroke-width="0.5" opacity="0.6"/>
<text x="50.6" y="1472.9" font-size="11.6" font-weight="bold" fill="#000" textLength="55.8" lengthAdjust="spacingAndGlyphs">SOUNDER</text>
<text x="79.84" y="1488.80" font-size="21.70" fill="#2e8b1e">P</text>
<text x="95.91" y="1488.80" font-size="21.70" fill="#dd1111">Y</text>
<text x="80.2" y="1499.6" font-size="3.3" font-weight="bold" text-anchor="middle" fill="#000" textLength="38" lengthAdjust="spacingAndGlyphs">SOUNDING ANALYSIS TOOL</text>
<text x="80.5" y="1503.0" font-size="3.3" font-weight="bold" text-anchor="middle" fill="#000" textLength="26" lengthAdjust="spacingAndGlyphs">FOR PYTHON</text>
<text x="136.66" y="1470.60" font-size="27.78" fill="#6495ed" font-weight="bold" fill-opacity="0.6">SOUNDERPY VERTICAL PROFILE ANALYSIS TOOL</text>
<text x="209.13" y="1496.60" font-size="20.83" fill="#6495ed" font-weight="bold" fill-opacity="0.6">(C) KYLE J GILLETT | sounderpysoundings.anvil.app</text>
<path d="M0,0H2455V1532H0Z M7,6V1525H2448V6Z" fill="#000" fill-rule="evenodd"/>
</svg></body></html>
